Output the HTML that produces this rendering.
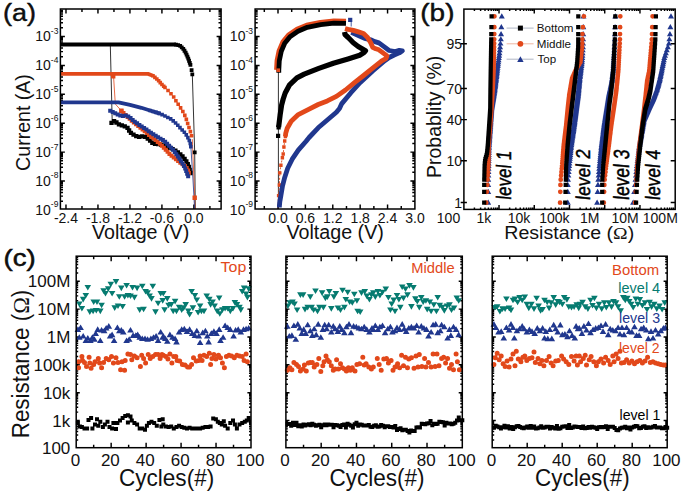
<!DOCTYPE html><html><head><meta charset="utf-8"><style>html,body{margin:0;padding:0;background:#fff;overflow:hidden}svg{display:block}text{font-family:"Liberation Sans", sans-serif}</style></head><body>
<svg width="685" height="495" viewBox="0 0 685 495">
<rect width="685" height="495" fill="#fff"/>
<text transform="translate(3.08 21.41) scale(1.0800 0.9702)" font-size="25" fill="#111" stroke="#000" stroke-width="0.4">(a)</text>
<text transform="translate(420.33 21.41) scale(1.1164 0.9702)" font-size="25" fill="#111" stroke="#000" stroke-width="0.4">(b)</text>
<text transform="translate(3.54 265.52) scale(1.1038 0.9489)" font-size="25" fill="#111" stroke="#000" stroke-width="0.5">(c)</text>
<path d="M60.4 201.2L63 201.2M221.1 201.2L218.5 201.2M60.4 196.11L63 196.11M221.1 196.11L218.5 196.11M60.4 192.5L63 192.5M221.1 192.5L218.5 192.5M60.4 189.7L63 189.7M221.1 189.7L218.5 189.7M60.4 187.41L63 187.41M221.1 187.41L218.5 187.41M60.4 185.48L63 185.48M221.1 185.48L218.5 185.48M60.4 183.8L63 183.8M221.1 183.8L218.5 183.8M60.4 182.32L63 182.32M221.1 182.32L218.5 182.32M60.4 181L64.9 181M221.1 181L216.6 181M60.4 172.3L63 172.3M221.1 172.3L218.5 172.3M60.4 167.21L63 167.21M221.1 167.21L218.5 167.21M60.4 163.6L63 163.6M221.1 163.6L218.5 163.6M60.4 160.8L63 160.8M221.1 160.8L218.5 160.8M60.4 158.51L63 158.51M221.1 158.51L218.5 158.51M60.4 156.58L63 156.58M221.1 156.58L218.5 156.58M60.4 154.9L63 154.9M221.1 154.9L218.5 154.9M60.4 153.42L63 153.42M221.1 153.42L218.5 153.42M60.4 152.1L64.9 152.1M221.1 152.1L216.6 152.1M60.4 143.4L63 143.4M221.1 143.4L218.5 143.4M60.4 138.31L63 138.31M221.1 138.31L218.5 138.31M60.4 134.7L63 134.7M221.1 134.7L218.5 134.7M60.4 131.9L63 131.9M221.1 131.9L218.5 131.9M60.4 129.61L63 129.61M221.1 129.61L218.5 129.61M60.4 127.68L63 127.68M221.1 127.68L218.5 127.68M60.4 126L63 126M221.1 126L218.5 126M60.4 124.52L63 124.52M221.1 124.52L218.5 124.52M60.4 123.2L64.9 123.2M221.1 123.2L216.6 123.2M60.4 114.5L63 114.5M221.1 114.5L218.5 114.5M60.4 109.41L63 109.41M221.1 109.41L218.5 109.41M60.4 105.8L63 105.8M221.1 105.8L218.5 105.8M60.4 103L63 103M221.1 103L218.5 103M60.4 100.71L63 100.71M221.1 100.71L218.5 100.71M60.4 98.78L63 98.78M221.1 98.78L218.5 98.78M60.4 97.1L63 97.1M221.1 97.1L218.5 97.1M60.4 95.62L63 95.62M221.1 95.62L218.5 95.62M60.4 94.3L64.9 94.3M221.1 94.3L216.6 94.3M60.4 85.6L63 85.6M221.1 85.6L218.5 85.6M60.4 80.51L63 80.51M221.1 80.51L218.5 80.51M60.4 76.9L63 76.9M221.1 76.9L218.5 76.9M60.4 74.1L63 74.1M221.1 74.1L218.5 74.1M60.4 71.81L63 71.81M221.1 71.81L218.5 71.81M60.4 69.88L63 69.88M221.1 69.88L218.5 69.88M60.4 68.2L63 68.2M221.1 68.2L218.5 68.2M60.4 66.72L63 66.72M221.1 66.72L218.5 66.72M60.4 65.4L64.9 65.4M221.1 65.4L216.6 65.4M60.4 56.7L63 56.7M221.1 56.7L218.5 56.7M60.4 51.61L63 51.61M221.1 51.61L218.5 51.61M60.4 48L63 48M221.1 48L218.5 48M60.4 45.2L63 45.2M221.1 45.2L218.5 45.2M60.4 42.91L63 42.91M221.1 42.91L218.5 42.91M60.4 40.98L63 40.98M221.1 40.98L218.5 40.98M60.4 39.3L63 39.3M221.1 39.3L218.5 39.3M60.4 37.82L63 37.82M221.1 37.82L218.5 37.82M60.4 36.5L64.9 36.5M221.1 36.5L216.6 36.5M60.4 27.8L63 27.8M221.1 27.8L218.5 27.8M60.4 22.71L63 22.71M221.1 22.71L218.5 22.71M60.4 19.1L63 19.1M221.1 19.1L218.5 19.1M60.4 16.3L63 16.3M221.1 16.3L218.5 16.3M60.4 14.01L63 14.01M221.1 14.01L218.5 14.01M60.4 12.08L63 12.08M221.1 12.08L218.5 12.08M60.4 10.4L63 10.4M221.1 10.4L218.5 10.4M65.98 209L65.98 204.5M65.98 9L65.98 13.5M81.97 209L81.97 206M81.97 9L81.97 12M97.96 209L97.96 204.5M97.96 9L97.96 13.5M113.95 209L113.95 206M113.95 9L113.95 12M129.94 209L129.94 204.5M129.94 9L129.94 13.5M145.93 209L145.93 206M145.93 9L145.93 12M161.92 209L161.92 204.5M161.92 9L161.92 13.5M177.91 209L177.91 206M177.91 9L177.91 12M193.9 209L193.9 204.5M193.9 9L193.9 13.5M209.89 209L209.89 206M209.89 9L209.89 12" stroke="#000" stroke-width="1.45" fill="none"/>
<text x="58.4" y="214.5" font-size="14" text-anchor="end" fill="#111">10<tspan font-size="8.5" dy="-7.2">-9</tspan></text>
<text x="58.4" y="185.6" font-size="14" text-anchor="end" fill="#111">10<tspan font-size="8.5" dy="-7.2">-8</tspan></text>
<text x="58.4" y="156.7" font-size="14" text-anchor="end" fill="#111">10<tspan font-size="8.5" dy="-7.2">-7</tspan></text>
<text x="58.4" y="127.8" font-size="14" text-anchor="end" fill="#111">10<tspan font-size="8.5" dy="-7.2">-6</tspan></text>
<text x="58.4" y="98.9" font-size="14" text-anchor="end" fill="#111">10<tspan font-size="8.5" dy="-7.2">-5</tspan></text>
<text x="58.4" y="70" font-size="14" text-anchor="end" fill="#111">10<tspan font-size="8.5" dy="-7.2">-4</tspan></text>
<text x="58.4" y="41.1" font-size="14" text-anchor="end" fill="#111">10<tspan font-size="8.5" dy="-7.2">-3</tspan></text>
<text x="65.98" y="223" font-size="14" text-anchor="middle" fill="#111" >-2.4</text>
<text x="97.96" y="223" font-size="14" text-anchor="middle" fill="#111" >-1.8</text>
<text x="129.94" y="223" font-size="14" text-anchor="middle" fill="#111" >-1.2</text>
<text x="161.92" y="223" font-size="14" text-anchor="middle" fill="#111" >-0.6</text>
<text x="193.9" y="223" font-size="14" text-anchor="middle" fill="#111" >0.0</text>
<text transform="translate(91.93 238.89) scale(1.0637 1.0435)" font-size="18.5" fill="#111" >Voltage (V)</text>
<text transform="translate(29.56 170.88) rotate(-90) scale(0.9788 0.9973)" font-size="20" fill="#111" >Current (A)</text>
<path d="M110.3 44.6L112.2 121" stroke="#000" stroke-width="0.8" fill="none" stroke-linejoin="round" />
<path d="M113.6 77L115.3 104L121.4 110.8" stroke="#e2481a" stroke-width="0.8" fill="none" stroke-linejoin="round" />
<path d="M192.3 74L194.7 152.4L195.3 209" stroke="#000" stroke-width="0.8" fill="none" stroke-linejoin="round" />
<path d="M192.3 139.2L194.7 197.8L195.1 209" stroke="#e2481a" stroke-width="0.8" fill="none" stroke-linejoin="round" />
<path d="M190.9 147.3L193 180L194.6 208.5" stroke="#20378e" stroke-width="0.8" fill="none" stroke-linejoin="round" />
<path d="M60.4 102.4L118.5 102.4L130 104.8L141.4 107.8L150 110.5L160 113.6" stroke="#20378e" stroke-width="3.8" fill="none" stroke-linejoin="round" />
<path d="M148.2 108.7h3.6v3.6h-3.6zM151.26 109.65h3.6v3.6h-3.6zM154.31 110.6h3.6v3.6h-3.6zM157.37 111.54h3.6v3.6h-3.6zM160.3 112.81h3.6v3.6h-3.6zM163.18 114.21h3.6v3.6h-3.6zM166.03 115.65h3.6v3.6h-3.6zM168.88 117.12h3.6v3.6h-3.6zM171.42 119.03h3.6v3.6h-3.6zM173.78 121.19h3.6v3.6h-3.6zM176 123.49h3.6v3.6h-3.6zM178.16 125.85h3.6v3.6h-3.6zM180.37 128.17h3.6v3.6h-3.6zM182.56 130.49h3.6v3.6h-3.6zM184.46 133.07h3.6v3.6h-3.6zM186.09 135.82h3.6v3.6h-3.6zM187.48 138.69h3.6v3.6h-3.6zM188.48 141.72h3.6v3.6h-3.6zM189 144.88h3.6v3.6h-3.6z" fill="#20378e"/>
<path d="M60.4 73.9L148 73.9L153 75.8" stroke="#e2481a" stroke-width="3.8" fill="none" stroke-linejoin="round" />
<path d="M151.2 74h3.6v3.6h-3.6zM153.11 75.61h3.6v3.6h-3.6zM155.03 77.22h3.6v3.6h-3.6zM156.83 78.94h3.6v3.6h-3.6zM158.46 80.83h3.6v3.6h-3.6zM160.16 82.66h3.6v3.6h-3.6zM161.93 84.43h3.6v3.6h-3.6z" fill="#e2481a"/>
<path d="M163.2 85.7h3.6v3.6h-3.6zM166.24 88.74h3.6v3.6h-3.6zM169.18 91.88h3.6v3.6h-3.6zM171.89 95.19h3.6v3.6h-3.6zM174.1 98.88h3.6v3.6h-3.6zM176.39 102.52h3.6v3.6h-3.6zM178.79 106.09h3.6v3.6h-3.6zM181.05 109.75h3.6v3.6h-3.6zM183.01 113.56h3.6v3.6h-3.6zM184.55 117.57h3.6v3.6h-3.6zM185.86 121.66h3.6v3.6h-3.6zM187.19 125.75h3.6v3.6h-3.6zM188.6 129.82h3.6v3.6h-3.6zM189.81 133.93h3.6v3.6h-3.6z" fill="#e2481a"/>
<path d="M192.5 195.6h4.4v4.4h-4.4zM111 74.2h4.4v4.4h-4.4zM119.2 108.6h4.4v4.4h-4.4z" fill="#e2481a"/>
<path d="M109.35 120.65h4.3v4.3h-4.3zM111.93 118.93h4.3v4.3h-4.3zM114.31 120.35h4.3v4.3h-4.3zM116.8 122.14h4.3v4.3h-4.3zM119.68 123.28h4.3v4.3h-4.3zM122.62 124.27h4.3v4.3h-4.3zM125.36 125.7h4.3v4.3h-4.3zM126.97 128.34h4.3v4.3h-4.3zM128.79 130.78h4.3v4.3h-4.3zM131.37 132.5h4.3v4.3h-4.3zM134.08 133.99h4.3v4.3h-4.3zM136.93 134.78h4.3v4.3h-4.3zM139.99 134.26h4.3v4.3h-4.3zM143.04 134.8h4.3v4.3h-4.3zM145.59 136.42h4.3v4.3h-4.3zM147.95 138.43h4.3v4.3h-4.3zM150.18 140.58h4.3v4.3h-4.3zM152.87 141.66h4.3v4.3h-4.3zM155.96 141.88h4.3v4.3h-4.3zM158.99 142.55h4.3v4.3h-4.3zM162.01 143.23h4.3v4.3h-4.3zM164.86 144.44h4.3v4.3h-4.3zM167.66 145.76h4.3v4.3h-4.3zM170.49 147.03h4.3v4.3h-4.3zM173.24 148.42h4.3v4.3h-4.3zM175.72 150.29h4.3v4.3h-4.3zM178.18 152.18h4.3v4.3h-4.3zM180.37 154.37h4.3v4.3h-4.3zM182.44 156.66h4.3v4.3h-4.3zM184.21 159.21h4.3v4.3h-4.3zM185.65 161.95h4.3v4.3h-4.3zM186.79 164.81h4.3v4.3h-4.3zM187.54 167.82h4.3v4.3h-4.3zM188.17 170.85h4.3v4.3h-4.3z" fill="#000"/>
<path d="M119.4 109.2h4v4h-4zM121.5 111.06h4v4h-4zM123.55 112.96h4v4h-4zM125.59 114.88h4v4h-4zM127.66 116.76h4v4h-4zM129.73 118.65h4v4h-4zM131.85 120.48h4v4h-4zM134.04 122.22h4v4h-4zM136.23 123.97h4v4h-4zM138.42 125.71h4v4h-4zM140.57 127.5h4v4h-4zM142.71 129.31h4v4h-4zM144.84 131.12h4v4h-4zM146.98 132.93h4v4h-4zM149.17 134.68h4v4h-4zM151.41 136.36h4v4h-4zM153.62 138.07h4v4h-4zM155.74 139.9h4v4h-4zM157.85 141.74h4v4h-4zM159.86 143.69h4v4h-4zM161.81 145.7h4v4h-4zM163.71 147.75h4v4h-4zM165.58 149.84h4v4h-4zM167.45 151.92h4v4h-4zM169.58 153.73h4v4h-4zM171.76 155.49h4v4h-4zM173.94 157.25h4v4h-4zM176.12 159h4v4h-4zM178.32 160.73h4v4h-4zM180.62 162.33h4v4h-4zM182.91 163.94h4v4h-4zM184.68 166.11h4v4h-4zM186.22 168.4h4v4h-4zM186.89 171.12h4v4h-4z" fill="#e2481a"/>
<path d="M108.2 108.7h4v4h-4zM110.73 109.9h4v4h-4zM113.22 111.17h4v4h-4zM115.68 112.52h4v4h-4zM118.3 113.46h4v4h-4zM121.02 113.9h4v4h-4zM123.8 113.62h4v4h-4zM126.3 114.43h4v4h-4zM128.57 116.06h4v4h-4zM130.66 117.93h4v4h-4zM132.81 119.72h4v4h-4zM135.1 121.32h4v4h-4zM137.4 122.92h4v4h-4zM139.72 124.49h4v4h-4zM142.09 125.99h4v4h-4zM144.43 127.52h4v4h-4zM146.69 129.18h4v4h-4zM148.94 130.84h4v4h-4zM151.31 132.32h4v4h-4zM153.71 133.77h4v4h-4zM156.1 135.22h4v4h-4zM158.5 136.66h4v4h-4zM160.9 138.1h4v4h-4zM163.15 139.75h4v4h-4zM165.13 141.73h4v4h-4zM167.11 143.71h4v4h-4zM169.09 145.69h4v4h-4zM171.07 147.67h4v4h-4zM172.75 149.89h4v4h-4zM174.32 152.21h4v4h-4zM175.89 154.53h4v4h-4zM177.43 156.87h4v4h-4zM178.97 159.2h4v4h-4zM180.48 161.57h4v4h-4zM181.96 163.94h4v4h-4zM183.22 166.42h4v4h-4zM184.21 169.04h4v4h-4zM185.19 171.67h4v4h-4zM186.15 174.3h4v4h-4z" fill="#20378e"/>
<path d="M60.4 44.6L176 44.6" stroke="#000" stroke-width="4" fill="none" stroke-linejoin="round" />
<path d="M174.1 42.7h3.8v3.8h-3.8zM176.23 43.23h3.8v3.8h-3.8zM178.3 43.9h3.8v3.8h-3.8zM179.85 45.45h3.8v3.8h-3.8zM181.38 47.03h3.8v3.8h-3.8zM182.59 48.87h3.8v3.8h-3.8zM183.75 50.73h3.8v3.8h-3.8zM184.67 52.73h3.8v3.8h-3.8zM185.56 54.74h3.8v3.8h-3.8zM186.37 56.78h3.8v3.8h-3.8zM187.14 58.84h3.8v3.8h-3.8zM187.87 60.92h3.8v3.8h-3.8zM188.53 63.02h3.8v3.8h-3.8z" fill="#000"/>
<path d="M189.7 68.3h3.8v3.8h-3.8zM190.4 72.5h3.8v3.8h-3.8zM192.8 150.5h3.8v3.8h-3.8z" fill="#000"/>
<rect x="60.4" y="9" width="160.7" height="200" fill="none" stroke="#000" stroke-width="1.5"/>
<path d="M255.1 201.2L257.7 201.2M414.9 201.2L412.3 201.2M255.1 196.11L257.7 196.11M414.9 196.11L412.3 196.11M255.1 192.5L257.7 192.5M414.9 192.5L412.3 192.5M255.1 189.7L257.7 189.7M414.9 189.7L412.3 189.7M255.1 187.41L257.7 187.41M414.9 187.41L412.3 187.41M255.1 185.48L257.7 185.48M414.9 185.48L412.3 185.48M255.1 183.8L257.7 183.8M414.9 183.8L412.3 183.8M255.1 182.32L257.7 182.32M414.9 182.32L412.3 182.32M255.1 181L259.6 181M414.9 181L410.4 181M255.1 172.3L257.7 172.3M414.9 172.3L412.3 172.3M255.1 167.21L257.7 167.21M414.9 167.21L412.3 167.21M255.1 163.6L257.7 163.6M414.9 163.6L412.3 163.6M255.1 160.8L257.7 160.8M414.9 160.8L412.3 160.8M255.1 158.51L257.7 158.51M414.9 158.51L412.3 158.51M255.1 156.58L257.7 156.58M414.9 156.58L412.3 156.58M255.1 154.9L257.7 154.9M414.9 154.9L412.3 154.9M255.1 153.42L257.7 153.42M414.9 153.42L412.3 153.42M255.1 152.1L259.6 152.1M414.9 152.1L410.4 152.1M255.1 143.4L257.7 143.4M414.9 143.4L412.3 143.4M255.1 138.31L257.7 138.31M414.9 138.31L412.3 138.31M255.1 134.7L257.7 134.7M414.9 134.7L412.3 134.7M255.1 131.9L257.7 131.9M414.9 131.9L412.3 131.9M255.1 129.61L257.7 129.61M414.9 129.61L412.3 129.61M255.1 127.68L257.7 127.68M414.9 127.68L412.3 127.68M255.1 126L257.7 126M414.9 126L412.3 126M255.1 124.52L257.7 124.52M414.9 124.52L412.3 124.52M255.1 123.2L259.6 123.2M414.9 123.2L410.4 123.2M255.1 114.5L257.7 114.5M414.9 114.5L412.3 114.5M255.1 109.41L257.7 109.41M414.9 109.41L412.3 109.41M255.1 105.8L257.7 105.8M414.9 105.8L412.3 105.8M255.1 103L257.7 103M414.9 103L412.3 103M255.1 100.71L257.7 100.71M414.9 100.71L412.3 100.71M255.1 98.78L257.7 98.78M414.9 98.78L412.3 98.78M255.1 97.1L257.7 97.1M414.9 97.1L412.3 97.1M255.1 95.62L257.7 95.62M414.9 95.62L412.3 95.62M255.1 94.3L259.6 94.3M414.9 94.3L410.4 94.3M255.1 85.6L257.7 85.6M414.9 85.6L412.3 85.6M255.1 80.51L257.7 80.51M414.9 80.51L412.3 80.51M255.1 76.9L257.7 76.9M414.9 76.9L412.3 76.9M255.1 74.1L257.7 74.1M414.9 74.1L412.3 74.1M255.1 71.81L257.7 71.81M414.9 71.81L412.3 71.81M255.1 69.88L257.7 69.88M414.9 69.88L412.3 69.88M255.1 68.2L257.7 68.2M414.9 68.2L412.3 68.2M255.1 66.72L257.7 66.72M414.9 66.72L412.3 66.72M255.1 65.4L259.6 65.4M414.9 65.4L410.4 65.4M255.1 56.7L257.7 56.7M414.9 56.7L412.3 56.7M255.1 51.61L257.7 51.61M414.9 51.61L412.3 51.61M255.1 48L257.7 48M414.9 48L412.3 48M255.1 45.2L257.7 45.2M414.9 45.2L412.3 45.2M255.1 42.91L257.7 42.91M414.9 42.91L412.3 42.91M255.1 40.98L257.7 40.98M414.9 40.98L412.3 40.98M255.1 39.3L257.7 39.3M414.9 39.3L412.3 39.3M255.1 37.82L257.7 37.82M414.9 37.82L412.3 37.82M255.1 36.5L259.6 36.5M414.9 36.5L410.4 36.5M255.1 27.8L257.7 27.8M414.9 27.8L412.3 27.8M255.1 22.71L257.7 22.71M414.9 22.71L412.3 22.71M255.1 19.1L257.7 19.1M414.9 19.1L412.3 19.1M255.1 16.3L257.7 16.3M414.9 16.3L412.3 16.3M255.1 14.01L257.7 14.01M414.9 14.01L412.3 14.01M255.1 12.08L257.7 12.08M414.9 12.08L412.3 12.08M255.1 10.4L257.7 10.4M414.9 10.4L412.3 10.4M264.31 209L264.31 206M264.31 9L264.31 12M278 209L278 204.5M278 9L278 13.5M291.69 209L291.69 206M291.69 9L291.69 12M305.39 209L305.39 204.5M305.39 9L305.39 13.5M319.08 209L319.08 206M319.08 9L319.08 12M332.78 209L332.78 204.5M332.78 9L332.78 13.5M346.48 209L346.48 206M346.48 9L346.48 12M360.17 209L360.17 204.5M360.17 9L360.17 13.5M373.87 209L373.87 206M373.87 9L373.87 12M387.56 209L387.56 204.5M387.56 9L387.56 13.5M401.25 209L401.25 206M401.25 9L401.25 12" stroke="#000" stroke-width="1.45" fill="none"/>
<text x="253" y="214.5" font-size="14" text-anchor="end" fill="#111">10<tspan font-size="8.5" dy="-7.2">-9</tspan></text>
<text x="253" y="185.6" font-size="14" text-anchor="end" fill="#111">10<tspan font-size="8.5" dy="-7.2">-8</tspan></text>
<text x="253" y="156.7" font-size="14" text-anchor="end" fill="#111">10<tspan font-size="8.5" dy="-7.2">-7</tspan></text>
<text x="253" y="127.8" font-size="14" text-anchor="end" fill="#111">10<tspan font-size="8.5" dy="-7.2">-6</tspan></text>
<text x="253" y="98.9" font-size="14" text-anchor="end" fill="#111">10<tspan font-size="8.5" dy="-7.2">-5</tspan></text>
<text x="253" y="70" font-size="14" text-anchor="end" fill="#111">10<tspan font-size="8.5" dy="-7.2">-4</tspan></text>
<text x="253" y="41.1" font-size="14" text-anchor="end" fill="#111">10<tspan font-size="8.5" dy="-7.2">-3</tspan></text>
<text x="278" y="223" font-size="14" text-anchor="middle" fill="#111" >0.0</text>
<text x="305.39" y="223" font-size="14" text-anchor="middle" fill="#111" >0.6</text>
<text x="332.78" y="223" font-size="14" text-anchor="middle" fill="#111" >1.2</text>
<text x="360.17" y="223" font-size="14" text-anchor="middle" fill="#111" >1.8</text>
<text x="387.56" y="223" font-size="14" text-anchor="middle" fill="#111" >2.4</text>
<text x="414.95" y="223" font-size="14" text-anchor="middle" fill="#111" >3.0</text>
<text transform="translate(286.53 238.89) scale(1.0637 1.0435)" font-size="18.5" fill="#111" >Voltage (V)</text>
<path d="M278.4 72L278.4 209" stroke="#000" stroke-width="0.8" fill="none" stroke-linejoin="round" />
<path d="M351.2 21L351.2 26.5" stroke="#20378e" stroke-width="0.8" fill="none" stroke-linejoin="round" />
<path d="M277.8 207.7L278.6 195.6L279.4 185L279.8 172.9L280.9 165.3L282.4 157.7L283.2 154L283.9 147L284.7 141L285.4 136.5" stroke="#e2481a" stroke-width="0.9" fill="none" stroke-linejoin="round" stroke-dasharray="2 1.5"/>
<path d="M276.9 193.9h3.4v3.4h-3.4zM277.7 183.3h3.4v3.4h-3.4zM278.1 171.2h3.4v3.4h-3.4zM279.2 163.6h3.4v3.4h-3.4zM280.7 156h3.4v3.4h-3.4zM281.5 152.3h3.4v3.4h-3.4zM282.2 145.3h3.4v3.4h-3.4zM283 139.3h3.4v3.4h-3.4zM283.7 134.8h3.4v3.4h-3.4z" fill="#e2481a"/>
<path d="M279.4 207.5L279.4 206.2L279.8 201.7L280.9 195.6L282.4 186.5L284.7 177.4L287.7 168.3L292.2 159.2L298.3 150.2L305.9 141.5L309.1 137.5L318.2 127.8L327.3 120L336.4 112.2L339.5 108.5L341.8 103.6L350.9 92.7L360 82.7L372.7 70.9L385 60.5L389.1 57.5L394.2 55L399.3 52.9L402.4 50.8L399.3 50.4L395.2 51.5L389.1 50.5L384 46.7L378.9 42.9L374.8 41.6L370.7 39.8L364.6 38.4L358.4 35.5L351.3 32.4" stroke="#20378e" stroke-width="4.8" fill="none" stroke-linejoin="round" />
<path d="M285.4 136.5L285.7 133.4L287.2 128.3L291.2 121.3L298.3 114.6L309.1 109.1L318.2 104.5L327.3 100.9L336.4 96.4L345.5 90L354.5 82.7L363.6 75.5L372.7 68.2L381.8 60.9L386 58.5L387 55.9L383 52.9L378.9 49.8L375.8 48.8L372.7 47.3L370.7 42.7L367.6 37.5L363.5 33.5L358.4 31.9L353.3 30.4L348.2 29.4L345 28.6" stroke="#e2481a" stroke-width="4.8" fill="none" stroke-linejoin="round" />
<path d="M278.6 127.3L279.1 123.3L280.1 115.2L281.6 105.1L283.2 99L285.2 93L289.6 84.8L296.9 77.8L304.2 74.2L318.8 68.4L333.4 63.2L348 58.9L359.7 55.2L364 52.5L365.5 50.8L358.2 46.5L353.3 42.7L348.2 37.5L345 34.5L344.6 32" stroke="#000" stroke-width="5.2" fill="none" stroke-linejoin="round" />
<path d="M276 133.8h4.2v4.2h-4.2zM276.5 125.2h4.2v4.2h-4.2z" fill="#000"/>
<path d="M276.5 69.88L277.02 60.4L279.1 50.62L282.72 42.12L288.46 34.99L296.9 29.28L306.66 25.09L320.35 22.43L333.88 20.9L346.04 21.1" stroke="#e2481a" stroke-width="4.8" fill="none" stroke-linejoin="round" />
<path d="M278.8 72.8L278.8 70L279.3 60.7L281.3 51.3L284.7 43.3L290 36.7L298 31.3L307.3 27.3L320.7 24.7L334 23.2L346 23.4" stroke="#000" stroke-width="4.8" fill="none" stroke-linejoin="round" />
<path d="M276.4 68.4h3.6v3.6h-3.6z" fill="#e2481a"/>
<path d="M348.1 17.8h4.2v4.2h-4.2z" fill="#20378e"/>
<rect x="255.1" y="9" width="159.8" height="200" fill="none" stroke="#000" stroke-width="1.5"/>
<path d="M474.41 209.4L474.41 207.4M474.41 9.1L474.41 11.1M480.61 209.4L480.61 207.4M480.61 9.1L480.61 11.1M485.01 209.4L485.01 207.4M485.01 9.1L485.01 11.1M488.42 209.4L488.42 207.4M488.42 9.1L488.42 11.1M491.21 209.4L491.21 207.4M491.21 9.1L491.21 11.1M493.57 209.4L493.57 207.4M493.57 9.1L493.57 11.1M495.62 209.4L495.62 207.4M495.62 9.1L495.62 11.1M497.42 209.4L497.42 207.4M497.42 9.1L497.42 11.1M499.03 209.4L499.03 204.9M499.03 9.1L499.03 13.6M509.64 209.4L509.64 207.4M509.64 9.1L509.64 11.1M515.84 209.4L515.84 207.4M515.84 9.1L515.84 11.1M520.24 209.4L520.24 207.4M520.24 9.1L520.24 11.1M523.65 209.4L523.65 207.4M523.65 9.1L523.65 11.1M526.44 209.4L526.44 207.4M526.44 9.1L526.44 11.1M528.8 209.4L528.8 207.4M528.8 9.1L528.8 11.1M530.85 209.4L530.85 207.4M530.85 9.1L530.85 11.1M532.65 209.4L532.65 207.4M532.65 9.1L532.65 11.1M534.26 209.4L534.26 204.9M534.26 9.1L534.26 13.6M544.87 209.4L544.87 207.4M544.87 9.1L544.87 11.1M551.07 209.4L551.07 207.4M551.07 9.1L551.07 11.1M555.47 209.4L555.47 207.4M555.47 9.1L555.47 11.1M558.88 209.4L558.88 207.4M558.88 9.1L558.88 11.1M561.67 209.4L561.67 207.4M561.67 9.1L561.67 11.1M564.03 209.4L564.03 207.4M564.03 9.1L564.03 11.1M566.08 209.4L566.08 207.4M566.08 9.1L566.08 11.1M567.88 209.4L567.88 207.4M567.88 9.1L567.88 11.1M569.49 209.4L569.49 204.9M569.49 9.1L569.49 13.6M580.1 209.4L580.1 207.4M580.1 9.1L580.1 11.1M586.3 209.4L586.3 207.4M586.3 9.1L586.3 11.1M590.7 209.4L590.7 207.4M590.7 9.1L590.7 11.1M594.11 209.4L594.11 207.4M594.11 9.1L594.11 11.1M596.9 209.4L596.9 207.4M596.9 9.1L596.9 11.1M599.26 209.4L599.26 207.4M599.26 9.1L599.26 11.1M601.31 209.4L601.31 207.4M601.31 9.1L601.31 11.1M603.11 209.4L603.11 207.4M603.11 9.1L603.11 11.1M604.72 209.4L604.72 204.9M604.72 9.1L604.72 13.6M615.33 209.4L615.33 207.4M615.33 9.1L615.33 11.1M621.53 209.4L621.53 207.4M621.53 9.1L621.53 11.1M625.93 209.4L625.93 207.4M625.93 9.1L625.93 11.1M629.34 209.4L629.34 207.4M629.34 9.1L629.34 11.1M632.13 209.4L632.13 207.4M632.13 9.1L632.13 11.1M634.49 209.4L634.49 207.4M634.49 9.1L634.49 11.1M636.54 209.4L636.54 207.4M636.54 9.1L636.54 11.1M638.34 209.4L638.34 207.4M638.34 9.1L638.34 11.1M639.95 209.4L639.95 204.9M639.95 9.1L639.95 13.6M650.56 209.4L650.56 207.4M650.56 9.1L650.56 11.1M656.76 209.4L656.76 207.4M656.76 9.1L656.76 11.1M661.16 209.4L661.16 207.4M661.16 9.1L661.16 11.1M664.57 209.4L664.57 207.4M664.57 9.1L664.57 11.1M667.36 209.4L667.36 207.4M667.36 9.1L667.36 11.1M669.72 209.4L669.72 207.4M669.72 9.1L669.72 11.1M671.77 209.4L671.77 207.4M671.77 9.1L671.77 11.1M673.57 209.4L673.57 207.4M673.57 9.1L673.57 11.1M460.7 202.55L466.9 202.55M675.2 202.55L670.7 202.55M460.7 160.76L466.9 160.76M675.2 160.76L670.7 160.76M460.7 119.63L466.9 119.63M675.2 119.63L670.7 119.63M460.7 88.52L466.9 88.52M675.2 88.52L670.7 88.52M460.7 43.71L466.9 43.71M675.2 43.71L670.7 43.71" stroke="#000" stroke-width="1.45" fill="none"/>
<text x="462" y="207.55" font-size="14" text-anchor="end" fill="#111" >1</text>
<text x="462" y="165.76" font-size="14" text-anchor="end" fill="#111" >10</text>
<text x="462" y="124.63" font-size="14" text-anchor="end" fill="#111" >40</text>
<text x="462" y="93.52" font-size="14" text-anchor="end" fill="#111" >70</text>
<text x="462" y="48.71" font-size="14" text-anchor="end" fill="#111" >95</text>
<text x="448.5" y="223" font-size="14" text-anchor="middle" fill="#111" >100</text>
<text x="483.8" y="223" font-size="14" text-anchor="middle" fill="#111" >1k</text>
<text x="519.1" y="223" font-size="14" text-anchor="middle" fill="#111" >10k</text>
<text x="554.4" y="223" font-size="14" text-anchor="middle" fill="#111" >100k</text>
<text x="589.7" y="223" font-size="14" text-anchor="middle" fill="#111" >1M</text>
<text x="625" y="223" font-size="14" text-anchor="middle" fill="#111" >10M</text>
<text x="660.3" y="223" font-size="14" text-anchor="middle" fill="#111" >100M</text>
<text transform="translate(504.31 239.46) scale(1.0592 0.9449)" font-size="18.5" fill="#111" >Resistance (<tspan font-family="Liberation Serif">&#937;</tspan>)</text>
<text transform="translate(440.81 177.90) rotate(-90) scale(0.9979 0.9973)" font-size="19.5" fill="#111" >Probablity (%)</text>
<text transform="translate(511.00 199.38) rotate(-90) scale(0.9400 1.1615) translate(-0.80 0) skewX(-7)" font-size="18" fill="#000" stroke="#000" stroke-width="0.4">level 1</text>
<text transform="translate(590.40 199.72) rotate(-90) scale(0.9769 1.1154) translate(-0.80 0) skewX(-7)" font-size="18" fill="#000" stroke="#000" stroke-width="0.4">level 2</text>
<text transform="translate(629.20 199.72) rotate(-90) scale(0.9720 1.2154) translate(-0.80 0) skewX(-7)" font-size="18" fill="#000" stroke="#000" stroke-width="0.4">level 3</text>
<text transform="translate(659.80 199.71) rotate(-90) scale(0.9672 1.1462) translate(-0.80 0) skewX(-7)" font-size="18" fill="#000" stroke="#000" stroke-width="0.4">level 4</text>
<line x1="506.6" y1="28.1" x2="533.6" y2="28.1" stroke="#9aa3b5" stroke-width="0.8"/>
<path d="M517.9 25.6h5v5h-5z" fill="#000"/>
<line x1="506.6" y1="43.8" x2="533.6" y2="43.8" stroke="#e8a38a" stroke-width="0.8"/>
<path d="M517.5 43.8a2.9 2.9 0 1 0 5.8 0a2.9 2.9 0 1 0 -5.8 0z" fill="#e2481a"/>
<line x1="506.6" y1="59.2" x2="533.6" y2="59.2" stroke="#9aa3b5" stroke-width="0.8"/>
<path d="M520.4 56.34l3.2 5.6h-6.4z" fill="#20378e"/>
<text transform="translate(536.79 32.20) scale(1.0101 1.0125)" font-size="11.5" fill="#111" >Bottom</text>
<text transform="translate(536.79 47.80) scale(1.0092 1.0118)" font-size="11.5" fill="#111" >Middle</text>
<text transform="translate(537.55 62.98) scale(1.0085 1.0095)" font-size="11.5" fill="#111" >Top</text>
<path d="M488.2 199.58l3 5.2h-6zM488.2 188.69l3 5.2h-6zM488.2 181.79l3 5.2h-6zM488.25 176.59l3 5.2h-6zM488.34 172.37l3 5.2h-6zM488.42 168.77l3 5.2h-6zM488.49 165.62l3 5.2h-6zM488.55 162.8l3 5.2h-6zM488.61 160.23l3 5.2h-6zM488.66 157.87l3 5.2h-6zM488.71 155.67l3 5.2h-6zM488.75 153.62l3 5.2h-6zM488.8 151.68l3 5.2h-6zM488.84 149.84l3 5.2h-6zM488.87 148.09l3 5.2h-6zM488.91 146.42l3 5.2h-6zM488.95 144.81l3 5.2h-6zM488.98 143.27l3 5.2h-6zM489.04 141.77l3 5.2h-6zM489.14 140.33l3 5.2h-6zM489.24 138.93l3 5.2h-6zM489.33 137.56l3 5.2h-6zM489.43 136.23l3 5.2h-6zM489.52 134.94l3 5.2h-6zM489.6 133.67l3 5.2h-6zM489.69 132.43l3 5.2h-6zM489.78 131.22l3 5.2h-6zM489.86 130.02l3 5.2h-6zM489.94 128.85l3 5.2h-6zM490.02 127.7l3 5.2h-6zM490.1 126.56l3 5.2h-6zM490.18 125.44l3 5.2h-6zM490.25 124.34l3 5.2h-6zM490.33 123.25l3 5.2h-6zM490.4 122.17l3 5.2h-6zM490.48 121.1l3 5.2h-6zM490.55 120.04l3 5.2h-6zM490.62 119l3 5.2h-6zM490.7 117.96l3 5.2h-6zM490.77 116.92l3 5.2h-6zM490.84 115.9l3 5.2h-6zM490.91 114.88l3 5.2h-6zM490.98 113.87l3 5.2h-6zM491.05 112.86l3 5.2h-6zM491.12 111.86l3 5.2h-6zM491.19 110.86l3 5.2h-6zM491.26 109.86l3 5.2h-6zM491.33 108.86l3 5.2h-6zM491.4 107.87l3 5.2h-6zM491.47 106.88l3 5.2h-6zM491.58 105.88l3 5.2h-6zM491.75 104.89l3 5.2h-6zM491.91 103.9l3 5.2h-6zM492.07 102.9l3 5.2h-6zM492.24 101.9l3 5.2h-6zM492.4 100.9l3 5.2h-6zM492.57 99.9l3 5.2h-6zM492.73 98.89l3 5.2h-6zM492.9 97.88l3 5.2h-6zM493.07 96.86l3 5.2h-6zM493.24 95.84l3 5.2h-6zM493.41 94.8l3 5.2h-6zM493.58 93.76l3 5.2h-6zM493.75 92.72l3 5.2h-6zM493.93 91.66l3 5.2h-6zM494.1 90.59l3 5.2h-6zM494.28 89.51l3 5.2h-6zM494.46 88.42l3 5.2h-6zM494.63 87.32l3 5.2h-6zM494.78 86.2l3 5.2h-6zM494.93 85.06l3 5.2h-6zM495.08 83.91l3 5.2h-6zM495.23 82.74l3 5.2h-6zM495.38 81.54l3 5.2h-6zM495.54 80.33l3 5.2h-6zM495.7 79.09l3 5.2h-6zM495.87 77.82l3 5.2h-6zM496.04 76.53l3 5.2h-6zM496.21 75.2l3 5.2h-6zM496.39 73.83l3 5.2h-6zM496.57 72.43l3 5.2h-6zM496.76 70.99l3 5.2h-6zM496.95 69.49l3 5.2h-6zM497.15 67.95l3 5.2h-6zM497.36 66.34l3 5.2h-6zM497.58 64.67l3 5.2h-6zM497.81 62.92l3 5.2h-6zM498.06 61.08l3 5.2h-6zM498.31 59.14l3 5.2h-6zM498.58 57.09l3 5.2h-6zM498.87 54.89l3 5.2h-6zM499.18 52.53l3 5.2h-6zM499.45 49.96l3 5.2h-6zM499.75 47.14l3 5.2h-6zM500.08 43.99l3 5.2h-6zM500.46 40.39l3 5.2h-6zM500.84 36.17l3 5.2h-6zM501.06 30.97l3 5.2h-6zM501.35 24.07l3 5.2h-6zM501.8 13.18l3 5.2h-6z" fill="#20378e"/>
<path d="M483.8 202.7a2.4 2.4 0 1 0 4.8 0a2.4 2.4 0 1 0 -4.8 0zM484.44 191.81a2.4 2.4 0 1 0 4.8 0a2.4 2.4 0 1 0 -4.8 0zM484.85 184.91a2.4 2.4 0 1 0 4.8 0a2.4 2.4 0 1 0 -4.8 0zM485.16 179.71a2.4 2.4 0 1 0 4.8 0a2.4 2.4 0 1 0 -4.8 0zM485.41 175.49a2.4 2.4 0 1 0 4.8 0a2.4 2.4 0 1 0 -4.8 0zM485.62 171.89a2.4 2.4 0 1 0 4.8 0a2.4 2.4 0 1 0 -4.8 0zM485.81 168.74a2.4 2.4 0 1 0 4.8 0a2.4 2.4 0 1 0 -4.8 0zM485.98 165.92a2.4 2.4 0 1 0 4.8 0a2.4 2.4 0 1 0 -4.8 0zM486.02 163.35a2.4 2.4 0 1 0 4.8 0a2.4 2.4 0 1 0 -4.8 0zM486.05 160.99a2.4 2.4 0 1 0 4.8 0a2.4 2.4 0 1 0 -4.8 0zM486.07 158.79a2.4 2.4 0 1 0 4.8 0a2.4 2.4 0 1 0 -4.8 0zM486.09 156.74a2.4 2.4 0 1 0 4.8 0a2.4 2.4 0 1 0 -4.8 0zM486.11 154.8a2.4 2.4 0 1 0 4.8 0a2.4 2.4 0 1 0 -4.8 0zM486.13 152.96a2.4 2.4 0 1 0 4.8 0a2.4 2.4 0 1 0 -4.8 0zM486.14 151.21a2.4 2.4 0 1 0 4.8 0a2.4 2.4 0 1 0 -4.8 0zM486.16 149.54a2.4 2.4 0 1 0 4.8 0a2.4 2.4 0 1 0 -4.8 0zM486.18 147.93a2.4 2.4 0 1 0 4.8 0a2.4 2.4 0 1 0 -4.8 0zM486.19 146.39a2.4 2.4 0 1 0 4.8 0a2.4 2.4 0 1 0 -4.8 0zM486.25 144.89a2.4 2.4 0 1 0 4.8 0a2.4 2.4 0 1 0 -4.8 0zM486.36 143.45a2.4 2.4 0 1 0 4.8 0a2.4 2.4 0 1 0 -4.8 0zM486.47 142.05a2.4 2.4 0 1 0 4.8 0a2.4 2.4 0 1 0 -4.8 0zM486.57 140.68a2.4 2.4 0 1 0 4.8 0a2.4 2.4 0 1 0 -4.8 0zM486.68 139.35a2.4 2.4 0 1 0 4.8 0a2.4 2.4 0 1 0 -4.8 0zM486.78 138.06a2.4 2.4 0 1 0 4.8 0a2.4 2.4 0 1 0 -4.8 0zM486.88 136.79a2.4 2.4 0 1 0 4.8 0a2.4 2.4 0 1 0 -4.8 0zM486.97 135.55a2.4 2.4 0 1 0 4.8 0a2.4 2.4 0 1 0 -4.8 0zM487.07 134.34a2.4 2.4 0 1 0 4.8 0a2.4 2.4 0 1 0 -4.8 0zM487.16 133.14a2.4 2.4 0 1 0 4.8 0a2.4 2.4 0 1 0 -4.8 0zM487.25 131.97a2.4 2.4 0 1 0 4.8 0a2.4 2.4 0 1 0 -4.8 0zM487.34 130.82a2.4 2.4 0 1 0 4.8 0a2.4 2.4 0 1 0 -4.8 0zM487.43 129.68a2.4 2.4 0 1 0 4.8 0a2.4 2.4 0 1 0 -4.8 0zM487.52 128.56a2.4 2.4 0 1 0 4.8 0a2.4 2.4 0 1 0 -4.8 0zM487.6 127.46a2.4 2.4 0 1 0 4.8 0a2.4 2.4 0 1 0 -4.8 0zM487.69 126.37a2.4 2.4 0 1 0 4.8 0a2.4 2.4 0 1 0 -4.8 0zM487.77 125.29a2.4 2.4 0 1 0 4.8 0a2.4 2.4 0 1 0 -4.8 0zM487.86 124.22a2.4 2.4 0 1 0 4.8 0a2.4 2.4 0 1 0 -4.8 0zM487.94 123.16a2.4 2.4 0 1 0 4.8 0a2.4 2.4 0 1 0 -4.8 0zM488.02 122.12a2.4 2.4 0 1 0 4.8 0a2.4 2.4 0 1 0 -4.8 0zM488.1 121.08a2.4 2.4 0 1 0 4.8 0a2.4 2.4 0 1 0 -4.8 0zM488.18 120.04a2.4 2.4 0 1 0 4.8 0a2.4 2.4 0 1 0 -4.8 0zM488.26 119.02a2.4 2.4 0 1 0 4.8 0a2.4 2.4 0 1 0 -4.8 0zM488.34 118a2.4 2.4 0 1 0 4.8 0a2.4 2.4 0 1 0 -4.8 0zM488.42 116.99a2.4 2.4 0 1 0 4.8 0a2.4 2.4 0 1 0 -4.8 0zM488.5 115.98a2.4 2.4 0 1 0 4.8 0a2.4 2.4 0 1 0 -4.8 0zM488.57 114.98a2.4 2.4 0 1 0 4.8 0a2.4 2.4 0 1 0 -4.8 0zM488.65 113.98a2.4 2.4 0 1 0 4.8 0a2.4 2.4 0 1 0 -4.8 0zM488.73 112.98a2.4 2.4 0 1 0 4.8 0a2.4 2.4 0 1 0 -4.8 0zM488.81 111.98a2.4 2.4 0 1 0 4.8 0a2.4 2.4 0 1 0 -4.8 0zM488.88 110.99a2.4 2.4 0 1 0 4.8 0a2.4 2.4 0 1 0 -4.8 0zM488.96 110a2.4 2.4 0 1 0 4.8 0a2.4 2.4 0 1 0 -4.8 0zM489.03 109a2.4 2.4 0 1 0 4.8 0a2.4 2.4 0 1 0 -4.8 0zM489.1 108.01a2.4 2.4 0 1 0 4.8 0a2.4 2.4 0 1 0 -4.8 0zM489.16 107.02a2.4 2.4 0 1 0 4.8 0a2.4 2.4 0 1 0 -4.8 0zM489.22 106.02a2.4 2.4 0 1 0 4.8 0a2.4 2.4 0 1 0 -4.8 0zM489.29 105.02a2.4 2.4 0 1 0 4.8 0a2.4 2.4 0 1 0 -4.8 0zM489.35 104.02a2.4 2.4 0 1 0 4.8 0a2.4 2.4 0 1 0 -4.8 0zM489.41 103.02a2.4 2.4 0 1 0 4.8 0a2.4 2.4 0 1 0 -4.8 0zM489.48 102.01a2.4 2.4 0 1 0 4.8 0a2.4 2.4 0 1 0 -4.8 0zM489.54 101a2.4 2.4 0 1 0 4.8 0a2.4 2.4 0 1 0 -4.8 0zM489.61 99.98a2.4 2.4 0 1 0 4.8 0a2.4 2.4 0 1 0 -4.8 0zM489.67 98.96a2.4 2.4 0 1 0 4.8 0a2.4 2.4 0 1 0 -4.8 0zM489.74 97.92a2.4 2.4 0 1 0 4.8 0a2.4 2.4 0 1 0 -4.8 0zM489.81 96.88a2.4 2.4 0 1 0 4.8 0a2.4 2.4 0 1 0 -4.8 0zM489.87 95.84a2.4 2.4 0 1 0 4.8 0a2.4 2.4 0 1 0 -4.8 0zM489.94 94.78a2.4 2.4 0 1 0 4.8 0a2.4 2.4 0 1 0 -4.8 0zM490.01 93.71a2.4 2.4 0 1 0 4.8 0a2.4 2.4 0 1 0 -4.8 0zM490.08 92.63a2.4 2.4 0 1 0 4.8 0a2.4 2.4 0 1 0 -4.8 0zM490.15 91.54a2.4 2.4 0 1 0 4.8 0a2.4 2.4 0 1 0 -4.8 0zM490.21 90.44a2.4 2.4 0 1 0 4.8 0a2.4 2.4 0 1 0 -4.8 0zM490.27 89.32a2.4 2.4 0 1 0 4.8 0a2.4 2.4 0 1 0 -4.8 0zM490.33 88.18a2.4 2.4 0 1 0 4.8 0a2.4 2.4 0 1 0 -4.8 0zM490.38 87.03a2.4 2.4 0 1 0 4.8 0a2.4 2.4 0 1 0 -4.8 0zM490.44 85.86a2.4 2.4 0 1 0 4.8 0a2.4 2.4 0 1 0 -4.8 0zM490.5 84.66a2.4 2.4 0 1 0 4.8 0a2.4 2.4 0 1 0 -4.8 0zM490.56 83.45a2.4 2.4 0 1 0 4.8 0a2.4 2.4 0 1 0 -4.8 0zM490.62 82.21a2.4 2.4 0 1 0 4.8 0a2.4 2.4 0 1 0 -4.8 0zM490.69 80.94a2.4 2.4 0 1 0 4.8 0a2.4 2.4 0 1 0 -4.8 0zM490.75 79.65a2.4 2.4 0 1 0 4.8 0a2.4 2.4 0 1 0 -4.8 0zM490.82 78.32a2.4 2.4 0 1 0 4.8 0a2.4 2.4 0 1 0 -4.8 0zM490.89 76.95a2.4 2.4 0 1 0 4.8 0a2.4 2.4 0 1 0 -4.8 0zM490.96 75.55a2.4 2.4 0 1 0 4.8 0a2.4 2.4 0 1 0 -4.8 0zM491.03 74.11a2.4 2.4 0 1 0 4.8 0a2.4 2.4 0 1 0 -4.8 0zM491.1 72.61a2.4 2.4 0 1 0 4.8 0a2.4 2.4 0 1 0 -4.8 0zM491.18 71.07a2.4 2.4 0 1 0 4.8 0a2.4 2.4 0 1 0 -4.8 0zM491.22 69.46a2.4 2.4 0 1 0 4.8 0a2.4 2.4 0 1 0 -4.8 0zM491.26 67.79a2.4 2.4 0 1 0 4.8 0a2.4 2.4 0 1 0 -4.8 0zM491.29 66.04a2.4 2.4 0 1 0 4.8 0a2.4 2.4 0 1 0 -4.8 0zM491.33 64.2a2.4 2.4 0 1 0 4.8 0a2.4 2.4 0 1 0 -4.8 0zM491.37 62.26a2.4 2.4 0 1 0 4.8 0a2.4 2.4 0 1 0 -4.8 0zM491.41 60.21a2.4 2.4 0 1 0 4.8 0a2.4 2.4 0 1 0 -4.8 0zM491.45 58.01a2.4 2.4 0 1 0 4.8 0a2.4 2.4 0 1 0 -4.8 0zM491.5 55.65a2.4 2.4 0 1 0 4.8 0a2.4 2.4 0 1 0 -4.8 0zM491.55 53.08a2.4 2.4 0 1 0 4.8 0a2.4 2.4 0 1 0 -4.8 0zM491.6 50.26a2.4 2.4 0 1 0 4.8 0a2.4 2.4 0 1 0 -4.8 0zM491.67 47.11a2.4 2.4 0 1 0 4.8 0a2.4 2.4 0 1 0 -4.8 0zM491.74 43.51a2.4 2.4 0 1 0 4.8 0a2.4 2.4 0 1 0 -4.8 0zM491.81 39.29a2.4 2.4 0 1 0 4.8 0a2.4 2.4 0 1 0 -4.8 0zM491.85 34.09a2.4 2.4 0 1 0 4.8 0a2.4 2.4 0 1 0 -4.8 0zM491.91 27.19a2.4 2.4 0 1 0 4.8 0a2.4 2.4 0 1 0 -4.8 0zM492 16.3a2.4 2.4 0 1 0 4.8 0a2.4 2.4 0 1 0 -4.8 0z" fill="#e2481a"/>
<path d="M482.1 200.6h4.2v4.2h-4.2zM482.1 189.71h4.2v4.2h-4.2zM482.1 182.81h4.2v4.2h-4.2zM482.15 177.61h4.2v4.2h-4.2zM482.26 173.39h4.2v4.2h-4.2zM482.34 169.79h4.2v4.2h-4.2zM482.42 166.64h4.2v4.2h-4.2zM482.49 163.82h4.2v4.2h-4.2zM482.71 161.25h4.2v4.2h-4.2zM482.95 158.89h4.2v4.2h-4.2zM483.31 156.69h4.2v4.2h-4.2zM483.93 154.64h4.2v4.2h-4.2zM484.51 152.7h4.2v4.2h-4.2zM484.95 150.86h4.2v4.2h-4.2zM485.13 149.11h4.2v4.2h-4.2zM485.3 147.44h4.2v4.2h-4.2zM485.46 145.83h4.2v4.2h-4.2zM485.61 144.29h4.2v4.2h-4.2zM485.74 142.79h4.2v4.2h-4.2zM485.84 141.35h4.2v4.2h-4.2zM485.94 139.95h4.2v4.2h-4.2zM486.03 138.58h4.2v4.2h-4.2zM486.12 137.25h4.2v4.2h-4.2zM486.21 135.96h4.2v4.2h-4.2zM486.3 134.69h4.2v4.2h-4.2zM486.38 133.45h4.2v4.2h-4.2zM486.47 132.24h4.2v4.2h-4.2zM486.55 131.04h4.2v4.2h-4.2zM486.63 129.87h4.2v4.2h-4.2zM486.71 128.72h4.2v4.2h-4.2zM486.79 127.58h4.2v4.2h-4.2zM486.86 126.46h4.2v4.2h-4.2zM486.94 125.36h4.2v4.2h-4.2zM487.01 124.27h4.2v4.2h-4.2zM487.09 123.19h4.2v4.2h-4.2zM487.16 122.12h4.2v4.2h-4.2zM487.22 121.06h4.2v4.2h-4.2zM487.29 120.02h4.2v4.2h-4.2zM487.36 118.98h4.2v4.2h-4.2zM487.42 117.94h4.2v4.2h-4.2zM487.49 116.92h4.2v4.2h-4.2zM487.56 115.9h4.2v4.2h-4.2zM487.62 114.89h4.2v4.2h-4.2zM487.68 113.88h4.2v4.2h-4.2zM487.75 112.88h4.2v4.2h-4.2zM487.81 111.88h4.2v4.2h-4.2zM487.88 110.88h4.2v4.2h-4.2zM487.94 109.88h4.2v4.2h-4.2zM488 108.89h4.2v4.2h-4.2zM488.07 107.9h4.2v4.2h-4.2zM488.11 106.9h4.2v4.2h-4.2zM488.12 105.91h4.2v4.2h-4.2zM488.13 104.92h4.2v4.2h-4.2zM488.14 103.92h4.2v4.2h-4.2zM488.15 102.92h4.2v4.2h-4.2zM488.16 101.92h4.2v4.2h-4.2zM488.17 100.92h4.2v4.2h-4.2zM488.18 99.91h4.2v4.2h-4.2zM488.19 98.9h4.2v4.2h-4.2zM488.2 97.88h4.2v4.2h-4.2zM488.21 96.86h4.2v4.2h-4.2zM488.22 95.82h4.2v4.2h-4.2zM488.23 94.78h4.2v4.2h-4.2zM488.25 93.74h4.2v4.2h-4.2zM488.26 92.68h4.2v4.2h-4.2zM488.27 91.61h4.2v4.2h-4.2zM488.28 90.53h4.2v4.2h-4.2zM488.29 89.44h4.2v4.2h-4.2zM488.3 88.34h4.2v4.2h-4.2zM488.32 87.22h4.2v4.2h-4.2zM488.34 86.08h4.2v4.2h-4.2zM488.36 84.93h4.2v4.2h-4.2zM488.37 83.76h4.2v4.2h-4.2zM488.39 82.56h4.2v4.2h-4.2zM488.41 81.35h4.2v4.2h-4.2zM488.43 80.11h4.2v4.2h-4.2zM488.45 78.84h4.2v4.2h-4.2zM488.47 77.55h4.2v4.2h-4.2zM488.49 76.22h4.2v4.2h-4.2zM488.51 74.85h4.2v4.2h-4.2zM488.53 73.45h4.2v4.2h-4.2zM488.55 72.01h4.2v4.2h-4.2zM488.57 70.51h4.2v4.2h-4.2zM488.59 68.97h4.2v4.2h-4.2zM488.62 67.36h4.2v4.2h-4.2zM488.65 65.69h4.2v4.2h-4.2zM488.68 63.94h4.2v4.2h-4.2zM488.71 62.1h4.2v4.2h-4.2zM488.74 60.16h4.2v4.2h-4.2zM488.77 58.11h4.2v4.2h-4.2zM488.81 55.91h4.2v4.2h-4.2zM488.85 53.55h4.2v4.2h-4.2zM488.89 50.98h4.2v4.2h-4.2zM488.94 48.16h4.2v4.2h-4.2zM488.99 45.01h4.2v4.2h-4.2zM489.05 41.41h4.2v4.2h-4.2zM489.12 37.19h4.2v4.2h-4.2zM489.2 31.99h4.2v4.2h-4.2zM489.32 25.09h4.2v4.2h-4.2zM489.5 14.2h4.2v4.2h-4.2z" fill="#000"/>
<path d="M567.8 199.58l3 5.2h-6zM567.8 188.69l3 5.2h-6zM567.8 181.79l3 5.2h-6zM567.99 176.59l3 5.2h-6zM568.35 172.37l3 5.2h-6zM568.65 168.77l3 5.2h-6zM568.92 165.62l3 5.2h-6zM569.16 162.8l3 5.2h-6zM569.41 160.23l3 5.2h-6zM569.65 157.87l3 5.2h-6zM569.87 155.67l3 5.2h-6zM570.08 153.62l3 5.2h-6zM570.27 151.68l3 5.2h-6zM570.45 149.84l3 5.2h-6zM570.63 148.09l3 5.2h-6zM570.8 146.42l3 5.2h-6zM570.96 144.81l3 5.2h-6zM571.11 143.27l3 5.2h-6zM571.29 141.77l3 5.2h-6zM571.5 140.33l3 5.2h-6zM571.71 138.93l3 5.2h-6zM571.91 137.56l3 5.2h-6zM572.1 136.23l3 5.2h-6zM572.29 134.94l3 5.2h-6zM572.48 133.67l3 5.2h-6zM572.66 132.43l3 5.2h-6zM572.84 131.22l3 5.2h-6zM573.02 130.02l3 5.2h-6zM573.19 128.85l3 5.2h-6zM573.36 127.7l3 5.2h-6zM573.53 126.56l3 5.2h-6zM573.69 125.44l3 5.2h-6zM573.85 124.34l3 5.2h-6zM574.01 123.25l3 5.2h-6zM574.17 122.17l3 5.2h-6zM574.31 121.1l3 5.2h-6zM574.45 120.04l3 5.2h-6zM574.59 119l3 5.2h-6zM574.73 117.96l3 5.2h-6zM574.86 116.92l3 5.2h-6zM574.99 115.9l3 5.2h-6zM575.13 114.88l3 5.2h-6zM575.26 113.87l3 5.2h-6zM575.39 112.86l3 5.2h-6zM575.52 111.86l3 5.2h-6zM575.65 110.86l3 5.2h-6zM575.78 109.86l3 5.2h-6zM575.91 108.86l3 5.2h-6zM576.04 107.87l3 5.2h-6zM576.17 106.88l3 5.2h-6zM576.3 105.88l3 5.2h-6zM576.43 104.89l3 5.2h-6zM576.56 103.9l3 5.2h-6zM576.7 102.9l3 5.2h-6zM576.83 101.9l3 5.2h-6zM576.96 100.9l3 5.2h-6zM577.1 99.9l3 5.2h-6zM577.23 98.89l3 5.2h-6zM577.36 97.88l3 5.2h-6zM577.5 96.86l3 5.2h-6zM577.63 95.84l3 5.2h-6zM577.77 94.8l3 5.2h-6zM577.91 93.76l3 5.2h-6zM578.05 92.72l3 5.2h-6zM578.19 91.66l3 5.2h-6zM578.3 90.59l3 5.2h-6zM578.4 89.51l3 5.2h-6zM578.51 88.42l3 5.2h-6zM578.62 87.32l3 5.2h-6zM578.73 86.2l3 5.2h-6zM578.84 85.06l3 5.2h-6zM578.95 83.91l3 5.2h-6zM579.06 82.74l3 5.2h-6zM579.18 81.54l3 5.2h-6zM579.3 80.33l3 5.2h-6zM579.42 79.09l3 5.2h-6zM579.54 77.82l3 5.2h-6zM579.67 76.53l3 5.2h-6zM579.8 75.2l3 5.2h-6zM579.99 73.83l3 5.2h-6zM580.18 72.43l3 5.2h-6zM580.38 70.99l3 5.2h-6zM580.58 69.49l3 5.2h-6zM580.79 67.95l3 5.2h-6zM581.02 66.34l3 5.2h-6zM581.25 64.67l3 5.2h-6zM581.49 62.92l3 5.2h-6zM581.74 61.08l3 5.2h-6zM582 59.14l3 5.2h-6zM582.13 57.09l3 5.2h-6zM582.27 54.89l3 5.2h-6zM582.42 52.53l3 5.2h-6zM582.58 49.96l3 5.2h-6zM582.75 47.14l3 5.2h-6zM582.95 43.99l3 5.2h-6zM583.05 40.39l3 5.2h-6zM583.12 36.17l3 5.2h-6zM583.2 30.97l3 5.2h-6zM583.32 24.07l3 5.2h-6zM583.5 13.18l3 5.2h-6z" fill="#20378e"/>
<path d="M557.7 202.7a2.4 2.4 0 1 0 4.8 0a2.4 2.4 0 1 0 -4.8 0zM557.91 191.81a2.4 2.4 0 1 0 4.8 0a2.4 2.4 0 1 0 -4.8 0zM558.04 184.91a2.4 2.4 0 1 0 4.8 0a2.4 2.4 0 1 0 -4.8 0zM558.31 179.71a2.4 2.4 0 1 0 4.8 0a2.4 2.4 0 1 0 -4.8 0zM558.73 175.49a2.4 2.4 0 1 0 4.8 0a2.4 2.4 0 1 0 -4.8 0zM559.08 171.89a2.4 2.4 0 1 0 4.8 0a2.4 2.4 0 1 0 -4.8 0zM559.38 168.74a2.4 2.4 0 1 0 4.8 0a2.4 2.4 0 1 0 -4.8 0zM559.66 165.92a2.4 2.4 0 1 0 4.8 0a2.4 2.4 0 1 0 -4.8 0zM559.87 163.35a2.4 2.4 0 1 0 4.8 0a2.4 2.4 0 1 0 -4.8 0zM560.06 160.99a2.4 2.4 0 1 0 4.8 0a2.4 2.4 0 1 0 -4.8 0zM560.24 158.79a2.4 2.4 0 1 0 4.8 0a2.4 2.4 0 1 0 -4.8 0zM560.4 156.74a2.4 2.4 0 1 0 4.8 0a2.4 2.4 0 1 0 -4.8 0zM560.56 154.8a2.4 2.4 0 1 0 4.8 0a2.4 2.4 0 1 0 -4.8 0zM560.7 152.96a2.4 2.4 0 1 0 4.8 0a2.4 2.4 0 1 0 -4.8 0zM560.84 151.21a2.4 2.4 0 1 0 4.8 0a2.4 2.4 0 1 0 -4.8 0zM560.98 149.54a2.4 2.4 0 1 0 4.8 0a2.4 2.4 0 1 0 -4.8 0zM561.11 147.93a2.4 2.4 0 1 0 4.8 0a2.4 2.4 0 1 0 -4.8 0zM561.23 146.39a2.4 2.4 0 1 0 4.8 0a2.4 2.4 0 1 0 -4.8 0zM561.37 144.89a2.4 2.4 0 1 0 4.8 0a2.4 2.4 0 1 0 -4.8 0zM561.55 143.45a2.4 2.4 0 1 0 4.8 0a2.4 2.4 0 1 0 -4.8 0zM561.72 142.05a2.4 2.4 0 1 0 4.8 0a2.4 2.4 0 1 0 -4.8 0zM561.89 140.68a2.4 2.4 0 1 0 4.8 0a2.4 2.4 0 1 0 -4.8 0zM562.05 139.35a2.4 2.4 0 1 0 4.8 0a2.4 2.4 0 1 0 -4.8 0zM562.21 138.06a2.4 2.4 0 1 0 4.8 0a2.4 2.4 0 1 0 -4.8 0zM562.37 136.79a2.4 2.4 0 1 0 4.8 0a2.4 2.4 0 1 0 -4.8 0zM562.52 135.55a2.4 2.4 0 1 0 4.8 0a2.4 2.4 0 1 0 -4.8 0zM562.67 134.34a2.4 2.4 0 1 0 4.8 0a2.4 2.4 0 1 0 -4.8 0zM562.81 133.14a2.4 2.4 0 1 0 4.8 0a2.4 2.4 0 1 0 -4.8 0zM562.96 131.97a2.4 2.4 0 1 0 4.8 0a2.4 2.4 0 1 0 -4.8 0zM563.1 130.82a2.4 2.4 0 1 0 4.8 0a2.4 2.4 0 1 0 -4.8 0zM563.24 129.68a2.4 2.4 0 1 0 4.8 0a2.4 2.4 0 1 0 -4.8 0zM563.38 128.56a2.4 2.4 0 1 0 4.8 0a2.4 2.4 0 1 0 -4.8 0zM563.51 127.46a2.4 2.4 0 1 0 4.8 0a2.4 2.4 0 1 0 -4.8 0zM563.64 126.37a2.4 2.4 0 1 0 4.8 0a2.4 2.4 0 1 0 -4.8 0zM563.78 125.29a2.4 2.4 0 1 0 4.8 0a2.4 2.4 0 1 0 -4.8 0zM563.88 124.22a2.4 2.4 0 1 0 4.8 0a2.4 2.4 0 1 0 -4.8 0zM563.99 123.16a2.4 2.4 0 1 0 4.8 0a2.4 2.4 0 1 0 -4.8 0zM564.09 122.12a2.4 2.4 0 1 0 4.8 0a2.4 2.4 0 1 0 -4.8 0zM564.19 121.08a2.4 2.4 0 1 0 4.8 0a2.4 2.4 0 1 0 -4.8 0zM564.29 120.04a2.4 2.4 0 1 0 4.8 0a2.4 2.4 0 1 0 -4.8 0zM564.39 119.02a2.4 2.4 0 1 0 4.8 0a2.4 2.4 0 1 0 -4.8 0zM564.49 118a2.4 2.4 0 1 0 4.8 0a2.4 2.4 0 1 0 -4.8 0zM564.58 116.99a2.4 2.4 0 1 0 4.8 0a2.4 2.4 0 1 0 -4.8 0zM564.68 115.98a2.4 2.4 0 1 0 4.8 0a2.4 2.4 0 1 0 -4.8 0zM564.78 114.98a2.4 2.4 0 1 0 4.8 0a2.4 2.4 0 1 0 -4.8 0zM564.87 113.98a2.4 2.4 0 1 0 4.8 0a2.4 2.4 0 1 0 -4.8 0zM564.97 112.98a2.4 2.4 0 1 0 4.8 0a2.4 2.4 0 1 0 -4.8 0zM565.07 111.98a2.4 2.4 0 1 0 4.8 0a2.4 2.4 0 1 0 -4.8 0zM565.16 110.99a2.4 2.4 0 1 0 4.8 0a2.4 2.4 0 1 0 -4.8 0zM565.26 110a2.4 2.4 0 1 0 4.8 0a2.4 2.4 0 1 0 -4.8 0zM565.35 109a2.4 2.4 0 1 0 4.8 0a2.4 2.4 0 1 0 -4.8 0zM565.45 108.01a2.4 2.4 0 1 0 4.8 0a2.4 2.4 0 1 0 -4.8 0zM565.55 107.02a2.4 2.4 0 1 0 4.8 0a2.4 2.4 0 1 0 -4.8 0zM565.66 106.02a2.4 2.4 0 1 0 4.8 0a2.4 2.4 0 1 0 -4.8 0zM565.77 105.02a2.4 2.4 0 1 0 4.8 0a2.4 2.4 0 1 0 -4.8 0zM565.88 104.02a2.4 2.4 0 1 0 4.8 0a2.4 2.4 0 1 0 -4.8 0zM565.99 103.02a2.4 2.4 0 1 0 4.8 0a2.4 2.4 0 1 0 -4.8 0zM566.1 102.01a2.4 2.4 0 1 0 4.8 0a2.4 2.4 0 1 0 -4.8 0zM566.21 101a2.4 2.4 0 1 0 4.8 0a2.4 2.4 0 1 0 -4.8 0zM566.32 99.98a2.4 2.4 0 1 0 4.8 0a2.4 2.4 0 1 0 -4.8 0zM566.43 98.96a2.4 2.4 0 1 0 4.8 0a2.4 2.4 0 1 0 -4.8 0zM566.55 97.92a2.4 2.4 0 1 0 4.8 0a2.4 2.4 0 1 0 -4.8 0zM566.66 96.88a2.4 2.4 0 1 0 4.8 0a2.4 2.4 0 1 0 -4.8 0zM566.78 95.84a2.4 2.4 0 1 0 4.8 0a2.4 2.4 0 1 0 -4.8 0zM566.89 94.78a2.4 2.4 0 1 0 4.8 0a2.4 2.4 0 1 0 -4.8 0zM567.07 93.71a2.4 2.4 0 1 0 4.8 0a2.4 2.4 0 1 0 -4.8 0zM567.25 92.63a2.4 2.4 0 1 0 4.8 0a2.4 2.4 0 1 0 -4.8 0zM567.44 91.54a2.4 2.4 0 1 0 4.8 0a2.4 2.4 0 1 0 -4.8 0zM567.63 90.44a2.4 2.4 0 1 0 4.8 0a2.4 2.4 0 1 0 -4.8 0zM567.82 89.32a2.4 2.4 0 1 0 4.8 0a2.4 2.4 0 1 0 -4.8 0zM568.01 88.18a2.4 2.4 0 1 0 4.8 0a2.4 2.4 0 1 0 -4.8 0zM568.21 87.03a2.4 2.4 0 1 0 4.8 0a2.4 2.4 0 1 0 -4.8 0zM568.41 85.86a2.4 2.4 0 1 0 4.8 0a2.4 2.4 0 1 0 -4.8 0zM568.61 84.66a2.4 2.4 0 1 0 4.8 0a2.4 2.4 0 1 0 -4.8 0zM568.82 83.45a2.4 2.4 0 1 0 4.8 0a2.4 2.4 0 1 0 -4.8 0zM569.03 82.21a2.4 2.4 0 1 0 4.8 0a2.4 2.4 0 1 0 -4.8 0zM569.25 80.94a2.4 2.4 0 1 0 4.8 0a2.4 2.4 0 1 0 -4.8 0zM569.47 79.65a2.4 2.4 0 1 0 4.8 0a2.4 2.4 0 1 0 -4.8 0zM569.7 78.32a2.4 2.4 0 1 0 4.8 0a2.4 2.4 0 1 0 -4.8 0zM570.3 76.95a2.4 2.4 0 1 0 4.8 0a2.4 2.4 0 1 0 -4.8 0zM570.92 75.55a2.4 2.4 0 1 0 4.8 0a2.4 2.4 0 1 0 -4.8 0zM571.56 74.11a2.4 2.4 0 1 0 4.8 0a2.4 2.4 0 1 0 -4.8 0zM572.22 72.61a2.4 2.4 0 1 0 4.8 0a2.4 2.4 0 1 0 -4.8 0zM572.91 71.07a2.4 2.4 0 1 0 4.8 0a2.4 2.4 0 1 0 -4.8 0zM573.62 69.46a2.4 2.4 0 1 0 4.8 0a2.4 2.4 0 1 0 -4.8 0zM574.65 67.79a2.4 2.4 0 1 0 4.8 0a2.4 2.4 0 1 0 -4.8 0zM575.72 66.04a2.4 2.4 0 1 0 4.8 0a2.4 2.4 0 1 0 -4.8 0zM576.84 64.2a2.4 2.4 0 1 0 4.8 0a2.4 2.4 0 1 0 -4.8 0zM578 62.26a2.4 2.4 0 1 0 4.8 0a2.4 2.4 0 1 0 -4.8 0zM578.24 60.21a2.4 2.4 0 1 0 4.8 0a2.4 2.4 0 1 0 -4.8 0zM578.48 58.01a2.4 2.4 0 1 0 4.8 0a2.4 2.4 0 1 0 -4.8 0zM578.75 55.65a2.4 2.4 0 1 0 4.8 0a2.4 2.4 0 1 0 -4.8 0zM579.04 53.08a2.4 2.4 0 1 0 4.8 0a2.4 2.4 0 1 0 -4.8 0zM579.35 50.26a2.4 2.4 0 1 0 4.8 0a2.4 2.4 0 1 0 -4.8 0zM579.71 47.11a2.4 2.4 0 1 0 4.8 0a2.4 2.4 0 1 0 -4.8 0zM579.84 43.51a2.4 2.4 0 1 0 4.8 0a2.4 2.4 0 1 0 -4.8 0zM579.91 39.29a2.4 2.4 0 1 0 4.8 0a2.4 2.4 0 1 0 -4.8 0zM579.98 34.09a2.4 2.4 0 1 0 4.8 0a2.4 2.4 0 1 0 -4.8 0zM580.53 27.19a2.4 2.4 0 1 0 4.8 0a2.4 2.4 0 1 0 -4.8 0zM581.5 16.3a2.4 2.4 0 1 0 4.8 0a2.4 2.4 0 1 0 -4.8 0z" fill="#e2481a"/>
<path d="M563.1 200.6h4.2v4.2h-4.2zM563.41 189.71h4.2v4.2h-4.2zM563.61 182.81h4.2v4.2h-4.2zM563.75 177.61h4.2v4.2h-4.2zM563.86 173.39h4.2v4.2h-4.2zM563.94 169.79h4.2v4.2h-4.2zM564.02 166.64h4.2v4.2h-4.2zM564.09 163.82h4.2v4.2h-4.2zM564.25 161.25h4.2v4.2h-4.2zM564.42 158.89h4.2v4.2h-4.2zM564.57 156.69h4.2v4.2h-4.2zM564.71 154.64h4.2v4.2h-4.2zM564.85 152.7h4.2v4.2h-4.2zM564.98 150.86h4.2v4.2h-4.2zM565.1 149.11h4.2v4.2h-4.2zM565.22 147.44h4.2v4.2h-4.2zM565.33 145.83h4.2v4.2h-4.2zM565.44 144.29h4.2v4.2h-4.2zM565.56 142.79h4.2v4.2h-4.2zM565.7 141.35h4.2v4.2h-4.2zM565.84 139.95h4.2v4.2h-4.2zM565.97 138.58h4.2v4.2h-4.2zM566.1 137.25h4.2v4.2h-4.2zM566.23 135.96h4.2v4.2h-4.2zM566.35 134.69h4.2v4.2h-4.2zM566.48 133.45h4.2v4.2h-4.2zM566.59 132.24h4.2v4.2h-4.2zM566.71 131.04h4.2v4.2h-4.2zM566.83 129.87h4.2v4.2h-4.2zM566.94 128.72h4.2v4.2h-4.2zM567.05 127.58h4.2v4.2h-4.2zM567.16 126.46h4.2v4.2h-4.2zM567.27 125.36h4.2v4.2h-4.2zM567.38 124.27h4.2v4.2h-4.2zM567.48 123.19h4.2v4.2h-4.2zM567.6 122.12h4.2v4.2h-4.2zM567.73 121.06h4.2v4.2h-4.2zM567.86 120.02h4.2v4.2h-4.2zM567.98 118.98h4.2v4.2h-4.2zM568.1 117.94h4.2v4.2h-4.2zM568.23 116.92h4.2v4.2h-4.2zM568.35 115.9h4.2v4.2h-4.2zM568.47 114.89h4.2v4.2h-4.2zM568.59 113.88h4.2v4.2h-4.2zM568.71 112.88h4.2v4.2h-4.2zM568.83 111.88h4.2v4.2h-4.2zM568.95 110.88h4.2v4.2h-4.2zM569.07 109.88h4.2v4.2h-4.2zM569.18 108.89h4.2v4.2h-4.2zM569.3 107.9h4.2v4.2h-4.2zM569.42 106.9h4.2v4.2h-4.2zM569.54 105.91h4.2v4.2h-4.2zM569.66 104.92h4.2v4.2h-4.2zM569.78 103.92h4.2v4.2h-4.2zM569.91 102.92h4.2v4.2h-4.2zM570.03 101.92h4.2v4.2h-4.2zM570.16 100.92h4.2v4.2h-4.2zM570.29 99.91h4.2v4.2h-4.2zM570.41 98.9h4.2v4.2h-4.2zM570.54 97.88h4.2v4.2h-4.2zM570.67 96.86h4.2v4.2h-4.2zM570.8 95.82h4.2v4.2h-4.2zM570.93 94.78h4.2v4.2h-4.2zM571.06 93.74h4.2v4.2h-4.2zM571.19 92.68h4.2v4.2h-4.2zM571.32 91.61h4.2v4.2h-4.2zM571.45 90.53h4.2v4.2h-4.2zM571.59 89.44h4.2v4.2h-4.2zM571.72 88.34h4.2v4.2h-4.2zM571.86 87.22h4.2v4.2h-4.2zM571.99 86.08h4.2v4.2h-4.2zM572.14 84.93h4.2v4.2h-4.2zM572.28 83.76h4.2v4.2h-4.2zM572.42 82.56h4.2v4.2h-4.2zM572.57 81.35h4.2v4.2h-4.2zM572.72 80.11h4.2v4.2h-4.2zM572.88 78.84h4.2v4.2h-4.2zM573.04 77.55h4.2v4.2h-4.2zM573.2 76.22h4.2v4.2h-4.2zM573.36 74.85h4.2v4.2h-4.2zM573.53 73.45h4.2v4.2h-4.2zM573.7 72.01h4.2v4.2h-4.2zM573.88 70.51h4.2v4.2h-4.2zM574.06 68.97h4.2v4.2h-4.2zM574.25 67.36h4.2v4.2h-4.2zM574.45 65.69h4.2v4.2h-4.2zM574.66 63.94h4.2v4.2h-4.2zM574.87 62.1h4.2v4.2h-4.2zM575.1 60.16h4.2v4.2h-4.2zM575.23 58.11h4.2v4.2h-4.2zM575.37 55.91h4.2v4.2h-4.2zM575.52 53.55h4.2v4.2h-4.2zM575.68 50.98h4.2v4.2h-4.2zM575.85 48.16h4.2v4.2h-4.2zM576.05 45.01h4.2v4.2h-4.2zM576.11 41.41h4.2v4.2h-4.2zM576.12 37.19h4.2v4.2h-4.2zM576.14 31.99h4.2v4.2h-4.2zM576.16 25.09h4.2v4.2h-4.2zM576.2 14.2h4.2v4.2h-4.2z" fill="#000"/>
<path d="M597.1 199.58l3 5.2h-6zM597.62 188.69l3 5.2h-6zM597.96 181.79l3 5.2h-6zM598.29 176.59l3 5.2h-6zM598.65 172.37l3 5.2h-6zM598.95 168.77l3 5.2h-6zM599.22 165.62l3 5.2h-6zM599.46 162.8l3 5.2h-6zM599.73 160.23l3 5.2h-6zM599.97 157.87l3 5.2h-6zM600.2 155.67l3 5.2h-6zM600.42 153.62l3 5.2h-6zM600.62 151.68l3 5.2h-6zM600.82 149.84l3 5.2h-6zM601 148.09l3 5.2h-6zM601.18 146.42l3 5.2h-6zM601.34 144.81l3 5.2h-6zM601.51 143.27l3 5.2h-6zM601.68 141.77l3 5.2h-6zM601.86 140.33l3 5.2h-6zM602.04 138.93l3 5.2h-6zM602.21 137.56l3 5.2h-6zM602.38 136.23l3 5.2h-6zM602.55 134.94l3 5.2h-6zM602.71 133.67l3 5.2h-6zM602.87 132.43l3 5.2h-6zM603.02 131.22l3 5.2h-6zM603.17 130.02l3 5.2h-6zM603.32 128.85l3 5.2h-6zM603.47 127.7l3 5.2h-6zM603.62 126.56l3 5.2h-6zM603.76 125.44l3 5.2h-6zM603.9 124.34l3 5.2h-6zM604.04 123.25l3 5.2h-6zM604.18 122.17l3 5.2h-6zM604.34 121.1l3 5.2h-6zM604.51 120.04l3 5.2h-6zM604.67 119l3 5.2h-6zM604.84 117.96l3 5.2h-6zM605 116.92l3 5.2h-6zM605.17 115.9l3 5.2h-6zM605.33 114.88l3 5.2h-6zM605.49 113.87l3 5.2h-6zM605.65 112.86l3 5.2h-6zM605.81 111.86l3 5.2h-6zM605.97 110.86l3 5.2h-6zM606.13 109.86l3 5.2h-6zM606.29 108.86l3 5.2h-6zM606.44 107.87l3 5.2h-6zM606.6 106.88l3 5.2h-6zM606.76 105.88l3 5.2h-6zM606.92 104.89l3 5.2h-6zM607.08 103.9l3 5.2h-6zM607.23 102.9l3 5.2h-6zM607.39 101.9l3 5.2h-6zM607.54 100.9l3 5.2h-6zM607.7 99.9l3 5.2h-6zM607.86 98.89l3 5.2h-6zM608.02 97.88l3 5.2h-6zM608.17 96.86l3 5.2h-6zM608.34 95.84l3 5.2h-6zM608.5 94.8l3 5.2h-6zM608.66 93.76l3 5.2h-6zM608.82 92.72l3 5.2h-6zM608.99 91.66l3 5.2h-6zM609.21 90.59l3 5.2h-6zM609.44 89.51l3 5.2h-6zM609.67 88.42l3 5.2h-6zM609.9 87.32l3 5.2h-6zM610.14 86.2l3 5.2h-6zM610.38 85.06l3 5.2h-6zM610.63 83.91l3 5.2h-6zM610.88 82.74l3 5.2h-6zM611.13 81.54l3 5.2h-6zM611.39 80.33l3 5.2h-6zM611.65 79.09l3 5.2h-6zM611.87 77.82l3 5.2h-6zM612.03 76.53l3 5.2h-6zM612.2 75.2l3 5.2h-6zM612.37 73.83l3 5.2h-6zM612.54 72.43l3 5.2h-6zM612.72 70.99l3 5.2h-6zM612.91 69.49l3 5.2h-6zM613.1 67.95l3 5.2h-6zM613.3 66.34l3 5.2h-6zM613.39 64.67l3 5.2h-6zM613.48 62.92l3 5.2h-6zM613.57 61.08l3 5.2h-6zM613.67 59.14l3 5.2h-6zM613.78 57.09l3 5.2h-6zM613.89 54.89l3 5.2h-6zM614.01 52.53l3 5.2h-6zM614.14 49.96l3 5.2h-6zM614.29 47.14l3 5.2h-6zM614.45 43.99l3 5.2h-6zM614.63 40.39l3 5.2h-6zM614.82 36.17l3 5.2h-6zM614.93 30.97l3 5.2h-6zM615.07 24.07l3 5.2h-6zM615.3 13.18l3 5.2h-6z" fill="#20378e"/>
<path d="M601.4 202.7a2.4 2.4 0 1 0 4.8 0a2.4 2.4 0 1 0 -4.8 0zM601.71 191.81a2.4 2.4 0 1 0 4.8 0a2.4 2.4 0 1 0 -4.8 0zM601.91 184.91a2.4 2.4 0 1 0 4.8 0a2.4 2.4 0 1 0 -4.8 0zM602.24 179.71a2.4 2.4 0 1 0 4.8 0a2.4 2.4 0 1 0 -4.8 0zM602.7 175.49a2.4 2.4 0 1 0 4.8 0a2.4 2.4 0 1 0 -4.8 0zM603.1 171.89a2.4 2.4 0 1 0 4.8 0a2.4 2.4 0 1 0 -4.8 0zM603.44 168.74a2.4 2.4 0 1 0 4.8 0a2.4 2.4 0 1 0 -4.8 0zM603.75 165.92a2.4 2.4 0 1 0 4.8 0a2.4 2.4 0 1 0 -4.8 0zM604.08 163.35a2.4 2.4 0 1 0 4.8 0a2.4 2.4 0 1 0 -4.8 0zM604.39 160.99a2.4 2.4 0 1 0 4.8 0a2.4 2.4 0 1 0 -4.8 0zM604.67 158.79a2.4 2.4 0 1 0 4.8 0a2.4 2.4 0 1 0 -4.8 0zM604.94 156.74a2.4 2.4 0 1 0 4.8 0a2.4 2.4 0 1 0 -4.8 0zM605.19 154.8a2.4 2.4 0 1 0 4.8 0a2.4 2.4 0 1 0 -4.8 0zM605.43 152.96a2.4 2.4 0 1 0 4.8 0a2.4 2.4 0 1 0 -4.8 0zM605.66 151.21a2.4 2.4 0 1 0 4.8 0a2.4 2.4 0 1 0 -4.8 0zM605.87 149.54a2.4 2.4 0 1 0 4.8 0a2.4 2.4 0 1 0 -4.8 0zM606.08 147.93a2.4 2.4 0 1 0 4.8 0a2.4 2.4 0 1 0 -4.8 0zM606.28 146.39a2.4 2.4 0 1 0 4.8 0a2.4 2.4 0 1 0 -4.8 0zM606.47 144.89a2.4 2.4 0 1 0 4.8 0a2.4 2.4 0 1 0 -4.8 0zM606.65 143.45a2.4 2.4 0 1 0 4.8 0a2.4 2.4 0 1 0 -4.8 0zM606.82 142.05a2.4 2.4 0 1 0 4.8 0a2.4 2.4 0 1 0 -4.8 0zM606.99 140.68a2.4 2.4 0 1 0 4.8 0a2.4 2.4 0 1 0 -4.8 0zM607.15 139.35a2.4 2.4 0 1 0 4.8 0a2.4 2.4 0 1 0 -4.8 0zM607.31 138.06a2.4 2.4 0 1 0 4.8 0a2.4 2.4 0 1 0 -4.8 0zM607.47 136.79a2.4 2.4 0 1 0 4.8 0a2.4 2.4 0 1 0 -4.8 0zM607.62 135.55a2.4 2.4 0 1 0 4.8 0a2.4 2.4 0 1 0 -4.8 0zM607.77 134.34a2.4 2.4 0 1 0 4.8 0a2.4 2.4 0 1 0 -4.8 0zM607.91 133.14a2.4 2.4 0 1 0 4.8 0a2.4 2.4 0 1 0 -4.8 0zM608.06 131.97a2.4 2.4 0 1 0 4.8 0a2.4 2.4 0 1 0 -4.8 0zM608.2 130.82a2.4 2.4 0 1 0 4.8 0a2.4 2.4 0 1 0 -4.8 0zM608.34 129.68a2.4 2.4 0 1 0 4.8 0a2.4 2.4 0 1 0 -4.8 0zM608.48 128.56a2.4 2.4 0 1 0 4.8 0a2.4 2.4 0 1 0 -4.8 0zM608.61 127.46a2.4 2.4 0 1 0 4.8 0a2.4 2.4 0 1 0 -4.8 0zM608.74 126.37a2.4 2.4 0 1 0 4.8 0a2.4 2.4 0 1 0 -4.8 0zM608.88 125.29a2.4 2.4 0 1 0 4.8 0a2.4 2.4 0 1 0 -4.8 0zM609.03 124.22a2.4 2.4 0 1 0 4.8 0a2.4 2.4 0 1 0 -4.8 0zM609.19 123.16a2.4 2.4 0 1 0 4.8 0a2.4 2.4 0 1 0 -4.8 0zM609.35 122.12a2.4 2.4 0 1 0 4.8 0a2.4 2.4 0 1 0 -4.8 0zM609.5 121.08a2.4 2.4 0 1 0 4.8 0a2.4 2.4 0 1 0 -4.8 0zM609.66 120.04a2.4 2.4 0 1 0 4.8 0a2.4 2.4 0 1 0 -4.8 0zM609.81 119.02a2.4 2.4 0 1 0 4.8 0a2.4 2.4 0 1 0 -4.8 0zM609.96 118a2.4 2.4 0 1 0 4.8 0a2.4 2.4 0 1 0 -4.8 0zM610.12 116.99a2.4 2.4 0 1 0 4.8 0a2.4 2.4 0 1 0 -4.8 0zM610.27 115.98a2.4 2.4 0 1 0 4.8 0a2.4 2.4 0 1 0 -4.8 0zM610.42 114.98a2.4 2.4 0 1 0 4.8 0a2.4 2.4 0 1 0 -4.8 0zM610.57 113.98a2.4 2.4 0 1 0 4.8 0a2.4 2.4 0 1 0 -4.8 0zM610.72 112.98a2.4 2.4 0 1 0 4.8 0a2.4 2.4 0 1 0 -4.8 0zM610.87 111.98a2.4 2.4 0 1 0 4.8 0a2.4 2.4 0 1 0 -4.8 0zM611.02 110.99a2.4 2.4 0 1 0 4.8 0a2.4 2.4 0 1 0 -4.8 0zM611.17 110a2.4 2.4 0 1 0 4.8 0a2.4 2.4 0 1 0 -4.8 0zM611.31 109a2.4 2.4 0 1 0 4.8 0a2.4 2.4 0 1 0 -4.8 0zM611.46 108.01a2.4 2.4 0 1 0 4.8 0a2.4 2.4 0 1 0 -4.8 0zM611.61 107.02a2.4 2.4 0 1 0 4.8 0a2.4 2.4 0 1 0 -4.8 0zM611.76 106.02a2.4 2.4 0 1 0 4.8 0a2.4 2.4 0 1 0 -4.8 0zM611.91 105.02a2.4 2.4 0 1 0 4.8 0a2.4 2.4 0 1 0 -4.8 0zM612.05 104.02a2.4 2.4 0 1 0 4.8 0a2.4 2.4 0 1 0 -4.8 0zM612.19 103.02a2.4 2.4 0 1 0 4.8 0a2.4 2.4 0 1 0 -4.8 0zM612.33 102.01a2.4 2.4 0 1 0 4.8 0a2.4 2.4 0 1 0 -4.8 0zM612.47 101a2.4 2.4 0 1 0 4.8 0a2.4 2.4 0 1 0 -4.8 0zM612.61 99.98a2.4 2.4 0 1 0 4.8 0a2.4 2.4 0 1 0 -4.8 0zM612.75 98.96a2.4 2.4 0 1 0 4.8 0a2.4 2.4 0 1 0 -4.8 0zM612.9 97.92a2.4 2.4 0 1 0 4.8 0a2.4 2.4 0 1 0 -4.8 0zM613.04 96.88a2.4 2.4 0 1 0 4.8 0a2.4 2.4 0 1 0 -4.8 0zM613.19 95.84a2.4 2.4 0 1 0 4.8 0a2.4 2.4 0 1 0 -4.8 0zM613.33 94.78a2.4 2.4 0 1 0 4.8 0a2.4 2.4 0 1 0 -4.8 0zM613.48 93.71a2.4 2.4 0 1 0 4.8 0a2.4 2.4 0 1 0 -4.8 0zM613.63 92.63a2.4 2.4 0 1 0 4.8 0a2.4 2.4 0 1 0 -4.8 0zM613.78 91.54a2.4 2.4 0 1 0 4.8 0a2.4 2.4 0 1 0 -4.8 0zM613.93 90.44a2.4 2.4 0 1 0 4.8 0a2.4 2.4 0 1 0 -4.8 0zM614.04 89.32a2.4 2.4 0 1 0 4.8 0a2.4 2.4 0 1 0 -4.8 0zM614.15 88.18a2.4 2.4 0 1 0 4.8 0a2.4 2.4 0 1 0 -4.8 0zM614.27 87.03a2.4 2.4 0 1 0 4.8 0a2.4 2.4 0 1 0 -4.8 0zM614.38 85.86a2.4 2.4 0 1 0 4.8 0a2.4 2.4 0 1 0 -4.8 0zM614.5 84.66a2.4 2.4 0 1 0 4.8 0a2.4 2.4 0 1 0 -4.8 0zM614.63 83.45a2.4 2.4 0 1 0 4.8 0a2.4 2.4 0 1 0 -4.8 0zM614.75 82.21a2.4 2.4 0 1 0 4.8 0a2.4 2.4 0 1 0 -4.8 0zM614.88 80.94a2.4 2.4 0 1 0 4.8 0a2.4 2.4 0 1 0 -4.8 0zM615.01 79.65a2.4 2.4 0 1 0 4.8 0a2.4 2.4 0 1 0 -4.8 0zM615.14 78.32a2.4 2.4 0 1 0 4.8 0a2.4 2.4 0 1 0 -4.8 0zM615.27 76.95a2.4 2.4 0 1 0 4.8 0a2.4 2.4 0 1 0 -4.8 0zM615.41 75.55a2.4 2.4 0 1 0 4.8 0a2.4 2.4 0 1 0 -4.8 0zM615.56 74.11a2.4 2.4 0 1 0 4.8 0a2.4 2.4 0 1 0 -4.8 0zM615.71 72.61a2.4 2.4 0 1 0 4.8 0a2.4 2.4 0 1 0 -4.8 0zM615.86 71.07a2.4 2.4 0 1 0 4.8 0a2.4 2.4 0 1 0 -4.8 0zM615.97 69.46a2.4 2.4 0 1 0 4.8 0a2.4 2.4 0 1 0 -4.8 0zM616.05 67.79a2.4 2.4 0 1 0 4.8 0a2.4 2.4 0 1 0 -4.8 0zM616.15 66.04a2.4 2.4 0 1 0 4.8 0a2.4 2.4 0 1 0 -4.8 0zM616.24 64.2a2.4 2.4 0 1 0 4.8 0a2.4 2.4 0 1 0 -4.8 0zM616.34 62.26a2.4 2.4 0 1 0 4.8 0a2.4 2.4 0 1 0 -4.8 0zM616.45 60.21a2.4 2.4 0 1 0 4.8 0a2.4 2.4 0 1 0 -4.8 0zM616.57 58.01a2.4 2.4 0 1 0 4.8 0a2.4 2.4 0 1 0 -4.8 0zM616.69 55.65a2.4 2.4 0 1 0 4.8 0a2.4 2.4 0 1 0 -4.8 0zM616.83 53.08a2.4 2.4 0 1 0 4.8 0a2.4 2.4 0 1 0 -4.8 0zM616.98 50.26a2.4 2.4 0 1 0 4.8 0a2.4 2.4 0 1 0 -4.8 0zM617.14 47.11a2.4 2.4 0 1 0 4.8 0a2.4 2.4 0 1 0 -4.8 0zM617.33 43.51a2.4 2.4 0 1 0 4.8 0a2.4 2.4 0 1 0 -4.8 0zM617.52 39.29a2.4 2.4 0 1 0 4.8 0a2.4 2.4 0 1 0 -4.8 0zM617.6 34.09a2.4 2.4 0 1 0 4.8 0a2.4 2.4 0 1 0 -4.8 0zM617.72 27.19a2.4 2.4 0 1 0 4.8 0a2.4 2.4 0 1 0 -4.8 0zM617.9 16.3a2.4 2.4 0 1 0 4.8 0a2.4 2.4 0 1 0 -4.8 0z" fill="#e2481a"/>
<path d="M600.1 200.6h4.2v4.2h-4.2zM600.1 189.71h4.2v4.2h-4.2zM600.1 182.81h4.2v4.2h-4.2zM600.23 177.61h4.2v4.2h-4.2zM600.49 173.39h4.2v4.2h-4.2zM600.71 169.79h4.2v4.2h-4.2zM600.9 166.64h4.2v4.2h-4.2zM601.07 163.82h4.2v4.2h-4.2zM601.31 161.25h4.2v4.2h-4.2zM601.55 158.89h4.2v4.2h-4.2zM601.77 156.69h4.2v4.2h-4.2zM601.98 154.64h4.2v4.2h-4.2zM602.17 152.7h4.2v4.2h-4.2zM602.35 150.86h4.2v4.2h-4.2zM602.53 149.11h4.2v4.2h-4.2zM602.7 147.44h4.2v4.2h-4.2zM602.86 145.83h4.2v4.2h-4.2zM603.01 144.29h4.2v4.2h-4.2zM603.16 142.79h4.2v4.2h-4.2zM603.3 141.35h4.2v4.2h-4.2zM603.44 139.95h4.2v4.2h-4.2zM603.57 138.58h4.2v4.2h-4.2zM603.7 137.25h4.2v4.2h-4.2zM603.83 135.96h4.2v4.2h-4.2zM603.95 134.69h4.2v4.2h-4.2zM604.08 133.45h4.2v4.2h-4.2zM604.19 132.24h4.2v4.2h-4.2zM604.31 131.04h4.2v4.2h-4.2zM604.43 129.87h4.2v4.2h-4.2zM604.54 128.72h4.2v4.2h-4.2zM604.65 127.58h4.2v4.2h-4.2zM604.76 126.46h4.2v4.2h-4.2zM604.87 125.36h4.2v4.2h-4.2zM604.98 124.27h4.2v4.2h-4.2zM605.08 123.19h4.2v4.2h-4.2zM605.19 122.12h4.2v4.2h-4.2zM605.29 121.06h4.2v4.2h-4.2zM605.4 120.02h4.2v4.2h-4.2zM605.5 118.98h4.2v4.2h-4.2zM605.61 117.94h4.2v4.2h-4.2zM605.71 116.92h4.2v4.2h-4.2zM605.81 115.9h4.2v4.2h-4.2zM605.91 114.89h4.2v4.2h-4.2zM606.01 113.88h4.2v4.2h-4.2zM606.11 112.88h4.2v4.2h-4.2zM606.21 111.88h4.2v4.2h-4.2zM606.31 110.88h4.2v4.2h-4.2zM606.41 109.88h4.2v4.2h-4.2zM606.51 108.89h4.2v4.2h-4.2zM606.61 107.9h4.2v4.2h-4.2zM606.71 106.9h4.2v4.2h-4.2zM606.81 105.91h4.2v4.2h-4.2zM606.91 104.92h4.2v4.2h-4.2zM607.01 103.92h4.2v4.2h-4.2zM607.11 102.92h4.2v4.2h-4.2zM607.25 101.92h4.2v4.2h-4.2zM607.39 100.92h4.2v4.2h-4.2zM607.53 99.91h4.2v4.2h-4.2zM607.67 98.9h4.2v4.2h-4.2zM607.81 97.88h4.2v4.2h-4.2zM607.95 96.86h4.2v4.2h-4.2zM608.1 95.82h4.2v4.2h-4.2zM608.24 94.78h4.2v4.2h-4.2zM608.39 93.74h4.2v4.2h-4.2zM608.53 92.68h4.2v4.2h-4.2zM608.68 91.61h4.2v4.2h-4.2zM608.83 90.53h4.2v4.2h-4.2zM608.98 89.44h4.2v4.2h-4.2zM609.13 88.34h4.2v4.2h-4.2zM609.24 87.22h4.2v4.2h-4.2zM609.35 86.08h4.2v4.2h-4.2zM609.47 84.93h4.2v4.2h-4.2zM609.58 83.76h4.2v4.2h-4.2zM609.7 82.56h4.2v4.2h-4.2zM609.83 81.35h4.2v4.2h-4.2zM609.95 80.11h4.2v4.2h-4.2zM610.08 78.84h4.2v4.2h-4.2zM610.21 77.55h4.2v4.2h-4.2zM610.34 76.22h4.2v4.2h-4.2zM610.47 74.85h4.2v4.2h-4.2zM610.61 73.45h4.2v4.2h-4.2zM610.76 72.01h4.2v4.2h-4.2zM610.91 70.51h4.2v4.2h-4.2zM611.06 68.97h4.2v4.2h-4.2zM611.17 67.36h4.2v4.2h-4.2zM611.25 65.69h4.2v4.2h-4.2zM611.35 63.94h4.2v4.2h-4.2zM611.44 62.1h4.2v4.2h-4.2zM611.54 60.16h4.2v4.2h-4.2zM611.65 58.11h4.2v4.2h-4.2zM611.77 55.91h4.2v4.2h-4.2zM611.89 53.55h4.2v4.2h-4.2zM612.03 50.98h4.2v4.2h-4.2zM612.18 48.16h4.2v4.2h-4.2zM612.34 45.01h4.2v4.2h-4.2zM612.53 41.41h4.2v4.2h-4.2zM612.72 37.19h4.2v4.2h-4.2zM612.83 31.99h4.2v4.2h-4.2zM612.97 25.09h4.2v4.2h-4.2zM613.2 14.2h4.2v4.2h-4.2z" fill="#000"/>
<path d="M633.1 199.58l3 5.2h-6zM634.24 188.69l3 5.2h-6zM634.97 181.79l3 5.2h-6zM635.51 176.59l3 5.2h-6zM635.95 172.37l3 5.2h-6zM636.33 168.77l3 5.2h-6zM636.66 165.62l3 5.2h-6zM636.96 162.8l3 5.2h-6zM637.27 160.23l3 5.2h-6zM637.56 157.87l3 5.2h-6zM637.84 155.67l3 5.2h-6zM638.1 153.62l3 5.2h-6zM638.34 151.68l3 5.2h-6zM638.57 149.84l3 5.2h-6zM638.79 148.09l3 5.2h-6zM639 146.42l3 5.2h-6zM639.2 144.81l3 5.2h-6zM639.39 143.27l3 5.2h-6zM639.61 141.77l3 5.2h-6zM639.86 140.33l3 5.2h-6zM640.11 138.93l3 5.2h-6zM640.35 137.56l3 5.2h-6zM640.58 136.23l3 5.2h-6zM640.81 134.94l3 5.2h-6zM641.03 133.67l3 5.2h-6zM641.25 132.43l3 5.2h-6zM641.46 131.22l3 5.2h-6zM641.67 130.02l3 5.2h-6zM641.88 128.85l3 5.2h-6zM642.08 127.7l3 5.2h-6zM642.28 126.56l3 5.2h-6zM642.48 125.44l3 5.2h-6zM642.67 124.34l3 5.2h-6zM642.86 123.25l3 5.2h-6zM643.05 122.17l3 5.2h-6zM643.24 121.1l3 5.2h-6zM643.43 120.04l3 5.2h-6zM643.61 119l3 5.2h-6zM643.79 117.96l3 5.2h-6zM643.97 116.92l3 5.2h-6zM644.38 115.9l3 5.2h-6zM644.82 114.88l3 5.2h-6zM645.26 113.87l3 5.2h-6zM645.7 112.86l3 5.2h-6zM646.13 111.86l3 5.2h-6zM646.56 110.86l3 5.2h-6zM646.99 109.86l3 5.2h-6zM647.43 108.86l3 5.2h-6zM647.86 107.87l3 5.2h-6zM648.29 106.88l3 5.2h-6zM648.73 105.88l3 5.2h-6zM649.2 104.89l3 5.2h-6zM649.66 103.9l3 5.2h-6zM650.13 102.9l3 5.2h-6zM650.6 101.9l3 5.2h-6zM651.07 100.9l3 5.2h-6zM651.54 99.9l3 5.2h-6zM652.01 98.89l3 5.2h-6zM652.49 97.88l3 5.2h-6zM652.96 96.86l3 5.2h-6zM653.36 95.84l3 5.2h-6zM653.76 94.8l3 5.2h-6zM654.16 93.76l3 5.2h-6zM654.56 92.72l3 5.2h-6zM654.97 91.66l3 5.2h-6zM655.38 90.59l3 5.2h-6zM655.79 89.51l3 5.2h-6zM656.21 88.42l3 5.2h-6zM656.64 87.32l3 5.2h-6zM657.05 86.2l3 5.2h-6zM657.37 85.06l3 5.2h-6zM657.7 83.91l3 5.2h-6zM658.04 82.74l3 5.2h-6zM658.37 81.54l3 5.2h-6zM658.72 80.33l3 5.2h-6zM659.07 79.09l3 5.2h-6zM659.43 77.82l3 5.2h-6zM659.73 76.53l3 5.2h-6zM660.02 75.2l3 5.2h-6zM660.32 73.83l3 5.2h-6zM660.63 72.43l3 5.2h-6zM660.94 70.99l3 5.2h-6zM661.27 69.49l3 5.2h-6zM661.61 67.95l3 5.2h-6zM661.94 66.34l3 5.2h-6zM662.28 64.67l3 5.2h-6zM662.64 62.92l3 5.2h-6zM663.02 61.08l3 5.2h-6zM663.42 59.14l3 5.2h-6zM663.84 57.09l3 5.2h-6zM664.29 54.89l3 5.2h-6zM665.02 52.53l3 5.2h-6zM665.87 49.96l3 5.2h-6zM666.81 47.14l3 5.2h-6zM667.86 43.99l3 5.2h-6zM668.89 40.39l3 5.2h-6zM669.36 36.17l3 5.2h-6zM669.93 30.97l3 5.2h-6zM670.37 24.07l3 5.2h-6zM671 13.18l3 5.2h-6z" fill="#20378e"/>
<path d="M632.6 202.7a2.4 2.4 0 1 0 4.8 0a2.4 2.4 0 1 0 -4.8 0zM633.27 191.81a2.4 2.4 0 1 0 4.8 0a2.4 2.4 0 1 0 -4.8 0zM633.7 184.91a2.4 2.4 0 1 0 4.8 0a2.4 2.4 0 1 0 -4.8 0zM634.02 179.71a2.4 2.4 0 1 0 4.8 0a2.4 2.4 0 1 0 -4.8 0zM634.28 175.49a2.4 2.4 0 1 0 4.8 0a2.4 2.4 0 1 0 -4.8 0zM634.5 171.89a2.4 2.4 0 1 0 4.8 0a2.4 2.4 0 1 0 -4.8 0zM634.7 168.74a2.4 2.4 0 1 0 4.8 0a2.4 2.4 0 1 0 -4.8 0zM634.87 165.92a2.4 2.4 0 1 0 4.8 0a2.4 2.4 0 1 0 -4.8 0zM635.14 163.35a2.4 2.4 0 1 0 4.8 0a2.4 2.4 0 1 0 -4.8 0zM635.4 160.99a2.4 2.4 0 1 0 4.8 0a2.4 2.4 0 1 0 -4.8 0zM635.64 158.79a2.4 2.4 0 1 0 4.8 0a2.4 2.4 0 1 0 -4.8 0zM635.86 156.74a2.4 2.4 0 1 0 4.8 0a2.4 2.4 0 1 0 -4.8 0zM636.08 154.8a2.4 2.4 0 1 0 4.8 0a2.4 2.4 0 1 0 -4.8 0zM636.28 152.96a2.4 2.4 0 1 0 4.8 0a2.4 2.4 0 1 0 -4.8 0zM636.47 151.21a2.4 2.4 0 1 0 4.8 0a2.4 2.4 0 1 0 -4.8 0zM636.66 149.54a2.4 2.4 0 1 0 4.8 0a2.4 2.4 0 1 0 -4.8 0zM636.83 147.93a2.4 2.4 0 1 0 4.8 0a2.4 2.4 0 1 0 -4.8 0zM637 146.39a2.4 2.4 0 1 0 4.8 0a2.4 2.4 0 1 0 -4.8 0zM637.18 144.89a2.4 2.4 0 1 0 4.8 0a2.4 2.4 0 1 0 -4.8 0zM637.36 143.45a2.4 2.4 0 1 0 4.8 0a2.4 2.4 0 1 0 -4.8 0zM637.54 142.05a2.4 2.4 0 1 0 4.8 0a2.4 2.4 0 1 0 -4.8 0zM637.72 140.68a2.4 2.4 0 1 0 4.8 0a2.4 2.4 0 1 0 -4.8 0zM637.89 139.35a2.4 2.4 0 1 0 4.8 0a2.4 2.4 0 1 0 -4.8 0zM638.05 138.06a2.4 2.4 0 1 0 4.8 0a2.4 2.4 0 1 0 -4.8 0zM638.21 136.79a2.4 2.4 0 1 0 4.8 0a2.4 2.4 0 1 0 -4.8 0zM638.37 135.55a2.4 2.4 0 1 0 4.8 0a2.4 2.4 0 1 0 -4.8 0zM638.53 134.34a2.4 2.4 0 1 0 4.8 0a2.4 2.4 0 1 0 -4.8 0zM638.68 133.14a2.4 2.4 0 1 0 4.8 0a2.4 2.4 0 1 0 -4.8 0zM638.83 131.97a2.4 2.4 0 1 0 4.8 0a2.4 2.4 0 1 0 -4.8 0zM638.98 130.82a2.4 2.4 0 1 0 4.8 0a2.4 2.4 0 1 0 -4.8 0zM639.12 129.68a2.4 2.4 0 1 0 4.8 0a2.4 2.4 0 1 0 -4.8 0zM639.26 128.56a2.4 2.4 0 1 0 4.8 0a2.4 2.4 0 1 0 -4.8 0zM639.41 127.46a2.4 2.4 0 1 0 4.8 0a2.4 2.4 0 1 0 -4.8 0zM639.54 126.37a2.4 2.4 0 1 0 4.8 0a2.4 2.4 0 1 0 -4.8 0zM639.68 125.29a2.4 2.4 0 1 0 4.8 0a2.4 2.4 0 1 0 -4.8 0zM639.82 124.22a2.4 2.4 0 1 0 4.8 0a2.4 2.4 0 1 0 -4.8 0zM639.95 123.16a2.4 2.4 0 1 0 4.8 0a2.4 2.4 0 1 0 -4.8 0zM640.09 122.12a2.4 2.4 0 1 0 4.8 0a2.4 2.4 0 1 0 -4.8 0zM640.22 121.08a2.4 2.4 0 1 0 4.8 0a2.4 2.4 0 1 0 -4.8 0zM640.35 120.04a2.4 2.4 0 1 0 4.8 0a2.4 2.4 0 1 0 -4.8 0zM640.48 119.02a2.4 2.4 0 1 0 4.8 0a2.4 2.4 0 1 0 -4.8 0zM640.61 118a2.4 2.4 0 1 0 4.8 0a2.4 2.4 0 1 0 -4.8 0zM640.74 116.99a2.4 2.4 0 1 0 4.8 0a2.4 2.4 0 1 0 -4.8 0zM640.87 115.98a2.4 2.4 0 1 0 4.8 0a2.4 2.4 0 1 0 -4.8 0zM641 114.98a2.4 2.4 0 1 0 4.8 0a2.4 2.4 0 1 0 -4.8 0zM641.13 113.98a2.4 2.4 0 1 0 4.8 0a2.4 2.4 0 1 0 -4.8 0zM641.26 112.98a2.4 2.4 0 1 0 4.8 0a2.4 2.4 0 1 0 -4.8 0zM641.38 111.98a2.4 2.4 0 1 0 4.8 0a2.4 2.4 0 1 0 -4.8 0zM641.51 110.99a2.4 2.4 0 1 0 4.8 0a2.4 2.4 0 1 0 -4.8 0zM641.64 110a2.4 2.4 0 1 0 4.8 0a2.4 2.4 0 1 0 -4.8 0zM641.76 109a2.4 2.4 0 1 0 4.8 0a2.4 2.4 0 1 0 -4.8 0zM641.87 108.01a2.4 2.4 0 1 0 4.8 0a2.4 2.4 0 1 0 -4.8 0zM641.98 107.02a2.4 2.4 0 1 0 4.8 0a2.4 2.4 0 1 0 -4.8 0zM642.09 106.02a2.4 2.4 0 1 0 4.8 0a2.4 2.4 0 1 0 -4.8 0zM642.2 105.02a2.4 2.4 0 1 0 4.8 0a2.4 2.4 0 1 0 -4.8 0zM642.31 104.02a2.4 2.4 0 1 0 4.8 0a2.4 2.4 0 1 0 -4.8 0zM642.42 103.02a2.4 2.4 0 1 0 4.8 0a2.4 2.4 0 1 0 -4.8 0zM642.54 102.01a2.4 2.4 0 1 0 4.8 0a2.4 2.4 0 1 0 -4.8 0zM642.65 101a2.4 2.4 0 1 0 4.8 0a2.4 2.4 0 1 0 -4.8 0zM642.76 99.98a2.4 2.4 0 1 0 4.8 0a2.4 2.4 0 1 0 -4.8 0zM642.88 98.96a2.4 2.4 0 1 0 4.8 0a2.4 2.4 0 1 0 -4.8 0zM642.99 97.92a2.4 2.4 0 1 0 4.8 0a2.4 2.4 0 1 0 -4.8 0zM643.11 96.88a2.4 2.4 0 1 0 4.8 0a2.4 2.4 0 1 0 -4.8 0zM643.23 95.84a2.4 2.4 0 1 0 4.8 0a2.4 2.4 0 1 0 -4.8 0zM643.34 94.78a2.4 2.4 0 1 0 4.8 0a2.4 2.4 0 1 0 -4.8 0zM643.46 93.71a2.4 2.4 0 1 0 4.8 0a2.4 2.4 0 1 0 -4.8 0zM643.58 92.63a2.4 2.4 0 1 0 4.8 0a2.4 2.4 0 1 0 -4.8 0zM643.71 91.54a2.4 2.4 0 1 0 4.8 0a2.4 2.4 0 1 0 -4.8 0zM643.83 90.44a2.4 2.4 0 1 0 4.8 0a2.4 2.4 0 1 0 -4.8 0zM643.94 89.32a2.4 2.4 0 1 0 4.8 0a2.4 2.4 0 1 0 -4.8 0zM644.05 88.18a2.4 2.4 0 1 0 4.8 0a2.4 2.4 0 1 0 -4.8 0zM644.17 87.03a2.4 2.4 0 1 0 4.8 0a2.4 2.4 0 1 0 -4.8 0zM644.28 85.86a2.4 2.4 0 1 0 4.8 0a2.4 2.4 0 1 0 -4.8 0zM644.4 84.66a2.4 2.4 0 1 0 4.8 0a2.4 2.4 0 1 0 -4.8 0zM644.53 83.45a2.4 2.4 0 1 0 4.8 0a2.4 2.4 0 1 0 -4.8 0zM644.65 82.21a2.4 2.4 0 1 0 4.8 0a2.4 2.4 0 1 0 -4.8 0zM644.78 80.94a2.4 2.4 0 1 0 4.8 0a2.4 2.4 0 1 0 -4.8 0zM645.02 79.65a2.4 2.4 0 1 0 4.8 0a2.4 2.4 0 1 0 -4.8 0zM645.3 78.32a2.4 2.4 0 1 0 4.8 0a2.4 2.4 0 1 0 -4.8 0zM645.59 76.95a2.4 2.4 0 1 0 4.8 0a2.4 2.4 0 1 0 -4.8 0zM645.88 75.55a2.4 2.4 0 1 0 4.8 0a2.4 2.4 0 1 0 -4.8 0zM646.18 74.11a2.4 2.4 0 1 0 4.8 0a2.4 2.4 0 1 0 -4.8 0zM646.5 72.61a2.4 2.4 0 1 0 4.8 0a2.4 2.4 0 1 0 -4.8 0zM646.82 71.07a2.4 2.4 0 1 0 4.8 0a2.4 2.4 0 1 0 -4.8 0zM647 69.46a2.4 2.4 0 1 0 4.8 0a2.4 2.4 0 1 0 -4.8 0zM647.14 67.79a2.4 2.4 0 1 0 4.8 0a2.4 2.4 0 1 0 -4.8 0zM647.28 66.04a2.4 2.4 0 1 0 4.8 0a2.4 2.4 0 1 0 -4.8 0zM647.43 64.2a2.4 2.4 0 1 0 4.8 0a2.4 2.4 0 1 0 -4.8 0zM647.59 62.26a2.4 2.4 0 1 0 4.8 0a2.4 2.4 0 1 0 -4.8 0zM647.76 60.21a2.4 2.4 0 1 0 4.8 0a2.4 2.4 0 1 0 -4.8 0zM647.94 58.01a2.4 2.4 0 1 0 4.8 0a2.4 2.4 0 1 0 -4.8 0zM648.14 55.65a2.4 2.4 0 1 0 4.8 0a2.4 2.4 0 1 0 -4.8 0zM648.35 53.08a2.4 2.4 0 1 0 4.8 0a2.4 2.4 0 1 0 -4.8 0zM648.58 50.26a2.4 2.4 0 1 0 4.8 0a2.4 2.4 0 1 0 -4.8 0zM648.84 47.11a2.4 2.4 0 1 0 4.8 0a2.4 2.4 0 1 0 -4.8 0zM649.14 43.51a2.4 2.4 0 1 0 4.8 0a2.4 2.4 0 1 0 -4.8 0zM649.43 39.29a2.4 2.4 0 1 0 4.8 0a2.4 2.4 0 1 0 -4.8 0zM649.61 34.09a2.4 2.4 0 1 0 4.8 0a2.4 2.4 0 1 0 -4.8 0zM649.84 27.19a2.4 2.4 0 1 0 4.8 0a2.4 2.4 0 1 0 -4.8 0zM650.2 16.3a2.4 2.4 0 1 0 4.8 0a2.4 2.4 0 1 0 -4.8 0z" fill="#e2481a"/>
<path d="M634 200.6h4.2v4.2h-4.2zM634.52 189.71h4.2v4.2h-4.2zM634.86 182.81h4.2v4.2h-4.2zM635.13 177.61h4.2v4.2h-4.2zM635.39 173.39h4.2v4.2h-4.2zM635.61 169.79h4.2v4.2h-4.2zM635.8 166.64h4.2v4.2h-4.2zM635.97 163.82h4.2v4.2h-4.2zM636.23 161.25h4.2v4.2h-4.2zM636.47 158.89h4.2v4.2h-4.2zM636.7 156.69h4.2v4.2h-4.2zM636.92 154.64h4.2v4.2h-4.2zM637.12 152.7h4.2v4.2h-4.2zM637.32 150.86h4.2v4.2h-4.2zM637.5 149.11h4.2v4.2h-4.2zM637.68 147.44h4.2v4.2h-4.2zM637.84 145.83h4.2v4.2h-4.2zM638.01 144.29h4.2v4.2h-4.2zM638.17 142.79h4.2v4.2h-4.2zM638.35 141.35h4.2v4.2h-4.2zM638.52 139.95h4.2v4.2h-4.2zM638.69 138.58h4.2v4.2h-4.2zM638.85 137.25h4.2v4.2h-4.2zM639.01 135.96h4.2v4.2h-4.2zM639.17 134.69h4.2v4.2h-4.2zM639.32 133.45h4.2v4.2h-4.2zM639.47 132.24h4.2v4.2h-4.2zM639.61 131.04h4.2v4.2h-4.2zM639.76 129.87h4.2v4.2h-4.2zM639.9 128.72h4.2v4.2h-4.2zM640.04 127.58h4.2v4.2h-4.2zM640.18 126.46h4.2v4.2h-4.2zM640.31 125.36h4.2v4.2h-4.2zM640.44 124.27h4.2v4.2h-4.2zM640.58 123.19h4.2v4.2h-4.2zM640.74 122.12h4.2v4.2h-4.2zM640.91 121.06h4.2v4.2h-4.2zM641.08 120.02h4.2v4.2h-4.2zM641.24 118.98h4.2v4.2h-4.2zM641.41 117.94h4.2v4.2h-4.2zM641.57 116.92h4.2v4.2h-4.2zM641.74 115.9h4.2v4.2h-4.2zM641.9 114.89h4.2v4.2h-4.2zM642.06 113.88h4.2v4.2h-4.2zM642.22 112.88h4.2v4.2h-4.2zM642.38 111.88h4.2v4.2h-4.2zM642.54 110.88h4.2v4.2h-4.2zM642.7 109.88h4.2v4.2h-4.2zM642.86 108.89h4.2v4.2h-4.2zM643.02 107.9h4.2v4.2h-4.2zM643.25 106.9h4.2v4.2h-4.2zM643.56 105.91h4.2v4.2h-4.2zM643.87 104.92h4.2v4.2h-4.2zM644.18 103.92h4.2v4.2h-4.2zM644.49 102.92h4.2v4.2h-4.2zM644.8 101.92h4.2v4.2h-4.2zM645.11 100.92h4.2v4.2h-4.2zM645.42 99.91h4.2v4.2h-4.2zM645.74 98.9h4.2v4.2h-4.2zM646.05 97.88h4.2v4.2h-4.2zM646.32 96.86h4.2v4.2h-4.2zM646.56 95.82h4.2v4.2h-4.2zM646.79 94.78h4.2v4.2h-4.2zM647.03 93.74h4.2v4.2h-4.2zM647.27 92.68h4.2v4.2h-4.2zM647.52 91.61h4.2v4.2h-4.2zM647.76 90.53h4.2v4.2h-4.2zM648.01 89.44h4.2v4.2h-4.2zM648.24 88.34h4.2v4.2h-4.2zM648.4 87.22h4.2v4.2h-4.2zM648.57 86.08h4.2v4.2h-4.2zM648.73 84.93h4.2v4.2h-4.2zM648.9 83.76h4.2v4.2h-4.2zM649.08 82.56h4.2v4.2h-4.2zM649.25 81.35h4.2v4.2h-4.2zM649.43 80.11h4.2v4.2h-4.2zM649.62 78.84h4.2v4.2h-4.2zM649.8 77.55h4.2v4.2h-4.2zM650 76.22h4.2v4.2h-4.2zM650.19 74.85h4.2v4.2h-4.2zM650.4 73.45h4.2v4.2h-4.2zM650.61 72.01h4.2v4.2h-4.2zM650.82 70.51h4.2v4.2h-4.2zM651.05 68.97h4.2v4.2h-4.2zM651.19 67.36h4.2v4.2h-4.2zM651.3 65.69h4.2v4.2h-4.2zM651.42 63.94h4.2v4.2h-4.2zM651.55 62.1h4.2v4.2h-4.2zM651.68 60.16h4.2v4.2h-4.2zM651.82 58.11h4.2v4.2h-4.2zM651.98 55.91h4.2v4.2h-4.2zM652.14 53.55h4.2v4.2h-4.2zM652.32 50.98h4.2v4.2h-4.2zM652.51 48.16h4.2v4.2h-4.2zM652.73 45.01h4.2v4.2h-4.2zM652.98 41.41h4.2v4.2h-4.2zM653.23 37.19h4.2v4.2h-4.2zM653.36 31.99h4.2v4.2h-4.2zM653.53 25.09h4.2v4.2h-4.2zM653.8 14.2h4.2v4.2h-4.2z" fill="#000"/>
<rect x="463.9" y="9.1" width="211.3" height="200.3" fill="none" stroke="#000" stroke-width="1.5"/>
<path d="M76.2 439.96L78.2 439.96M251 439.96L249 439.96M76.2 435.06L78.2 435.06M251 435.06L249 435.06M76.2 431.58L78.2 431.58M251 431.58L249 431.58M76.2 428.88L78.2 428.88M251 428.88L249 428.88M76.2 426.68L78.2 426.68M251 426.68L249 426.68M76.2 424.81L78.2 424.81M251 424.81L249 424.81M76.2 423.2L78.2 423.2M251 423.2L249 423.2M76.2 421.77L78.2 421.77M251 421.77L249 421.77M76.2 420.5L79.8 420.5M251 420.5L247.4 420.5M76.2 412.12L78.2 412.12M251 412.12L249 412.12M76.2 407.22L78.2 407.22M251 407.22L249 407.22M76.2 403.74L78.2 403.74M251 403.74L249 403.74M76.2 401.04L78.2 401.04M251 401.04L249 401.04M76.2 398.84L78.2 398.84M251 398.84L249 398.84M76.2 396.97L78.2 396.97M251 396.97L249 396.97M76.2 395.36L78.2 395.36M251 395.36L249 395.36M76.2 393.93L78.2 393.93M251 393.93L249 393.93M76.2 392.66L79.8 392.66M251 392.66L247.4 392.66M76.2 384.28L78.2 384.28M251 384.28L249 384.28M76.2 379.38L78.2 379.38M251 379.38L249 379.38M76.2 375.9L78.2 375.9M251 375.9L249 375.9M76.2 373.2L78.2 373.2M251 373.2L249 373.2M76.2 371L78.2 371M251 371L249 371M76.2 369.13L78.2 369.13M251 369.13L249 369.13M76.2 367.52L78.2 367.52M251 367.52L249 367.52M76.2 366.09L78.2 366.09M251 366.09L249 366.09M76.2 364.82L79.8 364.82M251 364.82L247.4 364.82M76.2 356.44L78.2 356.44M251 356.44L249 356.44M76.2 351.54L78.2 351.54M251 351.54L249 351.54M76.2 348.06L78.2 348.06M251 348.06L249 348.06M76.2 345.36L78.2 345.36M251 345.36L249 345.36M76.2 343.16L78.2 343.16M251 343.16L249 343.16M76.2 341.29L78.2 341.29M251 341.29L249 341.29M76.2 339.68L78.2 339.68M251 339.68L249 339.68M76.2 338.25L78.2 338.25M251 338.25L249 338.25M76.2 336.98L79.8 336.98M251 336.98L247.4 336.98M76.2 328.6L78.2 328.6M251 328.6L249 328.6M76.2 323.7L78.2 323.7M251 323.7L249 323.7M76.2 320.22L78.2 320.22M251 320.22L249 320.22M76.2 317.52L78.2 317.52M251 317.52L249 317.52M76.2 315.32L78.2 315.32M251 315.32L249 315.32M76.2 313.45L78.2 313.45M251 313.45L249 313.45M76.2 311.84L78.2 311.84M251 311.84L249 311.84M76.2 310.41L78.2 310.41M251 310.41L249 310.41M76.2 309.14L79.8 309.14M251 309.14L247.4 309.14M76.2 300.76L78.2 300.76M251 300.76L249 300.76M76.2 295.86L78.2 295.86M251 295.86L249 295.86M76.2 292.38L78.2 292.38M251 292.38L249 292.38M76.2 289.68L78.2 289.68M251 289.68L249 289.68M76.2 287.48L78.2 287.48M251 287.48L249 287.48M76.2 285.61L78.2 285.61M251 285.61L249 285.61M76.2 284L78.2 284M251 284L249 284M76.2 282.57L78.2 282.57M251 282.57L249 282.57M76.2 281.3L79.8 281.3M251 281.3L247.4 281.3M76.2 272.92L78.2 272.92M251 272.92L249 272.92M76.2 268.02L78.2 268.02M251 268.02L249 268.02M76.2 264.54L78.2 264.54M251 264.54L249 264.54M76.2 261.84L78.2 261.84M251 261.84L249 261.84M76.2 259.64L78.2 259.64M251 259.64L249 259.64M76.2 257.77L78.2 257.77M251 257.77L249 257.77M93.68 447.7L93.68 444.7M93.68 256.2L93.68 259.2M111.16 447.7L111.16 442.7M111.16 256.2L111.16 261.2M128.64 447.7L128.64 444.7M128.64 256.2L128.64 259.2M146.12 447.7L146.12 442.7M146.12 256.2L146.12 261.2M163.6 447.7L163.6 444.7M163.6 256.2L163.6 259.2M181.08 447.7L181.08 442.7M181.08 256.2L181.08 261.2M198.56 447.7L198.56 444.7M198.56 256.2L198.56 259.2M216.04 447.7L216.04 442.7M216.04 256.2L216.04 261.2M233.52 447.7L233.52 444.7M233.52 256.2L233.52 259.2" stroke="#000" stroke-width="1.45" fill="none"/>
<text x="75.4" y="465.6" font-size="17" text-anchor="middle" fill="#111" >0</text>
<text x="110.36" y="465.6" font-size="17" text-anchor="middle" fill="#111" >20</text>
<text x="145.32" y="465.6" font-size="17" text-anchor="middle" fill="#111" >40</text>
<text x="180.28" y="465.6" font-size="17" text-anchor="middle" fill="#111" >60</text>
<text x="215.24" y="465.6" font-size="17" text-anchor="middle" fill="#111" >80</text>
<text x="250.2" y="465.6" font-size="17" text-anchor="middle" fill="#111" >100</text>
<text transform="translate(118.97 485.67) scale(1.0254 1.0963)" font-size="22" fill="#111" >Cycles(#)</text>
<path d="M285.9 439.96L287.9 439.96M462.3 439.96L460.3 439.96M285.9 435.06L287.9 435.06M462.3 435.06L460.3 435.06M285.9 431.58L287.9 431.58M462.3 431.58L460.3 431.58M285.9 428.88L287.9 428.88M462.3 428.88L460.3 428.88M285.9 426.68L287.9 426.68M462.3 426.68L460.3 426.68M285.9 424.81L287.9 424.81M462.3 424.81L460.3 424.81M285.9 423.2L287.9 423.2M462.3 423.2L460.3 423.2M285.9 421.77L287.9 421.77M462.3 421.77L460.3 421.77M285.9 420.5L289.5 420.5M462.3 420.5L458.7 420.5M285.9 412.12L287.9 412.12M462.3 412.12L460.3 412.12M285.9 407.22L287.9 407.22M462.3 407.22L460.3 407.22M285.9 403.74L287.9 403.74M462.3 403.74L460.3 403.74M285.9 401.04L287.9 401.04M462.3 401.04L460.3 401.04M285.9 398.84L287.9 398.84M462.3 398.84L460.3 398.84M285.9 396.97L287.9 396.97M462.3 396.97L460.3 396.97M285.9 395.36L287.9 395.36M462.3 395.36L460.3 395.36M285.9 393.93L287.9 393.93M462.3 393.93L460.3 393.93M285.9 392.66L289.5 392.66M462.3 392.66L458.7 392.66M285.9 384.28L287.9 384.28M462.3 384.28L460.3 384.28M285.9 379.38L287.9 379.38M462.3 379.38L460.3 379.38M285.9 375.9L287.9 375.9M462.3 375.9L460.3 375.9M285.9 373.2L287.9 373.2M462.3 373.2L460.3 373.2M285.9 371L287.9 371M462.3 371L460.3 371M285.9 369.13L287.9 369.13M462.3 369.13L460.3 369.13M285.9 367.52L287.9 367.52M462.3 367.52L460.3 367.52M285.9 366.09L287.9 366.09M462.3 366.09L460.3 366.09M285.9 364.82L289.5 364.82M462.3 364.82L458.7 364.82M285.9 356.44L287.9 356.44M462.3 356.44L460.3 356.44M285.9 351.54L287.9 351.54M462.3 351.54L460.3 351.54M285.9 348.06L287.9 348.06M462.3 348.06L460.3 348.06M285.9 345.36L287.9 345.36M462.3 345.36L460.3 345.36M285.9 343.16L287.9 343.16M462.3 343.16L460.3 343.16M285.9 341.29L287.9 341.29M462.3 341.29L460.3 341.29M285.9 339.68L287.9 339.68M462.3 339.68L460.3 339.68M285.9 338.25L287.9 338.25M462.3 338.25L460.3 338.25M285.9 336.98L289.5 336.98M462.3 336.98L458.7 336.98M285.9 328.6L287.9 328.6M462.3 328.6L460.3 328.6M285.9 323.7L287.9 323.7M462.3 323.7L460.3 323.7M285.9 320.22L287.9 320.22M462.3 320.22L460.3 320.22M285.9 317.52L287.9 317.52M462.3 317.52L460.3 317.52M285.9 315.32L287.9 315.32M462.3 315.32L460.3 315.32M285.9 313.45L287.9 313.45M462.3 313.45L460.3 313.45M285.9 311.84L287.9 311.84M462.3 311.84L460.3 311.84M285.9 310.41L287.9 310.41M462.3 310.41L460.3 310.41M285.9 309.14L289.5 309.14M462.3 309.14L458.7 309.14M285.9 300.76L287.9 300.76M462.3 300.76L460.3 300.76M285.9 295.86L287.9 295.86M462.3 295.86L460.3 295.86M285.9 292.38L287.9 292.38M462.3 292.38L460.3 292.38M285.9 289.68L287.9 289.68M462.3 289.68L460.3 289.68M285.9 287.48L287.9 287.48M462.3 287.48L460.3 287.48M285.9 285.61L287.9 285.61M462.3 285.61L460.3 285.61M285.9 284L287.9 284M462.3 284L460.3 284M285.9 282.57L287.9 282.57M462.3 282.57L460.3 282.57M285.9 281.3L289.5 281.3M462.3 281.3L458.7 281.3M285.9 272.92L287.9 272.92M462.3 272.92L460.3 272.92M285.9 268.02L287.9 268.02M462.3 268.02L460.3 268.02M285.9 264.54L287.9 264.54M462.3 264.54L460.3 264.54M285.9 261.84L287.9 261.84M462.3 261.84L460.3 261.84M285.9 259.64L287.9 259.64M462.3 259.64L460.3 259.64M285.9 257.77L287.9 257.77M462.3 257.77L460.3 257.77M303.54 447.7L303.54 444.7M303.54 256.2L303.54 259.2M321.18 447.7L321.18 442.7M321.18 256.2L321.18 261.2M338.82 447.7L338.82 444.7M338.82 256.2L338.82 259.2M356.46 447.7L356.46 442.7M356.46 256.2L356.46 261.2M374.1 447.7L374.1 444.7M374.1 256.2L374.1 259.2M391.74 447.7L391.74 442.7M391.74 256.2L391.74 261.2M409.38 447.7L409.38 444.7M409.38 256.2L409.38 259.2M427.02 447.7L427.02 442.7M427.02 256.2L427.02 261.2M444.66 447.7L444.66 444.7M444.66 256.2L444.66 259.2" stroke="#000" stroke-width="1.45" fill="none"/>
<text x="285.1" y="465.6" font-size="17" text-anchor="middle" fill="#111" >0</text>
<text x="320.38" y="465.6" font-size="17" text-anchor="middle" fill="#111" >20</text>
<text x="355.66" y="465.6" font-size="17" text-anchor="middle" fill="#111" >40</text>
<text x="390.94" y="465.6" font-size="17" text-anchor="middle" fill="#111" >60</text>
<text x="426.22" y="465.6" font-size="17" text-anchor="middle" fill="#111" >80</text>
<text x="461.5" y="465.6" font-size="17" text-anchor="middle" fill="#111" >100</text>
<text transform="translate(329.38 485.67) scale(1.0243 1.0963)" font-size="22" fill="#111" >Cycles(#)</text>
<path d="M492.2 439.96L494.2 439.96M667.2 439.96L665.2 439.96M492.2 435.06L494.2 435.06M667.2 435.06L665.2 435.06M492.2 431.58L494.2 431.58M667.2 431.58L665.2 431.58M492.2 428.88L494.2 428.88M667.2 428.88L665.2 428.88M492.2 426.68L494.2 426.68M667.2 426.68L665.2 426.68M492.2 424.81L494.2 424.81M667.2 424.81L665.2 424.81M492.2 423.2L494.2 423.2M667.2 423.2L665.2 423.2M492.2 421.77L494.2 421.77M667.2 421.77L665.2 421.77M492.2 420.5L495.8 420.5M667.2 420.5L663.6 420.5M492.2 412.12L494.2 412.12M667.2 412.12L665.2 412.12M492.2 407.22L494.2 407.22M667.2 407.22L665.2 407.22M492.2 403.74L494.2 403.74M667.2 403.74L665.2 403.74M492.2 401.04L494.2 401.04M667.2 401.04L665.2 401.04M492.2 398.84L494.2 398.84M667.2 398.84L665.2 398.84M492.2 396.97L494.2 396.97M667.2 396.97L665.2 396.97M492.2 395.36L494.2 395.36M667.2 395.36L665.2 395.36M492.2 393.93L494.2 393.93M667.2 393.93L665.2 393.93M492.2 392.66L495.8 392.66M667.2 392.66L663.6 392.66M492.2 384.28L494.2 384.28M667.2 384.28L665.2 384.28M492.2 379.38L494.2 379.38M667.2 379.38L665.2 379.38M492.2 375.9L494.2 375.9M667.2 375.9L665.2 375.9M492.2 373.2L494.2 373.2M667.2 373.2L665.2 373.2M492.2 371L494.2 371M667.2 371L665.2 371M492.2 369.13L494.2 369.13M667.2 369.13L665.2 369.13M492.2 367.52L494.2 367.52M667.2 367.52L665.2 367.52M492.2 366.09L494.2 366.09M667.2 366.09L665.2 366.09M492.2 364.82L495.8 364.82M667.2 364.82L663.6 364.82M492.2 356.44L494.2 356.44M667.2 356.44L665.2 356.44M492.2 351.54L494.2 351.54M667.2 351.54L665.2 351.54M492.2 348.06L494.2 348.06M667.2 348.06L665.2 348.06M492.2 345.36L494.2 345.36M667.2 345.36L665.2 345.36M492.2 343.16L494.2 343.16M667.2 343.16L665.2 343.16M492.2 341.29L494.2 341.29M667.2 341.29L665.2 341.29M492.2 339.68L494.2 339.68M667.2 339.68L665.2 339.68M492.2 338.25L494.2 338.25M667.2 338.25L665.2 338.25M492.2 336.98L495.8 336.98M667.2 336.98L663.6 336.98M492.2 328.6L494.2 328.6M667.2 328.6L665.2 328.6M492.2 323.7L494.2 323.7M667.2 323.7L665.2 323.7M492.2 320.22L494.2 320.22M667.2 320.22L665.2 320.22M492.2 317.52L494.2 317.52M667.2 317.52L665.2 317.52M492.2 315.32L494.2 315.32M667.2 315.32L665.2 315.32M492.2 313.45L494.2 313.45M667.2 313.45L665.2 313.45M492.2 311.84L494.2 311.84M667.2 311.84L665.2 311.84M492.2 310.41L494.2 310.41M667.2 310.41L665.2 310.41M492.2 309.14L495.8 309.14M667.2 309.14L663.6 309.14M492.2 300.76L494.2 300.76M667.2 300.76L665.2 300.76M492.2 295.86L494.2 295.86M667.2 295.86L665.2 295.86M492.2 292.38L494.2 292.38M667.2 292.38L665.2 292.38M492.2 289.68L494.2 289.68M667.2 289.68L665.2 289.68M492.2 287.48L494.2 287.48M667.2 287.48L665.2 287.48M492.2 285.61L494.2 285.61M667.2 285.61L665.2 285.61M492.2 284L494.2 284M667.2 284L665.2 284M492.2 282.57L494.2 282.57M667.2 282.57L665.2 282.57M492.2 281.3L495.8 281.3M667.2 281.3L663.6 281.3M492.2 272.92L494.2 272.92M667.2 272.92L665.2 272.92M492.2 268.02L494.2 268.02M667.2 268.02L665.2 268.02M492.2 264.54L494.2 264.54M667.2 264.54L665.2 264.54M492.2 261.84L494.2 261.84M667.2 261.84L665.2 261.84M492.2 259.64L494.2 259.64M667.2 259.64L665.2 259.64M492.2 257.77L494.2 257.77M667.2 257.77L665.2 257.77M509.7 447.7L509.7 444.7M509.7 256.2L509.7 259.2M527.2 447.7L527.2 442.7M527.2 256.2L527.2 261.2M544.7 447.7L544.7 444.7M544.7 256.2L544.7 259.2M562.2 447.7L562.2 442.7M562.2 256.2L562.2 261.2M579.7 447.7L579.7 444.7M579.7 256.2L579.7 259.2M597.2 447.7L597.2 442.7M597.2 256.2L597.2 261.2M614.7 447.7L614.7 444.7M614.7 256.2L614.7 259.2M632.2 447.7L632.2 442.7M632.2 256.2L632.2 261.2M649.7 447.7L649.7 444.7M649.7 256.2L649.7 259.2" stroke="#000" stroke-width="1.45" fill="none"/>
<text x="491.4" y="465.6" font-size="17" text-anchor="middle" fill="#111" >0</text>
<text x="526.4" y="465.6" font-size="17" text-anchor="middle" fill="#111" >20</text>
<text x="561.4" y="465.6" font-size="17" text-anchor="middle" fill="#111" >40</text>
<text x="596.4" y="465.6" font-size="17" text-anchor="middle" fill="#111" >60</text>
<text x="631.4" y="465.6" font-size="17" text-anchor="middle" fill="#111" >80</text>
<text x="666.4" y="465.6" font-size="17" text-anchor="middle" fill="#111" >100</text>
<text transform="translate(535.08 485.67) scale(1.0188 1.0963)" font-size="22" fill="#111" >Cycles(#)</text>
<text x="70.3" y="454.34" font-size="17" text-anchor="end" fill="#111" >100</text>
<text x="70.3" y="426.5" font-size="17" text-anchor="end" fill="#111" >1k</text>
<text x="70.3" y="398.66" font-size="17" text-anchor="end" fill="#111" >10k</text>
<text x="70.3" y="370.82" font-size="17" text-anchor="end" fill="#111" >100k</text>
<text x="70.3" y="342.98" font-size="17" text-anchor="end" fill="#111" >1M</text>
<text x="70.3" y="315.14" font-size="17" text-anchor="end" fill="#111" >10M</text>
<text x="70.3" y="287.3" font-size="17" text-anchor="end" fill="#111" >100M</text>
<text transform="translate(29.07 438.27) rotate(-90) scale(1.0664 1.1128)" font-size="21" fill="#111" >Resistance (<tspan font-family="Liberation Serif">&#937;</tspan>)</text>
<path d="M76 301.4h6.6l-3.3 5.6zM78.6 306h6.6l-3.3 5.6zM79.9 296.8h6.6l-3.3 5.6zM82.5 292.9h6.6l-3.3 5.6zM84.5 285h6.6l-3.3 5.6zM86.5 309.3h6.6l-3.3 5.6zM89.8 308.6h6.6l-3.3 5.6zM90.4 299.4h6.6l-3.3 5.6zM93 308h6.6l-3.3 5.6zM93.7 299.4h6.6l-3.3 5.6zM97 308.6h6.6l-3.3 5.6zM98.3 302.7h6.6l-3.3 5.6zM100.3 288.3h6.6l-3.3 5.6zM102.2 290.9h6.6l-3.3 5.6zM104.9 286.3h6.6l-3.3 5.6zM107.5 281.7h6.6l-3.3 5.6zM108.8 290.9h6.6l-3.3 5.6zM111.4 305.3h6.6l-3.3 5.6zM112.7 279.1h6.6l-3.3 5.6zM114.7 303.4h6.6l-3.3 5.6zM116 294.2h6.6l-3.3 5.6zM118 285.6h6.6l-3.3 5.6zM119.3 304h6.6l-3.3 5.6zM121.3 294.2h6.6l-3.3 5.6zM123.3 283h6.6l-3.3 5.6zM124.6 292.9h6.6l-3.3 5.6zM127.2 293.5h6.6l-3.3 5.6zM129.2 285h6.6l-3.3 5.6zM131.1 294.8h6.6l-3.3 5.6zM133.8 285.6h6.6l-3.3 5.6zM136.4 307.3h6.6l-3.3 5.6zM139 283.7h6.6l-3.3 5.6zM140.3 306.7h6.6l-3.3 5.6zM142.3 288.9h6.6l-3.3 5.6zM144.3 290.2h6.6l-3.3 5.6zM146.3 293.5h6.6l-3.3 5.6zM148.2 296.1h6.6l-3.3 5.6zM149.5 283.7h6.6l-3.3 5.6zM152.2 309.3h6.6l-3.3 5.6zM154.8 300.7h6.6l-3.3 5.6zM157.4 290.9h6.6l-3.3 5.6zM159.4 298.1h6.6l-3.3 5.6zM160 290.9h6.6l-3.3 5.6zM161.3 307.3h6.6l-3.3 5.6zM164 296.1h6.6l-3.3 5.6zM165.3 302.7h6.6l-3.3 5.6zM167.9 302.1h6.6l-3.3 5.6zM169.9 308.6h6.6l-3.3 5.6zM171.8 298.8h6.6l-3.3 5.6zM173.2 308.6h6.6l-3.3 5.6zM175.8 304.7h6.6l-3.3 5.6zM178.4 307.3h6.6l-3.3 5.6zM180.4 305.3h6.6l-3.3 5.6zM182.4 302.1h6.6l-3.3 5.6zM185 308.6h6.6l-3.3 5.6zM186.3 311.9h6.6l-3.3 5.6zM188.3 288.9h6.6l-3.3 5.6zM189.6 305.3h6.6l-3.3 5.6zM191.6 292.9h6.6l-3.3 5.6zM193.5 297.5h6.6l-3.3 5.6zM194.8 309.9h6.6l-3.3 5.6zM196.8 303.4h6.6l-3.3 5.6zM198.1 308.6h6.6l-3.3 5.6zM200.7 308.6h6.6l-3.3 5.6zM203.4 293.5h6.6l-3.3 5.6zM206 296.8h6.6l-3.3 5.6zM207.3 302.1h6.6l-3.3 5.6zM209.3 299.4h6.6l-3.3 5.6zM211.3 303.4h6.6l-3.3 5.6zM213.9 308.6h6.6l-3.3 5.6zM215.9 295.5h6.6l-3.3 5.6zM216.5 311.2h6.6l-3.3 5.6zM219.1 307.3h6.6l-3.3 5.6zM221.8 306h6.6l-3.3 5.6zM224.4 306h6.6l-3.3 5.6zM227 308.6h6.6l-3.3 5.6zM229.7 306h6.6l-3.3 5.6zM231.6 300.1h6.6l-3.3 5.6zM233.6 302.1h6.6l-3.3 5.6zM236.2 304.7h6.6l-3.3 5.6zM237.5 307.3h6.6l-3.3 5.6zM238.9 288.9h6.6l-3.3 5.6zM240.8 285.6h6.6l-3.3 5.6zM242.8 291.5h6.6l-3.3 5.6zM244.1 294.8h6.6l-3.3 5.6zM245.4 286.3h6.6l-3.3 5.6z" fill="#067b70"/>
<path d="M77.9 326.3l3.3 5.6h-6.6zM80.6 324.4l3.3 5.6h-6.6zM79.3 334.2l3.3 5.6h-6.6zM83.2 332.9l3.3 5.6h-6.6zM85.8 337.5l3.3 5.6h-6.6zM87.8 334.9l3.3 5.6h-6.6zM90.4 337.5l3.3 5.6h-6.6zM92.4 334.2l3.3 5.6h-6.6zM94.4 336.2l3.3 5.6h-6.6zM95.7 330.3l3.3 5.6h-6.6zM97.7 326.3l3.3 5.6h-6.6zM100.3 337.5l3.3 5.6h-6.6zM101.6 327l3.3 5.6h-6.6zM104.2 327.7l3.3 5.6h-6.6zM106.2 325l3.3 5.6h-6.6zM108.8 323.1l3.3 5.6h-6.6zM110.1 332.9l3.3 5.6h-6.6zM112.1 331.6l3.3 5.6h-6.6zM114.1 337.5l3.3 5.6h-6.6zM117.4 324.4l3.3 5.6h-6.6zM119.3 327.7l3.3 5.6h-6.6zM121.3 327l3.3 5.6h-6.6zM123.3 329l3.3 5.6h-6.6zM126.6 337.5l3.3 5.6h-6.6zM129.2 336.2l3.3 5.6h-6.6zM130.5 327l3.3 5.6h-6.6zM133.1 332.3l3.3 5.6h-6.6zM135.8 332.3l3.3 5.6h-6.6zM137.7 331.6l3.3 5.6h-6.6zM139.7 334.2l3.3 5.6h-6.6zM142.3 335.5l3.3 5.6h-6.6zM145 335.5l3.3 5.6h-6.6zM147.6 336.2l3.3 5.6h-6.6zM150.9 335.5l3.3 5.6h-6.6zM153.5 334.2l3.3 5.6h-6.6zM156.1 332.9l3.3 5.6h-6.6zM158.1 337.5l3.3 5.6h-6.6zM160.7 329l3.3 5.6h-6.6zM162.7 334.2l3.3 5.6h-6.6zM163.3 332.9l3.3 5.6h-6.6zM165.3 335.5l3.3 5.6h-6.6zM167.3 338.2l3.3 5.6h-6.6zM169.9 331.6l3.3 5.6h-6.6zM172.5 334.2l3.3 5.6h-6.6zM175.1 335.5l3.3 5.6h-6.6zM176.5 338.8l3.3 5.6h-6.6zM179.1 329l3.3 5.6h-6.6zM181.7 326.3l3.3 5.6h-6.6zM184.3 325.7l3.3 5.6h-6.6zM187 328.3l3.3 5.6h-6.6zM189.6 326.3l3.3 5.6h-6.6zM192.2 330.3l3.3 5.6h-6.6zM194.9 332.3l3.3 5.6h-6.6zM196.8 327.7l3.3 5.6h-6.6zM198.8 332.9l3.3 5.6h-6.6zM200.1 339.5l3.3 5.6h-6.6zM202.7 329.6l3.3 5.6h-6.6zM205.4 327.7l3.3 5.6h-6.6zM207.3 332.9l3.3 5.6h-6.6zM208.6 338.8l3.3 5.6h-6.6zM211.3 330.3l3.3 5.6h-6.6zM213.9 328.3l3.3 5.6h-6.6zM216.5 330.3l3.3 5.6h-6.6zM219.2 326.3l3.3 5.6h-6.6zM220.5 337.5l3.3 5.6h-6.6zM223.1 334.2l3.3 5.6h-6.6zM225.1 322.4l3.3 5.6h-6.6zM227.7 324.4l3.3 5.6h-6.6zM230.3 326.3l3.3 5.6h-6.6zM233.6 332.9l3.3 5.6h-6.6zM235.6 327l3.3 5.6h-6.6zM238.2 326.3l3.3 5.6h-6.6zM240.8 329l3.3 5.6h-6.6zM243.5 326.3l3.3 5.6h-6.6zM246.1 325.7l3.3 5.6h-6.6zM248.7 325l3.3 5.6h-6.6z" fill="#20378e"/>
<path d="M76.1 361.8a2.5 2.5 0 1 0 5 0a2.5 2.5 0 1 0 -5 0zM76.1 367.7a2.5 2.5 0 1 0 5 0a2.5 2.5 0 1 0 -5 0zM79.4 356.5a2.5 2.5 0 1 0 5 0a2.5 2.5 0 1 0 -5 0zM80 360.5a2.5 2.5 0 1 0 5 0a2.5 2.5 0 1 0 -5 0zM82 362.4a2.5 2.5 0 1 0 5 0a2.5 2.5 0 1 0 -5 0zM84 366.4a2.5 2.5 0 1 0 5 0a2.5 2.5 0 1 0 -5 0zM86.6 357.2a2.5 2.5 0 1 0 5 0a2.5 2.5 0 1 0 -5 0zM87.3 363.1a2.5 2.5 0 1 0 5 0a2.5 2.5 0 1 0 -5 0zM88.6 368.3a2.5 2.5 0 1 0 5 0a2.5 2.5 0 1 0 -5 0zM91.2 364.4a2.5 2.5 0 1 0 5 0a2.5 2.5 0 1 0 -5 0zM92.5 361.8a2.5 2.5 0 1 0 5 0a2.5 2.5 0 1 0 -5 0zM95.8 358.5a2.5 2.5 0 1 0 5 0a2.5 2.5 0 1 0 -5 0zM97.1 363.1a2.5 2.5 0 1 0 5 0a2.5 2.5 0 1 0 -5 0zM99.1 367.7a2.5 2.5 0 1 0 5 0a2.5 2.5 0 1 0 -5 0zM101.1 362.4a2.5 2.5 0 1 0 5 0a2.5 2.5 0 1 0 -5 0zM103.7 358.5a2.5 2.5 0 1 0 5 0a2.5 2.5 0 1 0 -5 0zM106.3 359.8a2.5 2.5 0 1 0 5 0a2.5 2.5 0 1 0 -5 0zM109 356.5a2.5 2.5 0 1 0 5 0a2.5 2.5 0 1 0 -5 0zM110.9 363.1a2.5 2.5 0 1 0 5 0a2.5 2.5 0 1 0 -5 0zM113.5 357.8a2.5 2.5 0 1 0 5 0a2.5 2.5 0 1 0 -5 0zM115.5 362.4a2.5 2.5 0 1 0 5 0a2.5 2.5 0 1 0 -5 0zM118.1 369.7a2.5 2.5 0 1 0 5 0a2.5 2.5 0 1 0 -5 0zM122.1 370.3a2.5 2.5 0 1 0 5 0a2.5 2.5 0 1 0 -5 0zM119.5 361.8a2.5 2.5 0 1 0 5 0a2.5 2.5 0 1 0 -5 0zM122.7 360.5a2.5 2.5 0 1 0 5 0a2.5 2.5 0 1 0 -5 0zM125.4 353.9a2.5 2.5 0 1 0 5 0a2.5 2.5 0 1 0 -5 0zM128 354.5a2.5 2.5 0 1 0 5 0a2.5 2.5 0 1 0 -5 0zM129.3 359.8a2.5 2.5 0 1 0 5 0a2.5 2.5 0 1 0 -5 0zM131.9 355.9a2.5 2.5 0 1 0 5 0a2.5 2.5 0 1 0 -5 0zM134.6 357.8a2.5 2.5 0 1 0 5 0a2.5 2.5 0 1 0 -5 0zM137.9 366.4a2.5 2.5 0 1 0 5 0a2.5 2.5 0 1 0 -5 0zM139.2 355.2a2.5 2.5 0 1 0 5 0a2.5 2.5 0 1 0 -5 0zM141.1 358.5a2.5 2.5 0 1 0 5 0a2.5 2.5 0 1 0 -5 0zM143.1 363.1a2.5 2.5 0 1 0 5 0a2.5 2.5 0 1 0 -5 0zM145.7 354.5a2.5 2.5 0 1 0 5 0a2.5 2.5 0 1 0 -5 0zM147.7 358.5a2.5 2.5 0 1 0 5 0a2.5 2.5 0 1 0 -5 0zM150.3 356.5a2.5 2.5 0 1 0 5 0a2.5 2.5 0 1 0 -5 0zM153 354.5a2.5 2.5 0 1 0 5 0a2.5 2.5 0 1 0 -5 0zM155.6 354.5a2.5 2.5 0 1 0 5 0a2.5 2.5 0 1 0 -5 0zM157.6 358.5a2.5 2.5 0 1 0 5 0a2.5 2.5 0 1 0 -5 0zM159.5 354.5a2.5 2.5 0 1 0 5 0a2.5 2.5 0 1 0 -5 0zM160.8 355.2a2.5 2.5 0 1 0 5 0a2.5 2.5 0 1 0 -5 0zM163.4 356.5a2.5 2.5 0 1 0 5 0a2.5 2.5 0 1 0 -5 0zM165.4 359.1a2.5 2.5 0 1 0 5 0a2.5 2.5 0 1 0 -5 0zM167.4 353.9a2.5 2.5 0 1 0 5 0a2.5 2.5 0 1 0 -5 0zM169.4 363.1a2.5 2.5 0 1 0 5 0a2.5 2.5 0 1 0 -5 0zM171.3 356.5a2.5 2.5 0 1 0 5 0a2.5 2.5 0 1 0 -5 0zM173.3 356.5a2.5 2.5 0 1 0 5 0a2.5 2.5 0 1 0 -5 0zM174.6 360.5a2.5 2.5 0 1 0 5 0a2.5 2.5 0 1 0 -5 0zM177.2 361.1a2.5 2.5 0 1 0 5 0a2.5 2.5 0 1 0 -5 0zM179.9 364.4a2.5 2.5 0 1 0 5 0a2.5 2.5 0 1 0 -5 0zM182.5 365.1a2.5 2.5 0 1 0 5 0a2.5 2.5 0 1 0 -5 0zM185.1 367a2.5 2.5 0 1 0 5 0a2.5 2.5 0 1 0 -5 0zM187.1 367a2.5 2.5 0 1 0 5 0a2.5 2.5 0 1 0 -5 0zM189.1 364.4a2.5 2.5 0 1 0 5 0a2.5 2.5 0 1 0 -5 0zM191 357.8a2.5 2.5 0 1 0 5 0a2.5 2.5 0 1 0 -5 0zM193.7 361.1a2.5 2.5 0 1 0 5 0a2.5 2.5 0 1 0 -5 0zM196.3 360.5a2.5 2.5 0 1 0 5 0a2.5 2.5 0 1 0 -5 0zM197.6 355.9a2.5 2.5 0 1 0 5 0a2.5 2.5 0 1 0 -5 0zM199.6 360.5a2.5 2.5 0 1 0 5 0a2.5 2.5 0 1 0 -5 0zM201.5 355.2a2.5 2.5 0 1 0 5 0a2.5 2.5 0 1 0 -5 0zM204.2 356.5a2.5 2.5 0 1 0 5 0a2.5 2.5 0 1 0 -5 0zM206.8 353.2a2.5 2.5 0 1 0 5 0a2.5 2.5 0 1 0 -5 0zM208.1 364.4a2.5 2.5 0 1 0 5 0a2.5 2.5 0 1 0 -5 0zM209.4 358.5a2.5 2.5 0 1 0 5 0a2.5 2.5 0 1 0 -5 0zM211.4 354.5a2.5 2.5 0 1 0 5 0a2.5 2.5 0 1 0 -5 0zM213.4 359.1a2.5 2.5 0 1 0 5 0a2.5 2.5 0 1 0 -5 0zM216 355.2a2.5 2.5 0 1 0 5 0a2.5 2.5 0 1 0 -5 0zM218 357.8a2.5 2.5 0 1 0 5 0a2.5 2.5 0 1 0 -5 0zM219.9 363.1a2.5 2.5 0 1 0 5 0a2.5 2.5 0 1 0 -5 0zM221.9 367.7a2.5 2.5 0 1 0 5 0a2.5 2.5 0 1 0 -5 0zM223.9 356.5a2.5 2.5 0 1 0 5 0a2.5 2.5 0 1 0 -5 0zM226.5 355.2a2.5 2.5 0 1 0 5 0a2.5 2.5 0 1 0 -5 0zM229.1 355.9a2.5 2.5 0 1 0 5 0a2.5 2.5 0 1 0 -5 0zM231.8 357.8a2.5 2.5 0 1 0 5 0a2.5 2.5 0 1 0 -5 0zM234.4 355.2a2.5 2.5 0 1 0 5 0a2.5 2.5 0 1 0 -5 0zM237 355.9a2.5 2.5 0 1 0 5 0a2.5 2.5 0 1 0 -5 0zM239.7 356.5a2.5 2.5 0 1 0 5 0a2.5 2.5 0 1 0 -5 0zM241.6 360.5a2.5 2.5 0 1 0 5 0a2.5 2.5 0 1 0 -5 0zM243.6 353.9a2.5 2.5 0 1 0 5 0a2.5 2.5 0 1 0 -5 0zM244.9 361.8a2.5 2.5 0 1 0 5 0a2.5 2.5 0 1 0 -5 0z" fill="#e2481a"/>
<path d="M75.9 421.1h4v4h-4zM77.9 424.4h4v4h-4zM79.9 425.1h4v4h-4zM82.5 426.4h4v4h-4zM85.1 426.4h4v4h-4zM86.5 417.9h4v4h-4zM89.1 415.9h4v4h-4zM90.4 426.4h4v4h-4zM93 422.5h4v4h-4zM95 417.2h4v4h-4zM96.3 423.8h4v4h-4zM98.3 419.8h4v4h-4zM100.9 425.1h4v4h-4zM102.9 422.5h4v4h-4zM105.5 419.8h4v4h-4zM107.5 425.1h4v4h-4zM110.1 426.4h4v4h-4zM111.4 421.1h4v4h-4zM114 427.1h4v4h-4zM115.4 421.1h4v4h-4zM118 418.5h4v4h-4zM120.6 415.9h4v4h-4zM123.2 413.9h4v4h-4zM125.9 413.3h4v4h-4zM128.5 414.6h4v4h-4zM125.9 420.5h4v4h-4zM129.8 418.5h4v4h-4zM132.4 421.1h4v4h-4zM135.1 422.5h4v4h-4zM137.7 426.4h4v4h-4zM140.3 426.4h4v4h-4zM143 427.7h4v4h-4zM144.9 423.8h4v4h-4zM146.9 421.1h4v4h-4zM149.5 419.8h4v4h-4zM152.2 421.1h4v4h-4zM154.8 423.8h4v4h-4zM157.4 417.9h4v4h-4zM159.4 424.4h4v4h-4zM160.7 417.2h4v4h-4zM161.3 422.5h4v4h-4zM163.9 424.4h4v4h-4zM166.6 425.1h4v4h-4zM169.2 424.4h4v4h-4zM171.8 426.4h4v4h-4zM174.5 425.1h4v4h-4zM177.1 423.8h4v4h-4zM179.7 425.1h4v4h-4zM182.3 425.7h4v4h-4zM185 426.4h4v4h-4zM187.6 425.7h4v4h-4zM190.2 426.4h4v4h-4zM192.9 426.4h4v4h-4zM195.5 426.4h4v4h-4zM198.1 426.4h4v4h-4zM200.7 425.7h4v4h-4zM203.4 425.1h4v4h-4zM206 425.1h4v4h-4zM208.6 424.4h4v4h-4zM211.2 416.5h4v4h-4zM213.9 417.2h4v4h-4zM215.8 419.8h4v4h-4zM217.8 421.1h4v4h-4zM219.8 422.5h4v4h-4zM221.8 419.2h4v4h-4zM223.1 423.8h4v4h-4zM225.7 426.4h4v4h-4zM228.3 421.1h4v4h-4zM231 418.5h4v4h-4zM232.9 422.5h4v4h-4zM234.9 426.4h4v4h-4zM237.5 422.5h4v4h-4zM240.2 421.1h4v4h-4zM242.8 419.8h4v4h-4zM244.8 418.5h4v4h-4zM246.7 415.9h4v4h-4z" fill="#000"/>
<rect x="76.2" y="256.2" width="174.8" height="191.5" fill="none" stroke="#000" stroke-width="1.5"/>
<path d="M284.6 303.5h6.6l-3.3 5.6zM286.6 300.2h6.6l-3.3 5.6zM289.2 299.5h6.6l-3.3 5.6zM291.2 301.5h6.6l-3.3 5.6zM293.8 307.4h6.6l-3.3 5.6zM297.1 292.3h6.6l-3.3 5.6zM299.8 292.3h6.6l-3.3 5.6zM301.7 306.8h6.6l-3.3 5.6zM304.4 304.8h6.6l-3.3 5.6zM307 294.3h6.6l-3.3 5.6zM308.3 304.8h6.6l-3.3 5.6zM310.3 307.4h6.6l-3.3 5.6zM312.2 288.4h6.6l-3.3 5.6zM314.2 308.7h6.6l-3.3 5.6zM316.2 304.8h6.6l-3.3 5.6zM318.8 290.3h6.6l-3.3 5.6zM320.1 304.8h6.6l-3.3 5.6zM322.1 295.6h6.6l-3.3 5.6zM324.1 294.3h6.6l-3.3 5.6zM326 289h6.6l-3.3 5.6zM328 306.1h6.6l-3.3 5.6zM330.6 294.3h6.6l-3.3 5.6zM332.6 291h6.6l-3.3 5.6zM334.6 305.5h6.6l-3.3 5.6zM337.2 307.4h6.6l-3.3 5.6zM339.2 287.7h6.6l-3.3 5.6zM341.1 304.8h6.6l-3.3 5.6zM342.5 296.9h6.6l-3.3 5.6zM344.4 289.7h6.6l-3.3 5.6zM346.4 299.5h6.6l-3.3 5.6zM349 300.2h6.6l-3.3 5.6zM351 291.7h6.6l-3.3 5.6zM353.6 298.2h6.6l-3.3 5.6zM354.3 308.7h6.6l-3.3 5.6zM356.9 309.4h6.6l-3.3 5.6zM358.2 290.3h6.6l-3.3 5.6zM361.5 289h6.6l-3.3 5.6zM363.5 293.6h6.6l-3.3 5.6zM366.1 296.9h6.6l-3.3 5.6zM368.1 292.3h6.6l-3.3 5.6zM370 290.3h6.6l-3.3 5.6zM372 294.3h6.6l-3.3 5.6zM374.6 289h6.6l-3.3 5.6zM376.6 293h6.6l-3.3 5.6zM379.2 289.7h6.6l-3.3 5.6zM382.5 286.4h6.6l-3.3 5.6zM385.1 294.9h6.6l-3.3 5.6zM387.1 307.4h6.6l-3.3 5.6zM388.4 301.5h6.6l-3.3 5.6zM390.4 297.6h6.6l-3.3 5.6zM391.7 308.7h6.6l-3.3 5.6zM393.7 293h6.6l-3.3 5.6zM395.6 296.9h6.6l-3.3 5.6zM397 304.8h6.6l-3.3 5.6zM398.9 284.4h6.6l-3.3 5.6zM400.2 295.6h6.6l-3.3 5.6zM402.2 286.4h6.6l-3.3 5.6zM404.2 292.3h6.6l-3.3 5.6zM406.2 283.1h6.6l-3.3 5.6zM408.1 304.1h6.6l-3.3 5.6zM410.1 285.1h6.6l-3.3 5.6zM412.1 296.3h6.6l-3.3 5.6zM414 298.9h6.6l-3.3 5.6zM416 304.8h6.6l-3.3 5.6zM418 294.9h6.6l-3.3 5.6zM419.9 299.5h6.6l-3.3 5.6zM422.6 298.2h6.6l-3.3 5.6zM423.9 306.8h6.6l-3.3 5.6zM426.5 299.5h6.6l-3.3 5.6zM427.8 308.7h6.6l-3.3 5.6zM430.5 302.2h6.6l-3.3 5.6zM433.1 308.7h6.6l-3.3 5.6zM434.4 294.9h6.6l-3.3 5.6zM436.4 302.8h6.6l-3.3 5.6zM439 304.8h6.6l-3.3 5.6zM441 308.1h6.6l-3.3 5.6zM443.7 303.5h6.6l-3.3 5.6zM446.2 302.2h6.6l-3.3 5.6zM448.2 307.4h6.6l-3.3 5.6zM450.8 305.5h6.6l-3.3 5.6zM453.5 295.6h6.6l-3.3 5.6zM455.4 298.2h6.6l-3.3 5.6z" fill="#067b70"/>
<path d="M287.3 323.1l3.3 5.6h-6.6zM289.3 332.9l3.3 5.6h-6.6zM291.9 332.3l3.3 5.6h-6.6zM293.9 322.4l3.3 5.6h-6.6zM295.8 336.2l3.3 5.6h-6.6zM297.8 321.1l3.3 5.6h-6.6zM299.8 325l3.3 5.6h-6.6zM301.7 330.3l3.3 5.6h-6.6zM303.7 326.3l3.3 5.6h-6.6zM305.7 330.3l3.3 5.6h-6.6zM307.7 321.7l3.3 5.6h-6.6zM310.3 327.7l3.3 5.6h-6.6zM312.3 332.3l3.3 5.6h-6.6zM314.2 325.7l3.3 5.6h-6.6zM316.2 331.6l3.3 5.6h-6.6zM318.2 321.1l3.3 5.6h-6.6zM320.8 334.2l3.3 5.6h-6.6zM322.8 326.3l3.3 5.6h-6.6zM324.7 321.7l3.3 5.6h-6.6zM326.7 325.7l3.3 5.6h-6.6zM328.7 321.7l3.3 5.6h-6.6zM331.3 329l3.3 5.6h-6.6zM333.3 323.1l3.3 5.6h-6.6zM335.2 325.7l3.3 5.6h-6.6zM337.9 328.3l3.3 5.6h-6.6zM339.8 323.1l3.3 5.6h-6.6zM341.8 326.3l3.3 5.6h-6.6zM344.4 329.6l3.3 5.6h-6.6zM346.4 323.7l3.3 5.6h-6.6zM349 321.1l3.3 5.6h-6.6zM351 329.6l3.3 5.6h-6.6zM353.6 323.1l3.3 5.6h-6.6zM356.3 323.7l3.3 5.6h-6.6zM358.9 325l3.3 5.6h-6.6zM361.5 325.7l3.3 5.6h-6.6zM364.2 323.7l3.3 5.6h-6.6zM366.8 326.3l3.3 5.6h-6.6zM369.4 329l3.3 5.6h-6.6zM372 325l3.3 5.6h-6.6zM373.3 326.3l3.3 5.6h-6.6zM375.3 322.4l3.3 5.6h-6.6zM377.9 326.3l3.3 5.6h-6.6zM379.9 323.7l3.3 5.6h-6.6zM382.5 322.4l3.3 5.6h-6.6zM385.1 329.6l3.3 5.6h-6.6zM387.8 325.7l3.3 5.6h-6.6zM390.4 323.7l3.3 5.6h-6.6zM392.4 329l3.3 5.6h-6.6zM395 327.7l3.3 5.6h-6.6zM397 324.4l3.3 5.6h-6.6zM399.6 326.3l3.3 5.6h-6.6zM402.2 321.1l3.3 5.6h-6.6zM404.2 325.7l3.3 5.6h-6.6zM406.2 328.3l3.3 5.6h-6.6zM408.8 325l3.3 5.6h-6.6zM411.4 323.7l3.3 5.6h-6.6zM414 325l3.3 5.6h-6.6zM416.7 322.4l3.3 5.6h-6.6zM418.6 329l3.3 5.6h-6.6zM421.3 323.1l3.3 5.6h-6.6zM423.9 325l3.3 5.6h-6.6zM426.5 326.3l3.3 5.6h-6.6zM428.5 332.9l3.3 5.6h-6.6zM431.1 329l3.3 5.6h-6.6zM433.1 321.7l3.3 5.6h-6.6zM435.7 321.1l3.3 5.6h-6.6zM437.7 329.6l3.3 5.6h-6.6zM440.3 327.7l3.3 5.6h-6.6zM441.6 321.7l3.3 5.6h-6.6zM444.3 323.7l3.3 5.6h-6.6zM447.6 334.9l3.3 5.6h-6.6zM449.5 326.3l3.3 5.6h-6.6zM450.8 332.3l3.3 5.6h-6.6zM453.5 323.7l3.3 5.6h-6.6zM456.1 326.3l3.3 5.6h-6.6zM458.7 331.6l3.3 5.6h-6.6z" fill="#20378e"/>
<path d="M284.8 370.3a2.5 2.5 0 1 0 5 0a2.5 2.5 0 1 0 -5 0zM287.4 367.7a2.5 2.5 0 1 0 5 0a2.5 2.5 0 1 0 -5 0zM289.4 369.7a2.5 2.5 0 1 0 5 0a2.5 2.5 0 1 0 -5 0zM291.4 362.4a2.5 2.5 0 1 0 5 0a2.5 2.5 0 1 0 -5 0zM294 364.4a2.5 2.5 0 1 0 5 0a2.5 2.5 0 1 0 -5 0zM296 366.4a2.5 2.5 0 1 0 5 0a2.5 2.5 0 1 0 -5 0zM297.9 371a2.5 2.5 0 1 0 5 0a2.5 2.5 0 1 0 -5 0zM300.6 369a2.5 2.5 0 1 0 5 0a2.5 2.5 0 1 0 -5 0zM301.9 365.1a2.5 2.5 0 1 0 5 0a2.5 2.5 0 1 0 -5 0zM303.8 371a2.5 2.5 0 1 0 5 0a2.5 2.5 0 1 0 -5 0zM305.8 363.1a2.5 2.5 0 1 0 5 0a2.5 2.5 0 1 0 -5 0zM307.8 362.4a2.5 2.5 0 1 0 5 0a2.5 2.5 0 1 0 -5 0zM309.8 362.4a2.5 2.5 0 1 0 5 0a2.5 2.5 0 1 0 -5 0zM311.7 367a2.5 2.5 0 1 0 5 0a2.5 2.5 0 1 0 -5 0zM314.4 364.4a2.5 2.5 0 1 0 5 0a2.5 2.5 0 1 0 -5 0zM316.3 358.5a2.5 2.5 0 1 0 5 0a2.5 2.5 0 1 0 -5 0zM318.3 371.6a2.5 2.5 0 1 0 5 0a2.5 2.5 0 1 0 -5 0zM320.3 365.7a2.5 2.5 0 1 0 5 0a2.5 2.5 0 1 0 -5 0zM321.6 361.8a2.5 2.5 0 1 0 5 0a2.5 2.5 0 1 0 -5 0zM323.5 355.9a2.5 2.5 0 1 0 5 0a2.5 2.5 0 1 0 -5 0zM324.9 359.8a2.5 2.5 0 1 0 5 0a2.5 2.5 0 1 0 -5 0zM326.8 361.8a2.5 2.5 0 1 0 5 0a2.5 2.5 0 1 0 -5 0zM328.8 365.7a2.5 2.5 0 1 0 5 0a2.5 2.5 0 1 0 -5 0zM330.8 370.3a2.5 2.5 0 1 0 5 0a2.5 2.5 0 1 0 -5 0zM332.7 369a2.5 2.5 0 1 0 5 0a2.5 2.5 0 1 0 -5 0zM334.1 359.8a2.5 2.5 0 1 0 5 0a2.5 2.5 0 1 0 -5 0zM336 369a2.5 2.5 0 1 0 5 0a2.5 2.5 0 1 0 -5 0zM338 363.7a2.5 2.5 0 1 0 5 0a2.5 2.5 0 1 0 -5 0zM340 367.7a2.5 2.5 0 1 0 5 0a2.5 2.5 0 1 0 -5 0zM341.9 369a2.5 2.5 0 1 0 5 0a2.5 2.5 0 1 0 -5 0zM343.9 371a2.5 2.5 0 1 0 5 0a2.5 2.5 0 1 0 -5 0zM345.9 367.7a2.5 2.5 0 1 0 5 0a2.5 2.5 0 1 0 -5 0zM347.9 370.3a2.5 2.5 0 1 0 5 0a2.5 2.5 0 1 0 -5 0zM349.8 367.7a2.5 2.5 0 1 0 5 0a2.5 2.5 0 1 0 -5 0zM352.5 371a2.5 2.5 0 1 0 5 0a2.5 2.5 0 1 0 -5 0zM354.4 364.4a2.5 2.5 0 1 0 5 0a2.5 2.5 0 1 0 -5 0zM357.1 363.7a2.5 2.5 0 1 0 5 0a2.5 2.5 0 1 0 -5 0zM360.3 357.2a2.5 2.5 0 1 0 5 0a2.5 2.5 0 1 0 -5 0zM361.7 365.1a2.5 2.5 0 1 0 5 0a2.5 2.5 0 1 0 -5 0zM363.6 363.7a2.5 2.5 0 1 0 5 0a2.5 2.5 0 1 0 -5 0zM366.3 367a2.5 2.5 0 1 0 5 0a2.5 2.5 0 1 0 -5 0zM368.9 369a2.5 2.5 0 1 0 5 0a2.5 2.5 0 1 0 -5 0zM370.8 367a2.5 2.5 0 1 0 5 0a2.5 2.5 0 1 0 -5 0zM374.8 358.5a2.5 2.5 0 1 0 5 0a2.5 2.5 0 1 0 -5 0zM376.7 364.4a2.5 2.5 0 1 0 5 0a2.5 2.5 0 1 0 -5 0zM378.7 370.3a2.5 2.5 0 1 0 5 0a2.5 2.5 0 1 0 -5 0zM381.3 359.1a2.5 2.5 0 1 0 5 0a2.5 2.5 0 1 0 -5 0zM384 358.5a2.5 2.5 0 1 0 5 0a2.5 2.5 0 1 0 -5 0zM385.9 363.1a2.5 2.5 0 1 0 5 0a2.5 2.5 0 1 0 -5 0zM388.6 360.5a2.5 2.5 0 1 0 5 0a2.5 2.5 0 1 0 -5 0zM390.5 370.3a2.5 2.5 0 1 0 5 0a2.5 2.5 0 1 0 -5 0zM392.5 367a2.5 2.5 0 1 0 5 0a2.5 2.5 0 1 0 -5 0zM395.1 363.7a2.5 2.5 0 1 0 5 0a2.5 2.5 0 1 0 -5 0zM397.1 367.7a2.5 2.5 0 1 0 5 0a2.5 2.5 0 1 0 -5 0zM399.1 355.2a2.5 2.5 0 1 0 5 0a2.5 2.5 0 1 0 -5 0zM401 365.7a2.5 2.5 0 1 0 5 0a2.5 2.5 0 1 0 -5 0zM403 357.2a2.5 2.5 0 1 0 5 0a2.5 2.5 0 1 0 -5 0zM405 367.7a2.5 2.5 0 1 0 5 0a2.5 2.5 0 1 0 -5 0zM406.3 359.1a2.5 2.5 0 1 0 5 0a2.5 2.5 0 1 0 -5 0zM408.9 357.8a2.5 2.5 0 1 0 5 0a2.5 2.5 0 1 0 -5 0zM411.5 368.3a2.5 2.5 0 1 0 5 0a2.5 2.5 0 1 0 -5 0zM413.5 355.9a2.5 2.5 0 1 0 5 0a2.5 2.5 0 1 0 -5 0zM415.5 367a2.5 2.5 0 1 0 5 0a2.5 2.5 0 1 0 -5 0zM416.8 354.5a2.5 2.5 0 1 0 5 0a2.5 2.5 0 1 0 -5 0zM419.4 366.4a2.5 2.5 0 1 0 5 0a2.5 2.5 0 1 0 -5 0zM422.1 358.5a2.5 2.5 0 1 0 5 0a2.5 2.5 0 1 0 -5 0zM423.4 367a2.5 2.5 0 1 0 5 0a2.5 2.5 0 1 0 -5 0zM426 362.4a2.5 2.5 0 1 0 5 0a2.5 2.5 0 1 0 -5 0zM428.6 367a2.5 2.5 0 1 0 5 0a2.5 2.5 0 1 0 -5 0zM430.6 353.9a2.5 2.5 0 1 0 5 0a2.5 2.5 0 1 0 -5 0zM432.6 366.4a2.5 2.5 0 1 0 5 0a2.5 2.5 0 1 0 -5 0zM434.5 353.9a2.5 2.5 0 1 0 5 0a2.5 2.5 0 1 0 -5 0zM436.5 365.7a2.5 2.5 0 1 0 5 0a2.5 2.5 0 1 0 -5 0zM439.1 358.5a2.5 2.5 0 1 0 5 0a2.5 2.5 0 1 0 -5 0zM441.1 357.2a2.5 2.5 0 1 0 5 0a2.5 2.5 0 1 0 -5 0zM443.1 363.1a2.5 2.5 0 1 0 5 0a2.5 2.5 0 1 0 -5 0zM445.1 358.5a2.5 2.5 0 1 0 5 0a2.5 2.5 0 1 0 -5 0zM447 368.3a2.5 2.5 0 1 0 5 0a2.5 2.5 0 1 0 -5 0zM449 364.4a2.5 2.5 0 1 0 5 0a2.5 2.5 0 1 0 -5 0zM451 369.7a2.5 2.5 0 1 0 5 0a2.5 2.5 0 1 0 -5 0zM453.6 353.9a2.5 2.5 0 1 0 5 0a2.5 2.5 0 1 0 -5 0zM454.9 361.8a2.5 2.5 0 1 0 5 0a2.5 2.5 0 1 0 -5 0zM456.9 369.7a2.5 2.5 0 1 0 5 0a2.5 2.5 0 1 0 -5 0z" fill="#e2481a"/>
<path d="M285.66 421.92h4v4h-4zM287.43 421.95h4v4h-4zM289.19 423.77h4v4h-4zM290.96 420.81h4v4h-4zM292.72 422.96h4v4h-4zM294.48 420.84h4v4h-4zM296.25 424.2h4v4h-4zM298.01 423.3h4v4h-4zM299.78 424.46h4v4h-4zM301.54 422.6h4v4h-4zM303.3 423.5h4v4h-4zM305.07 422.81h4v4h-4zM306.83 422.36h4v4h-4zM308.6 423.25h4v4h-4zM310.36 421.84h4v4h-4zM312.12 422.75h4v4h-4zM313.89 423.8h4v4h-4zM315.65 423.16h4v4h-4zM317.42 422.69h4v4h-4zM319.18 425.29h4v4h-4zM320.94 423.16h4v4h-4zM322.71 422.51h4v4h-4zM324.47 423.26h4v4h-4zM326.24 422.58h4v4h-4zM328 422.71h4v4h-4zM329.76 422.75h4v4h-4zM331.53 425.13h4v4h-4zM333.29 423.12h4v4h-4zM335.06 423.28h4v4h-4zM336.82 423.77h4v4h-4zM338.58 425.12h4v4h-4zM340.35 422.88h4v4h-4zM342.11 422.48h4v4h-4zM343.88 425.57h4v4h-4zM345.64 421.64h4v4h-4zM347.4 422.73h4v4h-4zM349.17 423.77h4v4h-4zM350.93 425.38h4v4h-4zM352.7 422.15h4v4h-4zM354.46 420.67h4v4h-4zM356.22 423.76h4v4h-4zM357.99 422.58h4v4h-4zM359.75 422.71h4v4h-4zM361.52 423.6h4v4h-4zM363.28 423.46h4v4h-4zM365.04 423.62h4v4h-4zM366.81 422.99h4v4h-4zM368.57 424.8h4v4h-4zM370.34 425.11h4v4h-4zM372.1 423.74h4v4h-4zM373.86 423.35h4v4h-4zM375.63 424.63h4v4h-4zM377.39 424.46h4v4h-4zM379.16 423.04h4v4h-4zM380.92 423.71h4v4h-4zM382.68 425.32h4v4h-4zM384.45 424.27h4v4h-4zM386.21 424.13h4v4h-4zM387.98 424.93h4v4h-4zM389.74 425.09h4v4h-4zM391.5 425.52h4v4h-4zM393.27 423.99h4v4h-4zM395.03 428.07h4v4h-4zM396.8 426.93h4v4h-4zM398.56 426.19h4v4h-4zM400.32 428.26h4v4h-4zM402.09 427.8h4v4h-4zM403.85 427.72h4v4h-4zM405.62 428.96h4v4h-4zM407.38 430.39h4v4h-4zM409.14 428.44h4v4h-4zM410.91 428.99h4v4h-4zM412.67 429.07h4v4h-4zM414.44 425.41h4v4h-4zM416.2 425.34h4v4h-4zM417.96 425.41h4v4h-4zM419.73 421.7h4v4h-4zM421.49 421.91h4v4h-4zM423.26 422.24h4v4h-4zM425.02 421.62h4v4h-4zM426.78 421.28h4v4h-4zM428.55 418.93h4v4h-4zM430.31 423.31h4v4h-4zM432.08 421.63h4v4h-4zM433.84 421.97h4v4h-4zM435.6 421.82h4v4h-4zM437.37 419.74h4v4h-4zM439.13 420.09h4v4h-4zM440.9 420.35h4v4h-4zM442.66 423.53h4v4h-4zM444.42 420.83h4v4h-4zM446.19 421.46h4v4h-4zM447.95 421.49h4v4h-4zM449.72 422.36h4v4h-4zM451.48 421.73h4v4h-4zM453.24 420.72h4v4h-4zM455.01 418.41h4v4h-4zM456.77 415.57h4v4h-4zM458.54 418.17h4v4h-4zM460.3 418.27h4v4h-4z" fill="#000"/>
<rect x="285.9" y="256.2" width="176.4" height="191.5" fill="none" stroke="#000" stroke-width="1.5"/>
<path d="M491.3 304.9h6.6l-3.3 5.6zM493.9 304.3h6.6l-3.3 5.6zM496.6 308.9h6.6l-3.3 5.6zM499.2 306.3h6.6l-3.3 5.6zM501.8 306.3h6.6l-3.3 5.6zM503.1 296.4h6.6l-3.3 5.6zM505.8 305.6h6.6l-3.3 5.6zM507.7 307.6h6.6l-3.3 5.6zM509.7 297.7h6.6l-3.3 5.6zM511.7 296.4h6.6l-3.3 5.6zM514.3 299.7h6.6l-3.3 5.6zM516.3 295.1h6.6l-3.3 5.6zM518.9 297.7h6.6l-3.3 5.6zM521.5 294.4h6.6l-3.3 5.6zM523.5 301.7h6.6l-3.3 5.6zM525.5 305.6h6.6l-3.3 5.6zM528.1 301.7h6.6l-3.3 5.6zM530.7 306.3h6.6l-3.3 5.6zM533.3 295.7h6.6l-3.3 5.6zM535.3 303.6h6.6l-3.3 5.6zM537.3 308.2h6.6l-3.3 5.6zM539.3 306.9h6.6l-3.3 5.6zM541.2 297.7h6.6l-3.3 5.6zM543.9 299.7h6.6l-3.3 5.6zM545.8 305.6h6.6l-3.3 5.6zM547.8 300.3h6.6l-3.3 5.6zM550.4 295.1h6.6l-3.3 5.6zM552.4 302.3h6.6l-3.3 5.6zM554.4 299h6.6l-3.3 5.6zM556.3 299.7h6.6l-3.3 5.6zM559 301.7h6.6l-3.3 5.6zM560.9 295.1h6.6l-3.3 5.6zM563.6 297.1h6.6l-3.3 5.6zM565.5 304.3h6.6l-3.3 5.6zM568.2 304.9h6.6l-3.3 5.6zM570.8 304.3h6.6l-3.3 5.6zM573.4 302.3h6.6l-3.3 5.6zM575.4 305.6h6.6l-3.3 5.6zM576.7 301.7h6.6l-3.3 5.6zM579.3 299.7h6.6l-3.3 5.6zM581.9 304.3h6.6l-3.3 5.6zM584.6 306.3h6.6l-3.3 5.6zM587.2 297.7h6.6l-3.3 5.6zM589.2 303h6.6l-3.3 5.6zM591.1 295.7h6.6l-3.3 5.6zM593.1 305.6h6.6l-3.3 5.6zM595.7 301.7h6.6l-3.3 5.6zM598.4 306.3h6.6l-3.3 5.6zM601 300.3h6.6l-3.3 5.6zM603 304.9h6.6l-3.3 5.6zM605.6 300.3h6.6l-3.3 5.6zM608.2 304.3h6.6l-3.3 5.6zM610.2 299h6.6l-3.3 5.6zM612.8 300.3h6.6l-3.3 5.6zM614.8 304.3h6.6l-3.3 5.6zM617.4 308.2h6.6l-3.3 5.6zM620 295.1h6.6l-3.3 5.6zM622 297.7h6.6l-3.3 5.6zM624 295.7h6.6l-3.3 5.6zM625.9 299h6.6l-3.3 5.6zM627.9 301.7h6.6l-3.3 5.6zM629.9 304.9h6.6l-3.3 5.6zM632.5 296.4h6.6l-3.3 5.6zM634.5 301.7h6.6l-3.3 5.6zM636.5 297.1h6.6l-3.3 5.6zM639.1 303h6.6l-3.3 5.6zM641.7 300.3h6.6l-3.3 5.6zM643.7 306.9h6.6l-3.3 5.6zM646.3 299.7h6.6l-3.3 5.6zM648.3 304.3h6.6l-3.3 5.6zM650.9 301.7h6.6l-3.3 5.6zM653.5 306.3h6.6l-3.3 5.6zM656.2 303.6h6.6l-3.3 5.6zM658.8 306.9h6.6l-3.3 5.6zM661.4 300.3h6.6l-3.3 5.6z" fill="#067b70"/>
<path d="M493.9 321.1l3.3 5.6h-6.6zM495.9 324.4l3.3 5.6h-6.6zM498.5 329l3.3 5.6h-6.6zM501.2 328.3l3.3 5.6h-6.6zM503.8 334.9l3.3 5.6h-6.6zM506.4 324.4l3.3 5.6h-6.6zM509.1 327l3.3 5.6h-6.6zM511 321.1l3.3 5.6h-6.6zM513 324.4l3.3 5.6h-6.6zM514.3 334.9l3.3 5.6h-6.6zM516.9 327.7l3.3 5.6h-6.6zM519.6 325.7l3.3 5.6h-6.6zM522.2 323.1l3.3 5.6h-6.6zM524.2 325.7l3.3 5.6h-6.6zM526.8 329l3.3 5.6h-6.6zM529.4 326.4l3.3 5.6h-6.6zM532 328.3l3.3 5.6h-6.6zM534.7 330.3l3.3 5.6h-6.6zM537.3 325.1l3.3 5.6h-6.6zM539.9 327.7l3.3 5.6h-6.6zM542.6 325.1l3.3 5.6h-6.6zM544.5 334.9l3.3 5.6h-6.6zM545.8 328.3l3.3 5.6h-6.6zM547.8 335.6l3.3 5.6h-6.6zM549.8 326.4l3.3 5.6h-6.6zM551.8 335.6l3.3 5.6h-6.6zM553.7 321.8l3.3 5.6h-6.6zM555.7 325.7l3.3 5.6h-6.6zM557.7 329l3.3 5.6h-6.6zM560.3 321.8l3.3 5.6h-6.6zM562.3 331.6l3.3 5.6h-6.6zM564.9 331l3.3 5.6h-6.6zM567.5 333.6l3.3 5.6h-6.6zM569.5 327.7l3.3 5.6h-6.6zM572.1 332.3l3.3 5.6h-6.6zM574.8 334.9l3.3 5.6h-6.6zM576.1 323.1l3.3 5.6h-6.6zM578 325.7l3.3 5.6h-6.6zM579.3 325.1l3.3 5.6h-6.6zM581.9 330.3l3.3 5.6h-6.6zM583.9 323.1l3.3 5.6h-6.6zM586.5 327l3.3 5.6h-6.6zM588.5 320.5l3.3 5.6h-6.6zM590.5 329.6l3.3 5.6h-6.6zM593.1 326.4l3.3 5.6h-6.6zM595.7 325.1l3.3 5.6h-6.6zM598.4 324.4l3.3 5.6h-6.6zM601 322.4l3.3 5.6h-6.6zM603 328.3l3.3 5.6h-6.6zM605.6 321.1l3.3 5.6h-6.6zM608.2 331.6l3.3 5.6h-6.6zM610.2 325.7l3.3 5.6h-6.6zM612.8 327l3.3 5.6h-6.6zM615.5 327.7l3.3 5.6h-6.6zM618.1 324.4l3.3 5.6h-6.6zM620 331l3.3 5.6h-6.6zM622 324.4l3.3 5.6h-6.6zM624 331.6l3.3 5.6h-6.6zM626.6 324.4l3.3 5.6h-6.6zM629.2 328.3l3.3 5.6h-6.6zM631.9 329l3.3 5.6h-6.6zM634.5 323.7l3.3 5.6h-6.6zM636.5 332.3l3.3 5.6h-6.6zM639.1 332.3l3.3 5.6h-6.6zM641.1 325.7l3.3 5.6h-6.6zM643.7 324.4l3.3 5.6h-6.6zM646.3 327l3.3 5.6h-6.6zM648.3 335.6l3.3 5.6h-6.6zM651 328.3l3.3 5.6h-6.6zM653 334.9l3.3 5.6h-6.6zM655.5 327l3.3 5.6h-6.6zM658.2 331l3.3 5.6h-6.6zM660.8 327.7l3.3 5.6h-6.6zM663.4 325.1l3.3 5.6h-6.6zM665.4 324.4l3.3 5.6h-6.6z" fill="#20378e"/>
<path d="M491.4 364.4a2.5 2.5 0 1 0 5 0a2.5 2.5 0 1 0 -5 0zM492.8 357.8a2.5 2.5 0 1 0 5 0a2.5 2.5 0 1 0 -5 0zM494.7 353.2a2.5 2.5 0 1 0 5 0a2.5 2.5 0 1 0 -5 0zM496.7 359.8a2.5 2.5 0 1 0 5 0a2.5 2.5 0 1 0 -5 0zM498.7 355.9a2.5 2.5 0 1 0 5 0a2.5 2.5 0 1 0 -5 0zM500.6 363.7a2.5 2.5 0 1 0 5 0a2.5 2.5 0 1 0 -5 0zM502.6 366.4a2.5 2.5 0 1 0 5 0a2.5 2.5 0 1 0 -5 0zM504.6 361.1a2.5 2.5 0 1 0 5 0a2.5 2.5 0 1 0 -5 0zM506.6 367a2.5 2.5 0 1 0 5 0a2.5 2.5 0 1 0 -5 0zM508.5 359.1a2.5 2.5 0 1 0 5 0a2.5 2.5 0 1 0 -5 0zM510.5 353.9a2.5 2.5 0 1 0 5 0a2.5 2.5 0 1 0 -5 0zM512.5 365.7a2.5 2.5 0 1 0 5 0a2.5 2.5 0 1 0 -5 0zM513.8 351.3a2.5 2.5 0 1 0 5 0a2.5 2.5 0 1 0 -5 0zM515.8 359.1a2.5 2.5 0 1 0 5 0a2.5 2.5 0 1 0 -5 0zM518.4 361.8a2.5 2.5 0 1 0 5 0a2.5 2.5 0 1 0 -5 0zM520.4 357.2a2.5 2.5 0 1 0 5 0a2.5 2.5 0 1 0 -5 0zM522.3 355.9a2.5 2.5 0 1 0 5 0a2.5 2.5 0 1 0 -5 0zM524.3 360.5a2.5 2.5 0 1 0 5 0a2.5 2.5 0 1 0 -5 0zM526.9 358.5a2.5 2.5 0 1 0 5 0a2.5 2.5 0 1 0 -5 0zM529.5 357.8a2.5 2.5 0 1 0 5 0a2.5 2.5 0 1 0 -5 0zM531.5 351.9a2.5 2.5 0 1 0 5 0a2.5 2.5 0 1 0 -5 0zM532.8 362.4a2.5 2.5 0 1 0 5 0a2.5 2.5 0 1 0 -5 0zM535.5 358.5a2.5 2.5 0 1 0 5 0a2.5 2.5 0 1 0 -5 0zM537.4 363.7a2.5 2.5 0 1 0 5 0a2.5 2.5 0 1 0 -5 0zM539.4 360.5a2.5 2.5 0 1 0 5 0a2.5 2.5 0 1 0 -5 0zM541.4 365.7a2.5 2.5 0 1 0 5 0a2.5 2.5 0 1 0 -5 0zM544 360.5a2.5 2.5 0 1 0 5 0a2.5 2.5 0 1 0 -5 0zM546.6 356.5a2.5 2.5 0 1 0 5 0a2.5 2.5 0 1 0 -5 0zM548.6 363.1a2.5 2.5 0 1 0 5 0a2.5 2.5 0 1 0 -5 0zM550.6 365.7a2.5 2.5 0 1 0 5 0a2.5 2.5 0 1 0 -5 0zM553.2 361.1a2.5 2.5 0 1 0 5 0a2.5 2.5 0 1 0 -5 0zM555.8 360.5a2.5 2.5 0 1 0 5 0a2.5 2.5 0 1 0 -5 0zM559.1 355.9a2.5 2.5 0 1 0 5 0a2.5 2.5 0 1 0 -5 0zM561.1 359.1a2.5 2.5 0 1 0 5 0a2.5 2.5 0 1 0 -5 0zM563.7 361.8a2.5 2.5 0 1 0 5 0a2.5 2.5 0 1 0 -5 0zM566.3 364.4a2.5 2.5 0 1 0 5 0a2.5 2.5 0 1 0 -5 0zM569 356.5a2.5 2.5 0 1 0 5 0a2.5 2.5 0 1 0 -5 0zM571.6 361.1a2.5 2.5 0 1 0 5 0a2.5 2.5 0 1 0 -5 0zM573.6 355.9a2.5 2.5 0 1 0 5 0a2.5 2.5 0 1 0 -5 0zM574.9 365.1a2.5 2.5 0 1 0 5 0a2.5 2.5 0 1 0 -5 0zM576.8 355.9a2.5 2.5 0 1 0 5 0a2.5 2.5 0 1 0 -5 0zM578.1 361.8a2.5 2.5 0 1 0 5 0a2.5 2.5 0 1 0 -5 0zM580.8 358.5a2.5 2.5 0 1 0 5 0a2.5 2.5 0 1 0 -5 0zM582.7 355.2a2.5 2.5 0 1 0 5 0a2.5 2.5 0 1 0 -5 0zM584 365.1a2.5 2.5 0 1 0 5 0a2.5 2.5 0 1 0 -5 0zM586.7 359.8a2.5 2.5 0 1 0 5 0a2.5 2.5 0 1 0 -5 0zM588.6 356.5a2.5 2.5 0 1 0 5 0a2.5 2.5 0 1 0 -5 0zM591.3 361.8a2.5 2.5 0 1 0 5 0a2.5 2.5 0 1 0 -5 0zM593.9 365.7a2.5 2.5 0 1 0 5 0a2.5 2.5 0 1 0 -5 0zM595.9 361.8a2.5 2.5 0 1 0 5 0a2.5 2.5 0 1 0 -5 0zM598.5 359.1a2.5 2.5 0 1 0 5 0a2.5 2.5 0 1 0 -5 0zM601.1 363.1a2.5 2.5 0 1 0 5 0a2.5 2.5 0 1 0 -5 0zM603.1 357.2a2.5 2.5 0 1 0 5 0a2.5 2.5 0 1 0 -5 0zM605.7 360.5a2.5 2.5 0 1 0 5 0a2.5 2.5 0 1 0 -5 0zM607.7 364.4a2.5 2.5 0 1 0 5 0a2.5 2.5 0 1 0 -5 0zM610.3 355.9a2.5 2.5 0 1 0 5 0a2.5 2.5 0 1 0 -5 0zM611.6 361.8a2.5 2.5 0 1 0 5 0a2.5 2.5 0 1 0 -5 0zM613.6 353.9a2.5 2.5 0 1 0 5 0a2.5 2.5 0 1 0 -5 0zM615.6 358.5a2.5 2.5 0 1 0 5 0a2.5 2.5 0 1 0 -5 0zM617.5 351.3a2.5 2.5 0 1 0 5 0a2.5 2.5 0 1 0 -5 0zM618.9 363.1a2.5 2.5 0 1 0 5 0a2.5 2.5 0 1 0 -5 0zM621.5 362.4a2.5 2.5 0 1 0 5 0a2.5 2.5 0 1 0 -5 0zM624.1 359.8a2.5 2.5 0 1 0 5 0a2.5 2.5 0 1 0 -5 0zM626.7 363.1a2.5 2.5 0 1 0 5 0a2.5 2.5 0 1 0 -5 0zM629.4 361.1a2.5 2.5 0 1 0 5 0a2.5 2.5 0 1 0 -5 0zM632 363.7a2.5 2.5 0 1 0 5 0a2.5 2.5 0 1 0 -5 0zM634.6 361.8a2.5 2.5 0 1 0 5 0a2.5 2.5 0 1 0 -5 0zM637.3 360.5a2.5 2.5 0 1 0 5 0a2.5 2.5 0 1 0 -5 0zM639.9 363.1a2.5 2.5 0 1 0 5 0a2.5 2.5 0 1 0 -5 0zM642.5 361.1a2.5 2.5 0 1 0 5 0a2.5 2.5 0 1 0 -5 0zM645.1 357.2a2.5 2.5 0 1 0 5 0a2.5 2.5 0 1 0 -5 0zM647.8 362.4a2.5 2.5 0 1 0 5 0a2.5 2.5 0 1 0 -5 0zM650.4 361.8a2.5 2.5 0 1 0 5 0a2.5 2.5 0 1 0 -5 0zM653 363.1a2.5 2.5 0 1 0 5 0a2.5 2.5 0 1 0 -5 0zM655.7 363.7a2.5 2.5 0 1 0 5 0a2.5 2.5 0 1 0 -5 0zM658.3 364.4a2.5 2.5 0 1 0 5 0a2.5 2.5 0 1 0 -5 0zM660.9 365.1a2.5 2.5 0 1 0 5 0a2.5 2.5 0 1 0 -5 0zM662.9 365.1a2.5 2.5 0 1 0 5 0a2.5 2.5 0 1 0 -5 0z" fill="#e2481a"/>
<path d="M491.95 425.75h4v4h-4zM493.7 423.69h4v4h-4zM495.45 424.6h4v4h-4zM497.2 425.36h4v4h-4zM498.95 426.62h4v4h-4zM500.7 425.29h4v4h-4zM502.45 423.8h4v4h-4zM504.2 425.57h4v4h-4zM505.95 424.21h4v4h-4zM507.7 426.39h4v4h-4zM509.45 425.05h4v4h-4zM511.2 426.88h4v4h-4zM512.95 425.16h4v4h-4zM514.7 424.35h4v4h-4zM516.45 423.95h4v4h-4zM518.2 424.95h4v4h-4zM519.95 425.67h4v4h-4zM521.7 426.34h4v4h-4zM523.45 425.51h4v4h-4zM525.2 424.6h4v4h-4zM526.95 425.72h4v4h-4zM528.7 423.97h4v4h-4zM530.45 425.72h4v4h-4zM532.2 424.59h4v4h-4zM533.95 426.61h4v4h-4zM535.7 426.15h4v4h-4zM537.45 425.59h4v4h-4zM539.2 424.33h4v4h-4zM540.95 425.75h4v4h-4zM542.7 425.58h4v4h-4zM544.45 424.76h4v4h-4zM546.2 424.69h4v4h-4zM547.95 426.39h4v4h-4zM549.7 424.88h4v4h-4zM551.45 425.64h4v4h-4zM553.2 426.49h4v4h-4zM554.95 423.9h4v4h-4zM556.7 426.85h4v4h-4zM558.45 426.15h4v4h-4zM560.2 424.65h4v4h-4zM561.95 424.38h4v4h-4zM563.7 424.13h4v4h-4zM565.45 426.07h4v4h-4zM567.2 422.91h4v4h-4zM568.95 426.07h4v4h-4zM570.7 425.38h4v4h-4zM572.45 424.61h4v4h-4zM574.2 424.76h4v4h-4zM575.95 424.89h4v4h-4zM577.7 425.01h4v4h-4zM579.45 426.02h4v4h-4zM581.2 424.46h4v4h-4zM582.95 426.2h4v4h-4zM584.7 426.1h4v4h-4zM586.45 424.98h4v4h-4zM588.2 425.76h4v4h-4zM589.95 424.72h4v4h-4zM591.7 425.26h4v4h-4zM593.45 425.65h4v4h-4zM595.2 426.95h4v4h-4zM596.95 425.16h4v4h-4zM598.7 425.08h4v4h-4zM600.45 425.27h4v4h-4zM602.2 425.1h4v4h-4zM603.95 424.32h4v4h-4zM605.7 427.01h4v4h-4zM607.45 424.78h4v4h-4zM609.2 424.84h4v4h-4zM610.95 424.75h4v4h-4zM612.7 426.04h4v4h-4zM614.45 428.12h4v4h-4zM616.2 428.21h4v4h-4zM617.95 426.39h4v4h-4zM619.7 425.84h4v4h-4zM621.45 425.53h4v4h-4zM623.2 424.67h4v4h-4zM624.95 426.27h4v4h-4zM626.7 425.55h4v4h-4zM628.45 427.54h4v4h-4zM630.2 425.44h4v4h-4zM631.95 424.8h4v4h-4zM633.7 424.08h4v4h-4zM635.45 424.16h4v4h-4zM637.2 426.34h4v4h-4zM638.95 426.09h4v4h-4zM640.7 424.71h4v4h-4zM642.45 424.33h4v4h-4zM644.2 425.94h4v4h-4zM645.95 425.33h4v4h-4zM647.7 425.83h4v4h-4zM649.45 425.57h4v4h-4zM651.2 424.85h4v4h-4zM652.95 423.95h4v4h-4zM654.7 425.61h4v4h-4zM656.45 425.55h4v4h-4zM658.2 425.59h4v4h-4zM659.95 426.25h4v4h-4zM661.7 426.2h4v4h-4zM663.45 424.88h4v4h-4zM665.2 425.83h4v4h-4z" fill="#000"/>
<rect x="492.2" y="256.2" width="175" height="191.5" fill="none" stroke="#000" stroke-width="1.5"/>
<text transform="translate(220.61 271.91) scale(1.1402 1.0640)" font-size="14" fill="#e2481a" >Top</text>
<text transform="translate(411.28 272.50) scale(1.0548 1.0500)" font-size="14" fill="#e2481a" >Middle</text>
<text transform="translate(611.97 274.60) scale(1.0627 1.0526)" font-size="14" fill="#e2481a" >Bottom</text>
<text transform="translate(618.37 293.00) scale(1.0333 1.0000)" font-size="14" fill="#067b70" >level 4</text>
<text transform="translate(618.98 322.80) scale(1.0168 1.0000)" font-size="14" fill="#20378e" >level 3</text>
<text transform="translate(619.00 352.80) scale(1.0039 1.0000)" font-size="14" fill="#e2481a" >level 2</text>
<text transform="translate(619.49 419.80) scale(1.0116 1.0100)" font-size="14" fill="#000" >level 1</text>
</svg></body></html>
